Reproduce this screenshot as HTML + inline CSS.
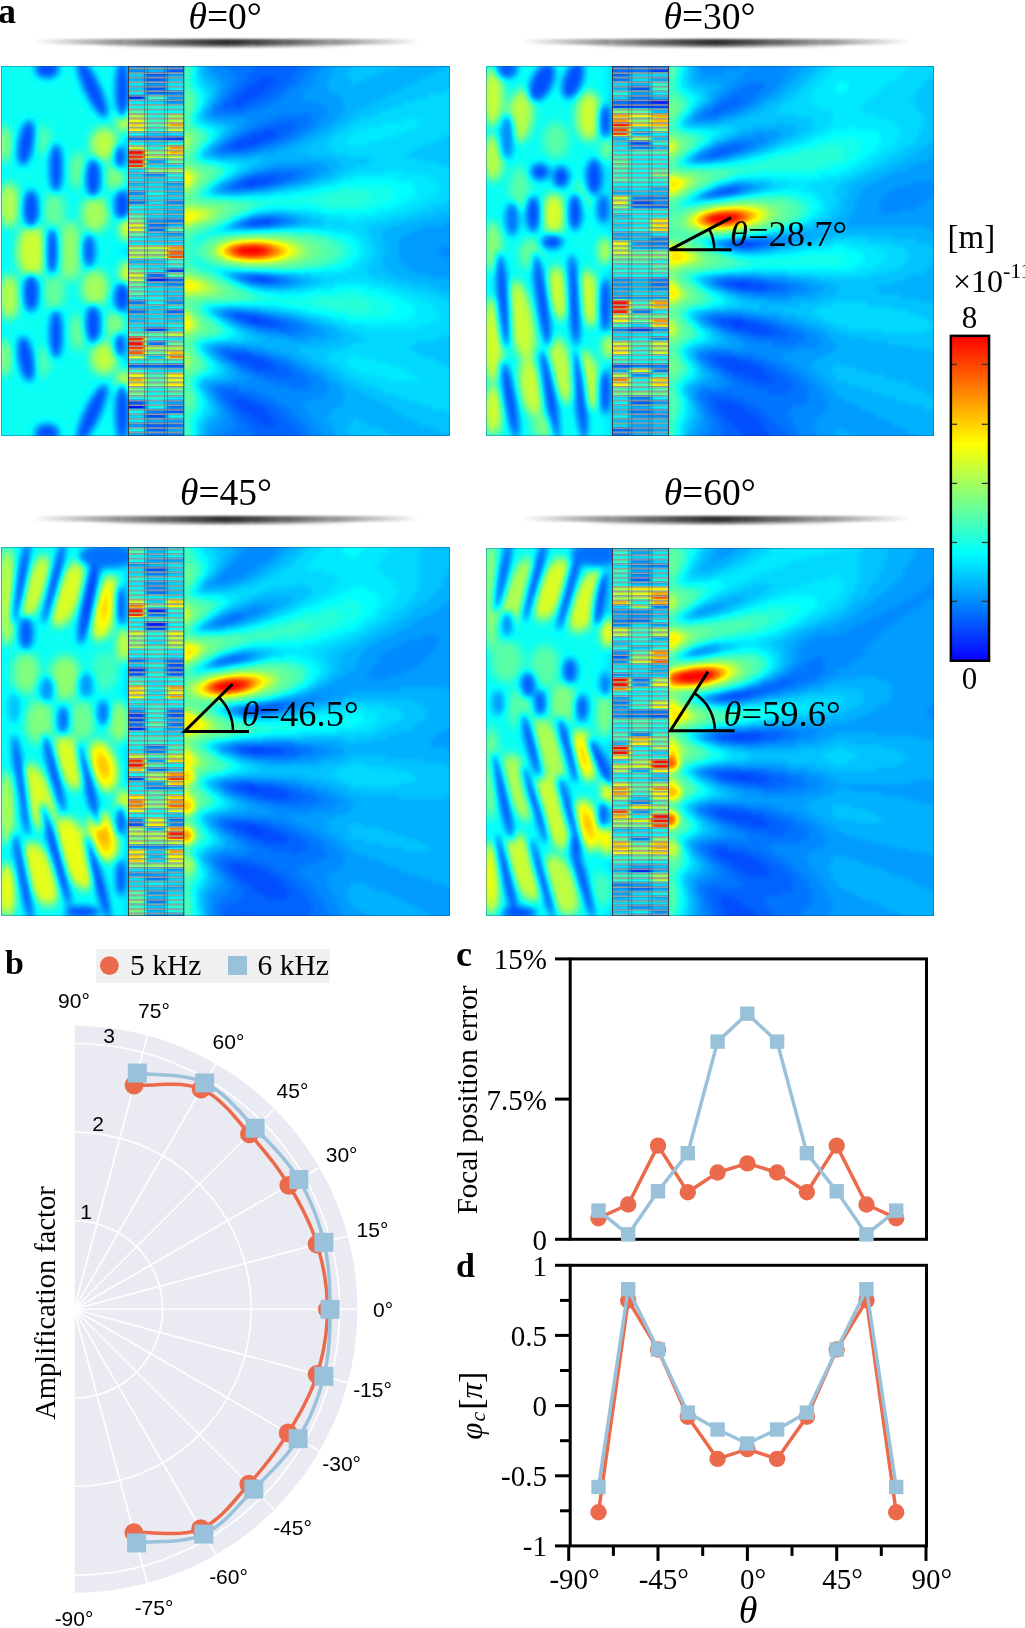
<!DOCTYPE html>
<html><head><meta charset="utf-8"><style>
html,body{margin:0;padding:0;background:#fff;width:1025px;height:1628px;overflow:hidden}
svg{display:block}
.sf{font-family:"Liberation Serif",serif}
.ss{font-family:"Liberation Sans",sans-serif}
</style></head><body>
<svg width="1025" height="1628" viewBox="0 0 1025 1628">
<defs>
<linearGradient id="barg" x1="0" x2="1" y1="0" y2="0">
<stop offset="0" stop-color="#000" stop-opacity="0"/><stop offset="0.5" stop-color="#222" stop-opacity="0.95"/><stop offset="1" stop-color="#000" stop-opacity="0"/></linearGradient>
<linearGradient id="barg2" x1="0" x2="1" y1="0" y2="0"><stop offset="0" stop-color="#000" stop-opacity="0"/><stop offset="0.5" stop-color="#000" stop-opacity="0.4"/><stop offset="1" stop-color="#000" stop-opacity="0"/></linearGradient>
<filter id="bb" x="-5%" y="-100%" width="110%" height="300%"><feGaussianBlur stdDeviation="0.8 0.8"/></filter>
<linearGradient id="cmapg" x1="0" x2="0" y1="1" y2="0">
<stop offset="0" stop-color="#0a00ff"/><stop offset="0.1667" stop-color="#0080ff"/><stop offset="0.333" stop-color="#00ffff"/><stop offset="0.5" stop-color="#80ff80"/><stop offset="0.667" stop-color="#ffff00"/><stop offset="0.833" stop-color="#ff8000"/><stop offset="1" stop-color="#ff0000"/></linearGradient>
</defs>
<filter id="cmap" x="0" y="0" width="1" height="1" color-interpolation-filters="sRGB"><feComponentTransfer>
<feFuncR type="table" tableValues="0 0 1 1"/><feFuncG type="table" tableValues="0 1 1 0"/><feFuncB type="table" tableValues="1 1 0 0"/>
</feComponentTransfer></filter>
<filter id="sbl" x="-10%" y="-2%" width="120%" height="104%" color-interpolation-filters="sRGB"><feGaussianBlur stdDeviation="2.2 0.4"/></filter>
<filter id="bl1_5" x="-50%" y="-50%" width="200%" height="200%" color-interpolation-filters="sRGB"><feGaussianBlur stdDeviation="1.5"/></filter>
<filter id="bl2" x="-50%" y="-50%" width="200%" height="200%" color-interpolation-filters="sRGB"><feGaussianBlur stdDeviation="2"/></filter>
<filter id="bl3" x="-50%" y="-50%" width="200%" height="200%" color-interpolation-filters="sRGB"><feGaussianBlur stdDeviation="3"/></filter>
<filter id="bl3_5" x="-50%" y="-50%" width="200%" height="200%" color-interpolation-filters="sRGB"><feGaussianBlur stdDeviation="3.5"/></filter>
<filter id="bl4" x="-50%" y="-50%" width="200%" height="200%" color-interpolation-filters="sRGB"><feGaussianBlur stdDeviation="4"/></filter>
<filter id="bl5" x="-50%" y="-50%" width="200%" height="200%" color-interpolation-filters="sRGB"><feGaussianBlur stdDeviation="5"/></filter>
<filter id="bl6" x="-50%" y="-50%" width="200%" height="200%" color-interpolation-filters="sRGB"><feGaussianBlur stdDeviation="6"/></filter>
<filter id="bl8" x="-50%" y="-50%" width="200%" height="200%" color-interpolation-filters="sRGB"><feGaussianBlur stdDeviation="8"/></filter>
<filter id="bl10" x="-50%" y="-50%" width="200%" height="200%" color-interpolation-filters="sRGB"><feGaussianBlur stdDeviation="10"/></filter>
<pattern id="lines1" x="0" y="67.5" width="8" height="4.55" patternUnits="userSpaceOnUse"><rect x="0" y="0" width="8" height="2.1" fill="#333" fill-opacity="0.45"/><rect x="0" y="0.4" width="8" height="1.3" fill="#ababab" fill-opacity="0.97"/></pattern>
<clipPath id="sclip1"><rect x="128.5" y="66" width="55.30000000000001" height="370"/></clipPath>
<clipPath id="clip1"><rect x="1" y="66" width="449" height="370"/></clipPath>
<pattern id="lines2" x="0" y="67.5" width="8" height="4.55" patternUnits="userSpaceOnUse"><rect x="0" y="0" width="8" height="2.1" fill="#333" fill-opacity="0.45"/><rect x="0" y="0.4" width="8" height="1.3" fill="#ababab" fill-opacity="0.97"/></pattern>
<clipPath id="sclip2"><rect x="612.5" y="66" width="56.0" height="370"/></clipPath>
<clipPath id="clip2"><rect x="486" y="66" width="448" height="370"/></clipPath>
<pattern id="lines3" x="0" y="548.5" width="8" height="4.55" patternUnits="userSpaceOnUse"><rect x="0" y="0" width="8" height="2.1" fill="#333" fill-opacity="0.45"/><rect x="0" y="0.4" width="8" height="1.3" fill="#ababab" fill-opacity="0.97"/></pattern>
<clipPath id="sclip3"><rect x="128.5" y="547" width="55.30000000000001" height="369"/></clipPath>
<clipPath id="clip3"><rect x="1" y="547" width="449" height="369"/></clipPath>
<pattern id="lines4" x="0" y="549.5" width="8" height="4.55" patternUnits="userSpaceOnUse"><rect x="0" y="0" width="8" height="2.1" fill="#333" fill-opacity="0.45"/><rect x="0" y="0.4" width="8" height="1.3" fill="#ababab" fill-opacity="0.97"/></pattern>
<clipPath id="sclip4"><rect x="612.5" y="548" width="56.0" height="368"/></clipPath>
<clipPath id="clip4"><rect x="486" y="548" width="448" height="368"/></clipPath>
<g clip-path="url(#clip1)"><g filter="url(#cmap)">
<rect x="-19" y="46" width="489" height="410" fill="rgb(59,59,59)"/>
<g filter="url(#bl2)"><path fill="rgb(20,20,20)" d="M247 182h8v4h-8zM259 278h8v4h-8zM251 318h8v4h-8z"/><path fill="rgb(26,26,26)" d="M259 78h16v4h-16zM255 82h16v4h-16zM247 86h20v4h-20zM243 90h20v4h-20zM239 94h20v4h-20zM235 98h16v4h-16zM235 102h8v4h-8zM263 130h12v4h-12zM251 134h24v4h-24zM239 138h28v4h-28zM235 142h24v4h-24zM231 146h12v4h-12zM247 178h28v4h-28zM239 182h8v4h-8zM255 182h12v4h-12zM259 218h12v4h-12zM247 222h24v4h-24zM251 278h8v4h-8zM267 278h8v4h-8zM235 314h20v4h-20zM243 318h8v4h-8zM259 318h12v4h-12zM255 322h20v4h-20zM231 354h20v4h-20zM235 358h28v4h-28zM247 362h24v4h-24zM255 366h20v4h-20zM235 398h12v4h-12zM235 402h20v4h-20zM239 406h24v4h-24zM243 410h24v4h-24zM251 414h20v4h-20zM255 418h16v4h-16zM263 422h12v4h-12z"/><path fill="rgb(33,33,33)" d="M259 62h40v4h-40zM255 66h44v4h-44zM251 70h44v4h-44zM247 74h44v4h-44zM247 78h12v4h-12zM275 78h16v4h-16zM243 82h12v4h-12zM271 82h16v4h-16zM239 86h8v4h-8zM267 86h16v4h-16zM235 90h8v4h-8zM263 90h12v4h-12zM231 94h8v4h-8zM259 94h12v4h-12zM227 98h8v4h-8zM251 98h12v4h-12zM223 102h12v4h-12zM243 102h12v4h-12zM223 106h24v4h-24zM275 122h20v4h-20zM263 126h32v4h-32zM251 130h12v4h-12zM275 130h16v4h-16zM243 134h8v4h-8zM275 134h8v4h-8zM235 138h4v4h-4zM267 138h12v4h-12zM227 142h8v4h-8zM259 142h8v4h-8zM223 146h8v4h-8zM243 146h12v4h-12zM255 174h36v4h-36zM243 178h4v4h-4zM275 178h8v4h-8zM235 182h4v4h-4zM267 182h8v4h-8zM231 186h24v4h-24zM251 218h8v4h-8zM271 218h8v4h-8zM243 222h4v4h-4zM271 222h4v4h-4zM247 274h16v4h-16zM247 278h4v4h-4zM275 278h4v4h-4zM231 314h4v4h-4zM255 314h8v4h-8zM235 318h8v4h-8zM271 318h8v4h-8zM247 322h8v4h-8zM275 322h12v4h-12zM267 326h20v4h-20zM223 350h24v4h-24zM227 354h4v4h-4zM251 354h12v4h-12zM231 358h4v4h-4zM263 358h8v4h-8zM239 362h8v4h-8zM271 362h8v4h-8zM247 366h8v4h-8zM275 366h12v4h-12zM255 370h36v4h-36zM267 374h28v4h-28zM223 390h16v4h-16zM223 394h28v4h-28zM227 398h8v4h-8zM247 398h12v4h-12zM227 402h8v4h-8zM255 402h12v4h-12zM231 406h8v4h-8zM263 406h12v4h-12zM235 410h8v4h-8zM267 410h12v4h-12zM239 414h12v4h-12zM271 414h12v4h-12zM243 418h12v4h-12zM271 418h16v4h-16zM247 422h16v4h-16zM275 422h16v4h-16zM251 426h44v4h-44zM251 430h44v4h-44zM255 434h44v4h-44zM259 438h40v4h-40z"/><path fill="rgb(39,39,39)" d="M219 62h40v4h-40zM299 62h16v4h-16zM227 66h28v4h-28zM299 66h12v4h-12zM231 70h20v4h-20zM295 70h12v4h-12zM235 74h12v4h-12zM291 74h12v4h-12zM235 78h12v4h-12zM291 78h8v4h-8zM235 82h8v4h-8zM287 82h12v4h-12zM231 86h8v4h-8zM283 86h8v4h-8zM227 90h8v4h-8zM275 90h12v4h-12zM227 94h4v4h-4zM271 94h12v4h-12zM223 98h4v4h-4zM263 98h16v4h-16zM219 102h4v4h-4zM255 102h16v4h-16zM215 106h8v4h-8zM247 106h16v4h-16zM215 110h32v4h-32zM279 114h32v4h-32zM267 118h44v4h-44zM259 122h16v4h-16zM295 122h16v4h-16zM251 126h12v4h-12zM295 126h12v4h-12zM243 130h8v4h-8zM291 130h8v4h-8zM235 134h8v4h-8zM283 134h12v4h-12zM231 138h4v4h-4zM279 138h8v4h-8zM223 142h4v4h-4zM267 142h8v4h-8zM219 146h4v4h-4zM255 146h8v4h-8zM219 150h28v4h-28zM263 170h40v4h-40zM247 174h8v4h-8zM291 174h8v4h-8zM239 178h4v4h-4zM283 178h12v4h-12zM231 182h4v4h-4zM275 182h8v4h-8zM227 186h4v4h-4zM255 186h8v4h-8zM247 218h4v4h-4zM279 218h8v4h-8zM239 222h4v4h-4zM275 222h8v4h-8zM239 274h8v4h-8zM263 274h8v4h-8zM243 278h4v4h-4zM279 278h8v4h-8zM259 282h20v4h-20zM227 310h20v4h-20zM227 314h4v4h-4zM263 314h8v4h-8zM279 318h8v4h-8zM243 322h4v4h-4zM287 322h12v4h-12zM255 326h12v4h-12zM287 326h16v4h-16zM279 330h16v4h-16zM223 346h8v4h-8zM219 350h4v4h-4zM247 350h8v4h-8zM223 354h4v4h-4zM263 354h8v4h-8zM227 358h4v4h-4zM271 358h12v4h-12zM235 362h4v4h-4zM279 362h12v4h-12zM239 366h8v4h-8zM287 366h8v4h-8zM247 370h8v4h-8zM291 370h12v4h-12zM255 374h12v4h-12zM295 374h12v4h-12zM263 378h48v4h-48zM275 382h36v4h-36zM215 386h24v4h-24zM291 386h16v4h-16zM215 390h8v4h-8zM239 390h16v4h-16zM219 394h4v4h-4zM251 394h16v4h-16zM219 398h8v4h-8zM259 398h16v4h-16zM223 402h4v4h-4zM267 402h12v4h-12zM227 406h4v4h-4zM275 406h12v4h-12zM231 410h4v4h-4zM279 410h12v4h-12zM231 414h8v4h-8zM283 414h12v4h-12zM235 418h8v4h-8zM287 418h12v4h-12zM235 422h12v4h-12zM291 422h12v4h-12zM235 426h16v4h-16zM295 426h12v4h-12zM231 430h20v4h-20zM295 430h12v4h-12zM223 434h32v4h-32zM299 434h12v4h-12zM219 438h40v4h-40zM299 438h16v4h-16z"/><path fill="rgb(46,46,46)" d="M211 62h8v4h-8zM315 62h12v4h-12zM211 66h16v4h-16zM311 66h12v4h-12zM215 70h16v4h-16zM307 70h12v4h-12zM219 74h16v4h-16zM303 74h12v4h-12zM223 78h12v4h-12zM299 78h16v4h-16zM227 82h8v4h-8zM299 82h12v4h-12zM223 86h8v4h-8zM291 86h16v4h-16zM223 90h4v4h-4zM287 90h16v4h-16zM219 94h8v4h-8zM283 94h20v4h-20zM219 98h4v4h-4zM279 98h24v4h-24zM215 102h4v4h-4zM271 102h48v4h-48zM211 106h4v4h-4zM263 106h64v4h-64zM211 110h4v4h-4zM247 110h80v4h-80zM211 114h68v4h-68zM311 114h16v4h-16zM247 118h20v4h-20zM311 118h12v4h-12zM247 122h12v4h-12zM311 122h8v4h-8zM243 126h8v4h-8zM307 126h8v4h-8zM239 130h4v4h-4zM299 130h12v4h-12zM231 134h4v4h-4zM295 134h8v4h-8zM227 138h4v4h-4zM287 138h8v4h-8zM219 142h4v4h-4zM275 142h12v4h-12zM215 146h4v4h-4zM263 146h12v4h-12zM215 150h4v4h-4zM247 150h12v4h-12zM271 166h40v4h-40zM255 170h8v4h-8zM303 170h12v4h-12zM243 174h4v4h-4zM299 174h12v4h-12zM235 178h4v4h-4zM295 178h8v4h-8zM227 182h4v4h-4zM283 182h8v4h-8zM223 186h4v4h-4zM263 186h8v4h-8zM231 190h4v4h-4zM263 214h16v4h-16zM287 218h8v4h-8zM283 222h8v4h-8zM243 226h16v4h-16zM451 242h4v4h-4zM439 246h16v4h-16zM439 250h16v4h-16zM443 254h12v4h-12zM235 274h4v4h-4zM271 274h8v4h-8zM239 278h4v4h-4zM287 278h4v4h-4zM251 282h8v4h-8zM279 282h12v4h-12zM223 310h4v4h-4zM247 310h12v4h-12zM223 314h4v4h-4zM271 314h8v4h-8zM231 318h4v4h-4zM287 318h8v4h-8zM239 322h4v4h-4zM299 322h8v4h-8zM251 326h4v4h-4zM303 326h8v4h-8zM263 330h16v4h-16zM295 330h20v4h-20zM287 334h16v4h-16zM215 346h8v4h-8zM231 346h16v4h-16zM215 350h4v4h-4zM255 350h12v4h-12zM219 354h4v4h-4zM271 354h8v4h-8zM223 358h4v4h-4zM283 358h8v4h-8zM231 362h4v4h-4zM291 362h8v4h-8zM235 366h4v4h-4zM295 366h12v4h-12zM239 370h8v4h-8zM303 370h8v4h-8zM247 374h8v4h-8zM307 374h12v4h-12zM247 378h16v4h-16zM311 378h12v4h-12zM219 382h56v4h-56zM311 382h16v4h-16zM211 386h4v4h-4zM239 386h52v4h-52zM307 386h20v4h-20zM211 390h4v4h-4zM255 390h72v4h-72zM215 394h4v4h-4zM267 394h56v4h-56zM215 398h4v4h-4zM275 398h36v4h-36zM219 402h4v4h-4zM279 402h24v4h-24zM223 406h4v4h-4zM287 406h16v4h-16zM223 410h8v4h-8zM291 410h16v4h-16zM227 414h4v4h-4zM295 414h12v4h-12zM223 418h12v4h-12zM299 418h12v4h-12zM223 422h12v4h-12zM303 422h12v4h-12zM219 426h16v4h-16zM307 426h12v4h-12zM215 430h16v4h-16zM307 430h12v4h-12zM211 434h12v4h-12zM311 434h12v4h-12zM211 438h8v4h-8zM315 438h12v4h-12z"/><path fill="rgb(52,52,52)" d="M207 62h4v4h-4zM327 62h12v4h-12zM207 66h4v4h-4zM323 66h12v4h-12zM207 70h8v4h-8zM319 70h12v4h-12zM211 74h8v4h-8zM315 74h16v4h-16zM215 78h8v4h-8zM315 78h12v4h-12zM219 82h8v4h-8zM311 82h16v4h-16zM219 86h4v4h-4zM307 86h20v4h-20zM219 90h4v4h-4zM303 90h28v4h-28zM215 94h4v4h-4zM303 94h36v4h-36zM215 98h4v4h-4zM303 98h40v4h-40zM211 102h4v4h-4zM319 102h24v4h-24zM327 106h16v4h-16zM207 110h4v4h-4zM327 110h16v4h-16zM207 114h4v4h-4zM327 114h12v4h-12zM215 118h32v4h-32zM323 118h12v4h-12zM235 122h12v4h-12zM319 122h12v4h-12zM235 126h8v4h-8zM315 126h12v4h-12zM231 130h8v4h-8zM311 130h8v4h-8zM227 134h4v4h-4zM303 134h8v4h-8zM223 138h4v4h-4zM295 138h8v4h-8zM287 142h8v4h-8zM211 146h4v4h-4zM275 146h12v4h-12zM211 150h4v4h-4zM259 150h16v4h-16zM215 154h36v4h-36zM275 162h48v4h-48zM263 166h8v4h-8zM311 166h16v4h-16zM251 170h4v4h-4zM315 170h12v4h-12zM239 174h4v4h-4zM311 174h8v4h-8zM231 178h4v4h-4zM303 178h8v4h-8zM223 182h4v4h-4zM291 182h8v4h-8zM219 186h4v4h-4zM271 186h8v4h-8zM219 190h12v4h-12zM235 190h16v4h-16zM255 214h8v4h-8zM279 214h12v4h-12zM243 218h4v4h-4zM295 218h4v4h-4zM235 222h4v4h-4zM291 222h8v4h-8zM443 222h12v4h-12zM235 226h8v4h-8zM259 226h12v4h-12zM423 226h32v4h-32zM411 230h44v4h-44zM403 234h52v4h-52zM399 238h56v4h-56zM399 242h52v4h-52zM399 246h40v4h-40zM399 250h40v4h-40zM399 254h44v4h-44zM399 258h56v4h-56zM403 262h52v4h-52zM407 266h48v4h-48zM415 270h40v4h-40zM231 274h4v4h-4zM279 274h8v4h-8zM431 274h24v4h-24zM291 278h8v4h-8zM451 278h4v4h-4zM247 282h4v4h-4zM291 282h8v4h-8zM219 310h4v4h-4zM259 310h8v4h-8zM219 314h4v4h-4zM279 314h12v4h-12zM227 318h4v4h-4zM295 318h8v4h-8zM235 322h4v4h-4zM307 322h8v4h-8zM243 326h8v4h-8zM311 326h12v4h-12zM255 330h8v4h-8zM315 330h12v4h-12zM267 334h20v4h-20zM303 334h24v4h-24zM291 338h20v4h-20zM211 346h4v4h-4zM247 346h16v4h-16zM211 350h4v4h-4zM267 350h12v4h-12zM215 354h4v4h-4zM279 354h12v4h-12zM219 358h4v4h-4zM291 358h8v4h-8zM227 362h4v4h-4zM299 362h8v4h-8zM231 366h4v4h-4zM307 366h8v4h-8zM235 370h4v4h-4zM311 370h12v4h-12zM235 374h12v4h-12zM319 374h8v4h-8zM231 378h16v4h-16zM323 378h8v4h-8zM207 382h12v4h-12zM327 382h12v4h-12zM207 386h4v4h-4zM327 386h12v4h-12zM207 390h4v4h-4zM327 390h16v4h-16zM211 394h4v4h-4zM323 394h20v4h-20zM311 398h32v4h-32zM215 402h4v4h-4zM303 402h40v4h-40zM219 406h4v4h-4zM303 406h32v4h-32zM219 410h4v4h-4zM307 410h24v4h-24zM219 414h8v4h-8zM307 414h20v4h-20zM215 418h8v4h-8zM311 418h16v4h-16zM211 422h12v4h-12zM315 422h16v4h-16zM207 426h12v4h-12zM319 426h12v4h-12zM207 430h8v4h-8zM319 430h16v4h-16zM207 434h4v4h-4zM323 434h12v4h-12zM207 438h4v4h-4zM327 438h12v4h-12z"/><path fill="rgb(59,59,59)" d="M203 62h4v4h-4zM339 62h12v4h-12zM403 62h52v4h-52zM203 66h4v4h-4zM335 66h16v4h-16zM395 66h48v4h-48zM203 70h4v4h-4zM331 70h16v4h-16zM383 70h52v4h-52zM203 74h8v4h-8zM331 74h16v4h-16zM375 74h52v4h-52zM207 78h8v4h-8zM327 78h24v4h-24zM363 78h56v4h-56zM211 82h8v4h-8zM327 82h24v4h-24zM355 82h56v4h-56zM215 86h4v4h-4zM327 86h76v4h-76zM215 90h4v4h-4zM331 90h64v4h-64zM339 94h48v4h-48zM211 98h4v4h-4zM343 98h36v4h-36zM343 102h28v4h-28zM207 106h4v4h-4zM343 106h20v4h-20zM203 110h4v4h-4zM343 110h12v4h-12zM203 114h4v4h-4zM339 114h12v4h-12zM207 118h8v4h-8zM335 118h12v4h-12zM223 122h12v4h-12zM331 122h8v4h-8zM227 126h8v4h-8zM327 126h8v4h-8zM227 130h4v4h-4zM319 130h12v4h-12zM223 134h4v4h-4zM311 134h12v4h-12zM219 138h4v4h-4zM303 138h12v4h-12zM215 142h4v4h-4zM295 142h16v4h-16zM287 146h16v4h-16zM207 150h4v4h-4zM275 150h24v4h-24zM207 154h8v4h-8zM251 154h60v4h-60zM263 158h72v4h-72zM259 162h16v4h-16zM323 162h16v4h-16zM251 166h12v4h-12zM327 166h12v4h-12zM243 170h8v4h-8zM327 170h8v4h-8zM235 174h4v4h-4zM319 174h12v4h-12zM227 178h4v4h-4zM311 178h8v4h-8zM219 182h4v4h-4zM299 182h8v4h-8zM215 186h4v4h-4zM279 186h8v4h-8zM215 190h4v4h-4zM251 190h12v4h-12zM451 210h4v4h-4zM251 214h4v4h-4zM291 214h8v4h-8zM435 214h20v4h-20zM239 218h4v4h-4zM299 218h12v4h-12zM419 218h36v4h-36zM231 222h4v4h-4zM299 222h8v4h-8zM403 222h40v4h-40zM231 226h4v4h-4zM271 226h8v4h-8zM391 226h32v4h-32zM383 230h28v4h-28zM383 234h20v4h-20zM383 238h16v4h-16zM383 242h16v4h-16zM387 246h12v4h-12zM387 250h12v4h-12zM383 254h16v4h-16zM383 258h16v4h-16zM383 262h20v4h-20zM383 266h24v4h-24zM387 270h28v4h-28zM287 274h12v4h-12zM395 274h36v4h-36zM235 278h4v4h-4zM299 278h12v4h-12zM407 278h44v4h-44zM299 282h8v4h-8zM427 282h28v4h-28zM263 286h28v4h-28zM439 286h16v4h-16zM223 306h16v4h-16zM215 310h4v4h-4zM267 310h12v4h-12zM291 314h8v4h-8zM223 318h4v4h-4zM303 318h8v4h-8zM231 322h4v4h-4zM315 322h8v4h-8zM239 326h4v4h-4zM323 326h12v4h-12zM247 330h8v4h-8zM327 330h12v4h-12zM255 334h12v4h-12zM327 334h16v4h-16zM263 338h28v4h-28zM311 338h28v4h-28zM215 342h112v4h-112zM207 346h4v4h-4zM263 346h36v4h-36zM207 350h4v4h-4zM279 350h20v4h-20zM211 354h4v4h-4zM291 354h16v4h-16zM299 358h12v4h-12zM223 362h4v4h-4zM307 362h12v4h-12zM227 366h4v4h-4zM315 366h12v4h-12zM227 370h8v4h-8zM323 370h8v4h-8zM227 374h8v4h-8zM327 374h12v4h-12zM211 378h20v4h-20zM331 378h12v4h-12zM203 382h4v4h-4zM339 382h8v4h-8zM203 386h4v4h-4zM339 386h12v4h-12zM343 390h16v4h-16zM207 394h4v4h-4zM343 394h24v4h-24zM211 398h4v4h-4zM343 398h32v4h-32zM211 402h4v4h-4zM343 402h40v4h-40zM215 406h4v4h-4zM335 406h56v4h-56zM215 410h4v4h-4zM331 410h64v4h-64zM211 414h8v4h-8zM327 414h76v4h-76zM207 418h8v4h-8zM327 418h24v4h-24zM359 418h52v4h-52zM207 422h4v4h-4zM331 422h20v4h-20zM367 422h52v4h-52zM203 426h4v4h-4zM331 426h16v4h-16zM379 426h52v4h-52zM203 430h4v4h-4zM335 430h12v4h-12zM387 430h52v4h-52zM203 434h4v4h-4zM335 434h16v4h-16zM399 434h48v4h-48zM203 438h4v4h-4zM339 438h12v4h-12zM407 438h48v4h-48z"/><path fill="rgb(65,65,65)" d="M199 62h4v4h-4zM351 62h52v4h-52zM199 66h4v4h-4zM351 66h44v4h-44zM443 66h12v4h-12zM199 70h4v4h-4zM347 70h36v4h-36zM435 70h20v4h-20zM199 74h4v4h-4zM347 74h28v4h-28zM427 74h28v4h-28zM203 78h4v4h-4zM351 78h12v4h-12zM419 78h36v4h-36zM203 82h8v4h-8zM351 82h4v4h-4zM411 82h44v4h-44zM207 86h8v4h-8zM403 86h52v4h-52zM211 90h4v4h-4zM395 90h48v4h-48zM211 94h4v4h-4zM387 94h40v4h-40zM207 98h4v4h-4zM379 98h36v4h-36zM207 102h4v4h-4zM371 102h32v4h-32zM203 106h4v4h-4zM363 106h28v4h-28zM355 110h24v4h-24zM199 114h4v4h-4zM351 114h20v4h-20zM203 118h4v4h-4zM347 118h12v4h-12zM211 122h12v4h-12zM339 122h12v4h-12zM223 126h4v4h-4zM335 126h12v4h-12zM223 130h4v4h-4zM331 130h8v4h-8zM219 134h4v4h-4zM323 134h12v4h-12zM447 134h8v4h-8zM215 138h4v4h-4zM315 138h16v4h-16zM439 138h16v4h-16zM211 142h4v4h-4zM311 142h16v4h-16zM431 142h24v4h-24zM207 146h4v4h-4zM303 146h24v4h-24zM419 146h36v4h-36zM203 150h4v4h-4zM299 150h36v4h-36zM411 150h44v4h-44zM203 154h4v4h-4zM311 154h36v4h-36zM407 154h48v4h-48zM219 158h44v4h-44zM335 158h36v4h-36zM423 158h32v4h-32zM247 162h12v4h-12zM339 162h28v4h-28zM439 162h16v4h-16zM247 166h4v4h-4zM339 166h16v4h-16zM451 166h4v4h-4zM239 170h4v4h-4zM335 170h12v4h-12zM231 174h4v4h-4zM331 174h8v4h-8zM319 178h12v4h-12zM307 182h8v4h-8zM287 186h12v4h-12zM211 190h4v4h-4zM263 190h12v4h-12zM451 198h4v4h-4zM443 202h12v4h-12zM431 206h24v4h-24zM271 210h16v4h-16zM419 210h32v4h-32zM247 214h4v4h-4zM299 214h12v4h-12zM407 214h28v4h-28zM311 218h12v4h-12zM391 218h28v4h-28zM307 222h16v4h-16zM375 222h28v4h-28zM227 226h4v4h-4zM279 226h12v4h-12zM367 226h24v4h-24zM367 230h16v4h-16zM371 234h12v4h-12zM371 238h12v4h-12zM375 242h8v4h-8zM375 246h12v4h-12zM375 250h12v4h-12zM375 254h8v4h-8zM371 258h12v4h-12zM371 262h12v4h-12zM367 266h16v4h-16zM231 270h28v4h-28zM367 270h20v4h-20zM227 274h4v4h-4zM299 274h12v4h-12zM371 274h24v4h-24zM311 278h12v4h-12zM383 278h24v4h-24zM243 282h4v4h-4zM307 282h12v4h-12zM395 282h32v4h-32zM255 286h8v4h-8zM291 286h12v4h-12zM411 286h28v4h-28zM427 290h28v4h-28zM439 294h16v4h-16zM447 298h8v4h-8zM215 306h8v4h-8zM239 306h20v4h-20zM211 310h4v4h-4zM279 310h8v4h-8zM215 314h4v4h-4zM299 314h8v4h-8zM311 318h12v4h-12zM227 322h4v4h-4zM323 322h12v4h-12zM235 326h4v4h-4zM335 326h8v4h-8zM243 330h4v4h-4zM339 330h12v4h-12zM247 334h8v4h-8zM343 334h16v4h-16zM447 334h8v4h-8zM243 338h20v4h-20zM339 338h28v4h-28zM435 338h20v4h-20zM207 342h8v4h-8zM327 342h24v4h-24zM415 342h40v4h-40zM203 346h4v4h-4zM299 346h44v4h-44zM411 346h44v4h-44zM299 350h32v4h-32zM415 350h40v4h-40zM307 354h20v4h-20zM423 354h32v4h-32zM215 358h4v4h-4zM311 358h16v4h-16zM435 358h20v4h-20zM219 362h4v4h-4zM319 362h12v4h-12zM443 362h12v4h-12zM223 366h4v4h-4zM327 366h12v4h-12zM451 366h4v4h-4zM223 370h4v4h-4zM331 370h12v4h-12zM219 374h8v4h-8zM339 374h8v4h-8zM203 378h8v4h-8zM343 378h12v4h-12zM199 382h4v4h-4zM347 382h16v4h-16zM199 386h4v4h-4zM351 386h24v4h-24zM203 390h4v4h-4zM359 390h24v4h-24zM367 394h28v4h-28zM207 398h4v4h-4zM375 398h32v4h-32zM383 402h36v4h-36zM211 406h4v4h-4zM391 406h40v4h-40zM211 410h4v4h-4zM395 410h52v4h-52zM207 414h4v4h-4zM403 414h52v4h-52zM203 418h4v4h-4zM351 418h8v4h-8zM411 418h44v4h-44zM199 422h8v4h-8zM351 422h16v4h-16zM419 422h36v4h-36zM199 426h4v4h-4zM347 426h32v4h-32zM431 426h24v4h-24zM199 430h4v4h-4zM347 430h40v4h-40zM439 430h16v4h-16zM199 434h4v4h-4zM351 434h48v4h-48zM447 434h8v4h-8zM199 438h4v4h-4zM351 438h56v4h-56z"/><path fill="rgb(72,72,72)" d="M199 78h4v4h-4zM199 82h4v4h-4zM203 86h4v4h-4zM207 90h4v4h-4zM443 90h12v4h-12zM207 94h4v4h-4zM427 94h28v4h-28zM415 98h40v4h-40zM203 102h4v4h-4zM403 102h52v4h-52zM391 106h64v4h-64zM199 110h4v4h-4zM379 110h76v4h-76zM371 114h84v4h-84zM199 118h4v4h-4zM359 118h44v4h-44zM419 118h36v4h-36zM203 122h8v4h-8zM351 122h32v4h-32zM419 122h36v4h-36zM215 126h8v4h-8zM347 126h20v4h-20zM415 126h40v4h-40zM219 130h4v4h-4zM339 130h16v4h-16zM407 130h48v4h-48zM335 134h16v4h-16zM395 134h52v4h-52zM331 138h16v4h-16zM383 138h56v4h-56zM327 142h20v4h-20zM367 142h64v4h-64zM327 146h92v4h-92zM335 150h76v4h-76zM347 154h60v4h-60zM211 158h8v4h-8zM371 158h52v4h-52zM239 162h8v4h-8zM367 162h72v4h-72zM239 166h8v4h-8zM355 166h96v4h-96zM235 170h4v4h-4zM347 170h36v4h-36zM403 170h52v4h-52zM339 174h12v4h-12zM427 174h28v4h-28zM223 178h4v4h-4zM331 178h8v4h-8zM435 178h20v4h-20zM215 182h4v4h-4zM315 182h12v4h-12zM439 182h16v4h-16zM211 186h4v4h-4zM299 186h12v4h-12zM439 186h16v4h-16zM275 190h12v4h-12zM439 190h16v4h-16zM223 194h20v4h-20zM435 194h20v4h-20zM427 198h24v4h-24zM419 202h24v4h-24zM411 206h20v4h-20zM259 210h12v4h-12zM287 210h20v4h-20zM399 210h20v4h-20zM311 214h16v4h-16zM383 214h24v4h-24zM235 218h4v4h-4zM323 218h20v4h-20zM363 218h28v4h-28zM227 222h4v4h-4zM323 222h52v4h-52zM223 226h4v4h-4zM291 226h76v4h-76zM355 230h12v4h-12zM359 234h12v4h-12zM363 238h8v4h-8zM363 242h12v4h-12zM367 246h8v4h-8zM367 250h8v4h-8zM367 254h8v4h-8zM363 258h8v4h-8zM359 262h12v4h-12zM355 266h12v4h-12zM223 270h8v4h-8zM259 270h12v4h-12zM347 270h20v4h-20zM223 274h4v4h-4zM311 274h60v4h-60zM231 278h4v4h-4zM323 278h28v4h-28zM355 278h28v4h-28zM239 282h4v4h-4zM319 282h16v4h-16zM371 282h24v4h-24zM251 286h4v4h-4zM303 286h12v4h-12zM391 286h20v4h-20zM279 290h4v4h-4zM403 290h24v4h-24zM415 294h24v4h-24zM423 298h24v4h-24zM431 302h24v4h-24zM211 306h4v4h-4zM259 306h16v4h-16zM435 306h20v4h-20zM287 310h12v4h-12zM439 310h16v4h-16zM307 314h12v4h-12zM439 314h16v4h-16zM219 318h4v4h-4zM323 318h8v4h-8zM439 318h16v4h-16zM335 322h12v4h-12zM431 322h24v4h-24zM231 326h4v4h-4zM343 326h20v4h-20zM419 326h36v4h-36zM239 330h4v4h-4zM351 330h104v4h-104zM239 334h8v4h-8zM359 334h88v4h-88zM227 338h16v4h-16zM367 338h68v4h-68zM203 342h4v4h-4zM351 342h64v4h-64zM343 346h68v4h-68zM203 350h4v4h-4zM331 350h84v4h-84zM207 354h4v4h-4zM327 354h24v4h-24zM359 354h64v4h-64zM211 358h4v4h-4zM327 358h20v4h-20zM375 358h60v4h-60zM215 362h4v4h-4zM331 362h16v4h-16zM391 362h52v4h-52zM219 366h4v4h-4zM339 366h12v4h-12zM403 366h48v4h-48zM219 370h4v4h-4zM343 370h16v4h-16zM411 370h44v4h-44zM211 374h8v4h-8zM347 374h28v4h-28zM415 374h40v4h-40zM199 378h4v4h-4zM355 378h32v4h-32zM419 378h36v4h-36zM363 382h92v4h-92zM375 386h80v4h-80zM199 390h4v4h-4zM383 390h72v4h-72zM203 394h4v4h-4zM395 394h60v4h-60zM407 398h48v4h-48zM207 402h4v4h-4zM419 402h36v4h-36zM207 406h4v4h-4zM431 406h24v4h-24zM203 410h8v4h-8zM447 410h8v4h-8zM203 414h4v4h-4zM199 418h4v4h-4z"/><path fill="rgb(78,78,78)" d="M195 62h4v4h-4zM195 66h4v4h-4zM195 70h4v4h-4zM195 74h4v4h-4zM195 78h4v4h-4zM195 82h4v4h-4zM199 86h4v4h-4zM203 90h4v4h-4zM203 94h4v4h-4zM203 98h4v4h-4zM199 106h4v4h-4zM195 114h4v4h-4zM195 118h4v4h-4zM403 118h16v4h-16zM199 122h4v4h-4zM383 122h36v4h-36zM211 126h4v4h-4zM367 126h48v4h-48zM215 130h4v4h-4zM355 130h52v4h-52zM215 134h4v4h-4zM351 134h44v4h-44zM211 138h4v4h-4zM347 138h36v4h-36zM207 142h4v4h-4zM347 142h20v4h-20zM203 146h4v4h-4zM199 150h4v4h-4zM199 154h4v4h-4zM203 158h8v4h-8zM227 162h12v4h-12zM235 166h4v4h-4zM231 170h4v4h-4zM383 170h20v4h-20zM227 174h4v4h-4zM351 174h76v4h-76zM219 178h4v4h-4zM339 178h16v4h-16zM395 178h40v4h-40zM327 182h12v4h-12zM411 182h28v4h-28zM311 186h12v4h-12zM415 186h24v4h-24zM207 190h4v4h-4zM287 190h16v4h-16zM415 190h24v4h-24zM211 194h12v4h-12zM243 194h28v4h-28zM415 194h20v4h-20zM407 198h20v4h-20zM399 202h20v4h-20zM391 206h20v4h-20zM255 210h4v4h-4zM307 210h16v4h-16zM375 210h24v4h-24zM243 214h4v4h-4zM327 214h24v4h-24zM355 214h28v4h-28zM343 218h20v4h-20zM219 226h4v4h-4zM223 230h12v4h-12zM331 230h24v4h-24zM347 234h12v4h-12zM355 238h8v4h-8zM359 242h4v4h-4zM359 246h8v4h-8zM359 250h8v4h-8zM359 254h8v4h-8zM355 258h8v4h-8zM351 262h8v4h-8zM343 266h12v4h-12zM219 270h4v4h-4zM271 270h28v4h-28zM303 270h44v4h-44zM351 278h4v4h-4zM335 282h36v4h-36zM247 286h4v4h-4zM315 286h20v4h-20zM367 286h24v4h-24zM263 290h16v4h-16zM283 290h28v4h-28zM383 290h20v4h-20zM395 294h20v4h-20zM403 298h20v4h-20zM411 302h20v4h-20zM207 306h4v4h-4zM275 306h16v4h-16zM415 306h20v4h-20zM207 310h4v4h-4zM299 310h12v4h-12zM415 310h24v4h-24zM211 314h4v4h-4zM319 314h12v4h-12zM415 314h24v4h-24zM331 318h16v4h-16zM407 318h32v4h-32zM223 322h4v4h-4zM347 322h84v4h-84zM363 326h56v4h-56zM235 330h4v4h-4zM231 334h8v4h-8zM215 338h12v4h-12zM199 342h4v4h-4zM199 346h4v4h-4zM351 354h8v4h-8zM347 358h28v4h-28zM347 362h44v4h-44zM215 366h4v4h-4zM351 366h52v4h-52zM211 370h8v4h-8zM359 370h52v4h-52zM203 374h8v4h-8zM375 374h40v4h-40zM387 378h32v4h-32zM195 382h4v4h-4zM195 386h4v4h-4zM203 398h4v4h-4zM203 402h4v4h-4zM203 406h4v4h-4zM199 410h4v4h-4zM199 414h4v4h-4zM195 418h4v4h-4zM195 422h4v4h-4zM195 426h4v4h-4zM195 430h4v4h-4zM195 434h4v4h-4zM195 438h4v4h-4z"/><path fill="rgb(85,85,85)" d="M191 74h4v4h-4zM191 78h4v4h-4zM195 86h4v4h-4zM199 90h4v4h-4zM199 94h4v4h-4zM199 102h4v4h-4zM195 110h4v4h-4zM195 122h4v4h-4zM203 126h8v4h-8zM211 130h4v4h-4zM211 134h4v4h-4zM199 158h4v4h-4zM219 162h8v4h-8zM227 166h8v4h-8zM227 170h4v4h-4zM223 174h4v4h-4zM355 178h40v4h-40zM211 182h4v4h-4zM339 182h72v4h-72zM207 186h4v4h-4zM323 186h16v4h-16zM391 186h24v4h-24zM203 190h4v4h-4zM303 190h16v4h-16zM395 190h20v4h-20zM207 194h4v4h-4zM271 194h24v4h-24zM395 194h20v4h-20zM391 198h16v4h-16zM383 202h16v4h-16zM263 206h56v4h-56zM371 206h20v4h-20zM251 210h4v4h-4zM323 210h52v4h-52zM239 214h4v4h-4zM351 214h4v4h-4zM231 218h4v4h-4zM223 222h4v4h-4zM215 226h4v4h-4zM211 230h12v4h-12zM235 230h16v4h-16zM315 230h16v4h-16zM335 234h12v4h-12zM347 238h8v4h-8zM351 242h8v4h-8zM355 246h4v4h-4zM355 250h4v4h-4zM351 254h8v4h-8zM347 258h8v4h-8zM343 262h8v4h-8zM327 266h16v4h-16zM215 270h4v4h-4zM299 270h4v4h-4zM219 274h4v4h-4zM227 278h4v4h-4zM235 282h4v4h-4zM335 286h32v4h-32zM255 290h8v4h-8zM311 290h24v4h-24zM363 290h20v4h-20zM275 294h28v4h-28zM375 294h20v4h-20zM387 298h16v4h-16zM227 302h56v4h-56zM391 302h20v4h-20zM203 306h4v4h-4zM291 306h16v4h-16zM395 306h20v4h-20zM311 310h16v4h-16zM395 310h20v4h-20zM331 314h16v4h-16zM383 314h32v4h-32zM215 318h4v4h-4zM347 318h60v4h-60zM227 326h4v4h-4zM231 330h4v4h-4zM227 334h4v4h-4zM207 338h8v4h-8zM199 350h4v4h-4zM203 354h4v4h-4zM207 358h4v4h-4zM211 362h4v4h-4zM211 366h4v4h-4zM207 370h4v4h-4zM199 374h4v4h-4zM195 378h4v4h-4zM199 394h4v4h-4zM199 398h4v4h-4zM199 406h4v4h-4zM195 414h4v4h-4zM191 422h4v4h-4zM191 426h4v4h-4z"/><path fill="rgb(92,92,92)" d="M191 62h4v4h-4zM191 66h4v4h-4zM191 70h4v4h-4zM191 82h4v4h-4zM195 90h4v4h-4zM199 98h4v4h-4zM195 106h4v4h-4zM191 114h4v4h-4zM191 118h4v4h-4zM199 126h4v4h-4zM207 130h4v4h-4zM207 134h4v4h-4zM207 138h4v4h-4zM203 142h4v4h-4zM199 146h4v4h-4zM195 154h4v4h-4zM211 162h8v4h-8zM223 166h4v4h-4zM223 170h4v4h-4zM215 178h4v4h-4zM339 186h52v4h-52zM319 190h20v4h-20zM367 190h28v4h-28zM203 194h4v4h-4zM295 194h28v4h-28zM371 194h24v4h-24zM251 198h60v4h-60zM371 198h20v4h-20zM267 202h56v4h-56zM363 202h20v4h-20zM259 206h4v4h-4zM319 206h52v4h-52zM247 210h4v4h-4zM207 230h4v4h-4zM251 230h20v4h-20zM291 230h24v4h-24zM195 234h16v4h-16zM327 234h8v4h-8zM195 238h8v4h-8zM339 238h8v4h-8zM343 242h8v4h-8zM347 246h8v4h-8zM347 250h8v4h-8zM347 254h4v4h-4zM195 258h4v4h-4zM343 258h4v4h-4zM195 262h12v4h-12zM335 262h8v4h-8zM203 266h24v4h-24zM319 266h8v4h-8zM211 270h4v4h-4zM243 286h4v4h-4zM251 290h4v4h-4zM335 290h28v4h-28zM263 294h12v4h-12zM303 294h44v4h-44zM355 294h20v4h-20zM263 298h52v4h-52zM367 298h20v4h-20zM211 302h16v4h-16zM283 302h32v4h-32zM371 302h20v4h-20zM307 306h24v4h-24zM371 306h24v4h-24zM203 310h4v4h-4zM327 310h20v4h-20zM363 310h32v4h-32zM207 314h4v4h-4zM347 314h36v4h-36zM219 322h4v4h-4zM223 326h4v4h-4zM223 330h8v4h-8zM219 334h8v4h-8zM203 338h4v4h-4zM195 342h4v4h-4zM195 346h4v4h-4zM207 362h4v4h-4zM207 366h4v4h-4zM203 370h4v4h-4zM195 374h4v4h-4zM191 378h4v4h-4zM191 382h4v4h-4zM195 390h4v4h-4zM199 402h4v4h-4zM195 410h4v4h-4zM191 414h4v4h-4zM191 418h4v4h-4zM191 430h4v4h-4zM191 434h4v4h-4zM191 438h4v4h-4z"/><path fill="rgb(98,98,98)" d="M187 78h4v4h-4zM191 86h4v4h-4zM195 94h4v4h-4zM195 98h4v4h-4zM195 102h4v4h-4zM191 122h4v4h-4zM203 130h4v4h-4zM195 150h4v4h-4zM195 158h4v4h-4zM207 162h4v4h-4zM219 166h4v4h-4zM219 174h4v4h-4zM207 182h4v4h-4zM203 186h4v4h-4zM199 190h4v4h-4zM339 190h28v4h-28zM199 194h4v4h-4zM323 194h48v4h-48zM231 198h20v4h-20zM311 198h60v4h-60zM255 202h12v4h-12zM323 202h40v4h-40zM251 206h8v4h-8zM243 210h4v4h-4zM235 214h4v4h-4zM227 218h4v4h-4zM219 222h4v4h-4zM211 226h4v4h-4zM203 230h4v4h-4zM271 230h20v4h-20zM211 234h8v4h-8zM319 234h8v4h-8zM191 238h4v4h-4zM203 238h4v4h-4zM331 238h8v4h-8zM191 242h8v4h-8zM339 242h4v4h-4zM191 246h4v4h-4zM343 246h4v4h-4zM343 250h4v4h-4zM191 254h8v4h-8zM339 254h8v4h-8zM191 258h4v4h-4zM199 258h4v4h-4zM335 258h8v4h-8zM191 262h4v4h-4zM207 262h4v4h-4zM327 262h8v4h-8zM195 266h8v4h-8zM227 266h8v4h-8zM307 266h12v4h-12zM207 270h4v4h-4zM215 274h4v4h-4zM223 278h4v4h-4zM231 282h4v4h-4zM239 286h4v4h-4zM247 290h4v4h-4zM255 294h8v4h-8zM347 294h8v4h-8zM251 298h12v4h-12zM315 298h52v4h-52zM203 302h8v4h-8zM315 302h56v4h-56zM199 306h4v4h-4zM331 306h40v4h-40zM347 310h16v4h-16zM211 318h4v4h-4zM215 322h4v4h-4zM219 326h4v4h-4zM215 334h4v4h-4zM199 338h4v4h-4zM199 354h4v4h-4zM203 358h4v4h-4zM191 386h4v4h-4zM195 394h4v4h-4zM195 398h4v4h-4zM195 402h4v4h-4zM195 406h4v4h-4zM191 410h4v4h-4zM187 418h4v4h-4zM187 422h4v4h-4z"/><path fill="rgb(105,105,105)" d="M187 62h4v4h-4zM187 66h4v4h-4zM187 70h4v4h-4zM187 74h4v4h-4zM187 82h4v4h-4zM187 86h4v4h-4zM191 90h4v4h-4zM191 110h4v4h-4zM195 126h4v4h-4zM203 134h4v4h-4zM203 138h4v4h-4zM199 142h4v4h-4zM191 154h4v4h-4zM203 162h4v4h-4zM215 166h4v4h-4zM219 170h4v4h-4zM215 174h4v4h-4zM211 178h4v4h-4zM215 198h16v4h-16zM247 202h8v4h-8zM247 206h4v4h-4zM239 210h4v4h-4zM231 214h4v4h-4zM207 226h4v4h-4zM199 230h4v4h-4zM191 234h4v4h-4zM219 234h4v4h-4zM311 234h8v4h-8zM187 238h4v4h-4zM327 238h4v4h-4zM187 242h4v4h-4zM199 242h4v4h-4zM331 242h8v4h-8zM187 246h4v4h-4zM195 246h4v4h-4zM335 246h8v4h-8zM187 250h12v4h-12zM339 250h4v4h-4zM187 254h4v4h-4zM335 254h4v4h-4zM187 258h4v4h-4zM203 258h4v4h-4zM331 258h4v4h-4zM187 262h4v4h-4zM211 262h4v4h-4zM319 262h8v4h-8zM235 266h8v4h-8zM295 266h12v4h-12zM203 270h4v4h-4zM227 282h4v4h-4zM235 286h4v4h-4zM243 290h4v4h-4zM247 294h8v4h-8zM239 298h12v4h-12zM199 302h4v4h-4zM199 310h4v4h-4zM203 314h4v4h-4zM219 330h4v4h-4zM207 334h8v4h-8zM195 338h4v4h-4zM191 342h4v4h-4zM195 350h4v4h-4zM203 362h4v4h-4zM203 366h4v4h-4zM199 370h4v4h-4zM191 374h4v4h-4zM191 390h4v4h-4zM191 406h4v4h-4zM187 414h4v4h-4zM187 426h4v4h-4zM187 430h4v4h-4zM187 434h4v4h-4zM187 438h4v4h-4z"/><path fill="rgb(111,111,111)" d="M183 62h4v4h-4zM183 66h4v4h-4zM183 70h4v4h-4zM183 74h4v4h-4zM183 78h4v4h-4zM183 82h4v4h-4zM183 86h4v4h-4zM187 90h4v4h-4zM187 94h8v4h-8zM191 98h4v4h-4zM191 102h4v4h-4zM191 106h4v4h-4zM187 110h4v4h-4zM187 114h4v4h-4zM187 118h4v4h-4zM187 122h4v4h-4zM187 126h8v4h-8zM195 130h8v4h-8zM199 134h4v4h-4zM199 138h4v4h-4zM195 142h4v4h-4zM195 146h4v4h-4zM191 150h4v4h-4zM187 154h4v4h-4zM187 158h8v4h-8zM191 162h12v4h-12zM203 166h12v4h-12zM211 170h8v4h-8zM211 174h4v4h-4zM207 178h4v4h-4zM203 182h4v4h-4zM199 186h4v4h-4zM195 190h4v4h-4zM191 194h8v4h-8zM195 198h20v4h-20zM227 202h20v4h-20zM235 206h12v4h-12zM231 210h8v4h-8zM227 214h4v4h-4zM219 218h8v4h-8zM211 222h8v4h-8zM199 226h8v4h-8zM191 230h8v4h-8zM183 234h8v4h-8zM223 234h16v4h-16zM291 234h20v4h-20zM183 238h4v4h-4zM207 238h8v4h-8zM311 238h16v4h-16zM183 242h4v4h-4zM203 242h4v4h-4zM319 242h12v4h-12zM183 246h4v4h-4zM199 246h8v4h-8zM323 246h12v4h-12zM183 250h4v4h-4zM199 250h4v4h-4zM323 250h16v4h-16zM183 254h4v4h-4zM199 254h8v4h-8zM323 254h12v4h-12zM183 258h4v4h-4zM207 258h4v4h-4zM315 258h16v4h-16zM183 262h4v4h-4zM215 262h8v4h-8zM303 262h16v4h-16zM187 266h8v4h-8zM243 266h52v4h-52zM195 270h8v4h-8zM207 274h8v4h-8zM215 278h8v4h-8zM223 282h4v4h-4zM231 286h4v4h-4zM235 290h8v4h-8zM231 294h16v4h-16zM203 298h36v4h-36zM191 302h8v4h-8zM191 306h8v4h-8zM195 310h4v4h-4zM199 314h4v4h-4zM203 318h8v4h-8zM207 322h8v4h-8zM211 326h8v4h-8zM207 330h12v4h-12zM195 334h12v4h-12zM191 338h4v4h-4zM187 342h4v4h-4zM191 346h4v4h-4zM191 350h4v4h-4zM195 354h4v4h-4zM199 358h4v4h-4zM199 362h4v4h-4zM195 366h8v4h-8zM191 370h8v4h-8zM187 374h4v4h-4zM183 378h8v4h-8zM187 382h4v4h-4zM187 386h4v4h-4zM187 390h4v4h-4zM191 394h4v4h-4zM191 398h4v4h-4zM191 402h4v4h-4zM187 406h4v4h-4zM183 410h8v4h-8zM183 414h4v4h-4zM183 418h4v4h-4zM183 422h4v4h-4zM183 426h4v4h-4zM183 430h4v4h-4zM183 434h4v4h-4zM183 438h4v4h-4z"/><path fill="rgb(118,118,118)" d="M183 90h4v4h-4zM183 94h4v4h-4zM187 98h4v4h-4zM187 102h4v4h-4zM187 106h4v4h-4zM183 110h4v4h-4zM183 114h4v4h-4zM183 118h4v4h-4zM183 122h4v4h-4zM183 126h4v4h-4zM187 130h8v4h-8zM191 134h8v4h-8zM195 138h4v4h-4zM191 142h4v4h-4zM191 146h4v4h-4zM187 150h4v4h-4zM183 158h4v4h-4zM187 162h4v4h-4zM195 166h8v4h-8zM203 170h8v4h-8zM203 174h8v4h-8zM203 178h4v4h-4zM199 182h4v4h-4zM195 186h4v4h-4zM191 190h4v4h-4zM187 194h4v4h-4zM187 198h8v4h-8zM199 202h28v4h-28zM223 206h12v4h-12zM223 210h8v4h-8zM219 214h8v4h-8zM215 218h4v4h-4zM203 222h8v4h-8zM191 226h8v4h-8zM183 230h8v4h-8zM239 234h52v4h-52zM215 238h8v4h-8zM299 238h12v4h-12zM207 242h8v4h-8zM307 242h12v4h-12zM207 246h4v4h-4zM315 246h8v4h-8zM203 250h4v4h-4zM315 250h8v4h-8zM207 254h4v4h-4zM311 254h12v4h-12zM211 258h8v4h-8zM303 258h12v4h-12zM223 262h12v4h-12zM287 262h16v4h-16zM183 266h4v4h-4zM187 270h8v4h-8zM199 274h8v4h-8zM211 278h4v4h-4zM215 282h8v4h-8zM223 286h8v4h-8zM223 290h12v4h-12zM219 294h12v4h-12zM187 298h16v4h-16zM187 302h4v4h-4zM187 306h4v4h-4zM191 310h4v4h-4zM195 314h4v4h-4zM199 318h4v4h-4zM203 322h4v4h-4zM203 326h8v4h-8zM199 330h8v4h-8zM191 334h4v4h-4zM187 338h4v4h-4zM183 342h4v4h-4zM187 346h4v4h-4zM187 350h4v4h-4zM191 354h4v4h-4zM195 358h4v4h-4zM191 362h8v4h-8zM191 366h4v4h-4zM187 370h4v4h-4zM183 374h4v4h-4zM183 382h4v4h-4zM183 386h4v4h-4zM187 394h4v4h-4zM187 398h4v4h-4zM183 402h8v4h-8zM183 406h4v4h-4z"/><path fill="rgb(124,124,124)" d="M183 98h4v4h-4zM183 102h4v4h-4zM183 106h4v4h-4zM191 138h4v4h-4zM187 146h4v4h-4zM183 154h4v4h-4zM183 162h4v4h-4zM191 166h4v4h-4zM199 170h4v4h-4zM199 174h4v4h-4zM199 178h4v4h-4zM195 182h4v4h-4zM191 186h4v4h-4zM187 190h4v4h-4zM183 194h4v4h-4zM183 198h4v4h-4zM187 202h12v4h-12zM215 206h8v4h-8zM219 210h4v4h-4zM215 214h4v4h-4zM211 218h4v4h-4zM199 222h4v4h-4zM187 226h4v4h-4zM223 238h4v4h-4zM291 238h8v4h-8zM303 242h4v4h-4zM307 246h8v4h-8zM207 250h4v4h-4zM307 250h8v4h-8zM211 254h4v4h-4zM307 254h4v4h-4zM219 258h4v4h-4zM299 258h4v4h-4zM235 262h8v4h-8zM275 262h12v4h-12zM183 270h4v4h-4zM195 274h4v4h-4zM207 278h4v4h-4zM219 286h4v4h-4zM219 290h4v4h-4zM203 294h16v4h-16zM183 298h4v4h-4zM183 302h4v4h-4zM199 322h4v4h-4zM199 326h4v4h-4zM195 330h4v4h-4zM187 334h4v4h-4zM183 338h4v4h-4zM183 346h4v4h-4zM191 358h4v4h-4zM187 366h4v4h-4zM183 370h4v4h-4zM183 390h4v4h-4zM183 394h4v4h-4zM183 398h4v4h-4z"/><path fill="rgb(131,131,131)" d="M183 130h4v4h-4zM187 134h4v4h-4zM187 142h4v4h-4zM183 150h4v4h-4zM187 166h4v4h-4zM195 170h4v4h-4zM195 178h4v4h-4zM183 202h4v4h-4zM207 206h8v4h-8zM215 210h4v4h-4zM211 214h4v4h-4zM207 218h4v4h-4zM195 222h4v4h-4zM227 238h4v4h-4zM283 238h8v4h-8zM215 242h4v4h-4zM299 242h4v4h-4zM211 246h4v4h-4zM303 246h4v4h-4zM211 250h4v4h-4zM303 250h4v4h-4zM303 254h4v4h-4zM291 258h8v4h-8zM243 262h32v4h-32zM191 274h4v4h-4zM203 278h4v4h-4zM211 282h4v4h-4zM215 286h4v4h-4zM215 290h4v4h-4zM191 294h12v4h-12zM183 306h4v4h-4zM187 310h4v4h-4zM191 314h4v4h-4zM195 318h4v4h-4zM195 326h4v4h-4zM191 330h4v4h-4zM183 334h4v4h-4zM187 354h4v4h-4zM187 362h4v4h-4z"/><path fill="rgb(137,137,137)" d="M187 138h4v4h-4zM191 170h4v4h-4zM195 174h4v4h-4zM191 182h4v4h-4zM187 186h4v4h-4zM183 190h4v4h-4zM195 206h12v4h-12zM211 210h4v4h-4zM203 218h4v4h-4zM191 222h4v4h-4zM183 226h4v4h-4zM231 238h4v4h-4zM279 238h4v4h-4zM219 242h4v4h-4zM295 242h4v4h-4zM299 246h4v4h-4zM215 254h4v4h-4zM299 254h4v4h-4zM223 258h4v4h-4zM287 258h4v4h-4zM187 274h4v4h-4zM199 278h4v4h-4zM207 282h4v4h-4zM211 286h4v4h-4zM207 290h8v4h-8zM183 294h8v4h-8zM195 322h4v4h-4zM187 330h4v4h-4zM183 350h4v4h-4zM187 358h4v4h-4zM183 366h4v4h-4z"/><path fill="rgb(144,144,144)" d="M183 134h4v4h-4zM183 146h4v4h-4zM183 166h4v4h-4zM187 206h8v4h-8zM207 210h4v4h-4zM207 214h4v4h-4zM199 218h4v4h-4zM235 238h8v4h-8zM271 238h8v4h-8zM291 242h4v4h-4zM215 246h4v4h-4zM299 250h4v4h-4zM295 254h4v4h-4zM227 258h4v4h-4zM283 258h4v4h-4zM183 274h4v4h-4zM195 278h4v4h-4zM203 282h4v4h-4zM207 286h4v4h-4zM203 290h4v4h-4zM191 318h4v4h-4zM191 326h4v4h-4z"/><path fill="rgb(150,150,150)" d="M187 170h4v4h-4zM191 174h4v4h-4zM191 178h4v4h-4zM183 206h4v4h-4zM203 210h4v4h-4zM203 214h4v4h-4zM195 218h4v4h-4zM187 222h4v4h-4zM243 238h8v4h-8zM263 238h8v4h-8zM223 242h4v4h-4zM287 242h4v4h-4zM295 246h4v4h-4zM215 250h4v4h-4zM295 250h4v4h-4zM219 254h4v4h-4zM291 254h4v4h-4zM279 258h4v4h-4zM191 278h4v4h-4zM203 286h4v4h-4zM191 290h12v4h-12zM183 310h4v4h-4zM187 314h4v4h-4zM191 322h4v4h-4zM183 354h4v4h-4zM183 362h4v4h-4z"/><path fill="rgb(157,157,157)" d="M183 138h4v4h-4zM183 142h4v4h-4zM187 182h4v4h-4zM183 186h4v4h-4zM195 210h8v4h-8zM199 214h4v4h-4zM183 222h4v4h-4zM251 238h12v4h-12zM283 242h4v4h-4zM291 246h4v4h-4zM231 258h4v4h-4zM275 258h4v4h-4zM187 278h4v4h-4zM199 282h4v4h-4zM199 286h4v4h-4zM183 290h8v4h-8zM183 330h4v4h-4zM183 358h4v4h-4z"/><path fill="rgb(163,163,163)" d="M187 210h8v4h-8zM195 214h4v4h-4zM191 218h4v4h-4zM227 242h4v4h-4zM219 246h4v4h-4zM291 250h4v4h-4zM287 254h4v4h-4zM235 258h4v4h-4zM271 258h4v4h-4zM195 282h4v4h-4zM195 286h4v4h-4zM187 318h4v4h-4zM187 326h4v4h-4z"/><path fill="rgb(170,170,170)" d="M183 170h4v4h-4zM187 174h4v4h-4zM187 178h4v4h-4zM183 210h4v4h-4zM191 214h4v4h-4zM187 218h4v4h-4zM279 242h4v4h-4zM287 246h4v4h-4zM219 250h4v4h-4zM287 250h4v4h-4zM223 254h4v4h-4zM283 254h4v4h-4zM239 258h4v4h-4zM267 258h4v4h-4zM183 278h4v4h-4zM191 282h4v4h-4zM187 286h8v4h-8zM187 322h4v4h-4z"/><path fill="rgb(177,177,177)" d="M183 174h4v4h-4zM183 178h4v4h-4zM183 182h4v4h-4zM183 214h8v4h-8zM183 218h4v4h-4zM275 242h4v4h-4zM243 258h4v4h-4zM263 258h4v4h-4zM183 282h8v4h-8zM183 286h4v4h-4zM183 314h4v4h-4zM183 318h4v4h-4zM183 322h4v4h-4zM183 326h4v4h-4z"/><path fill="rgb(183,183,183)" d="M231 242h4v4h-4zM271 242h4v4h-4zM223 246h4v4h-4zM283 246h4v4h-4zM283 250h4v4h-4zM227 254h4v4h-4zM279 254h4v4h-4zM247 258h16v4h-16z"/><path fill="rgb(190,190,190)" d="M235 242h4v4h-4zM279 246h4v4h-4zM223 250h4v4h-4z"/><path fill="rgb(196,196,196)" d="M267 242h4v4h-4zM279 250h4v4h-4zM275 254h4v4h-4z"/><path fill="rgb(203,203,203)" d="M239 242h4v4h-4zM263 242h4v4h-4zM227 246h4v4h-4zM275 246h4v4h-4zM231 254h4v4h-4zM271 254h4v4h-4z"/><path fill="rgb(209,209,209)" d="M243 242h8v4h-8zM255 242h8v4h-8zM227 250h4v4h-4zM275 250h4v4h-4z"/><path fill="rgb(216,216,216)" d="M251 242h4v4h-4zM271 246h4v4h-4zM235 254h4v4h-4zM267 254h4v4h-4z"/><path fill="rgb(222,222,222)" d="M231 246h4v4h-4zM271 250h4v4h-4zM263 254h4v4h-4z"/><path fill="rgb(229,229,229)" d="M267 246h4v4h-4zM231 250h4v4h-4zM239 254h4v4h-4zM259 254h4v4h-4z"/><path fill="rgb(235,235,235)" d="M235 246h4v4h-4zM267 250h4v4h-4zM243 254h8v4h-8zM255 254h4v4h-4z"/><path fill="rgb(242,242,242)" d="M263 246h4v4h-4zM235 250h4v4h-4zM251 254h4v4h-4z"/><path fill="rgb(248,248,248)" d="M239 246h4v4h-4zM259 246h4v4h-4zM263 250h4v4h-4z"/><path fill="rgb(255,255,255)" d="M243 246h16v4h-16zM239 250h24v4h-24z"/></g>
<g filter="url(#bl10)"><rect x="-10" y="40" width="139" height="420" fill="rgb(89,89,89)"/></g>
<g filter="url(#bl5)"><ellipse cx="32" cy="251" rx="15.0" ry="27.0" fill="rgb(153,153,153)"/><ellipse cx="70" cy="251" rx="12.0" ry="30.0" fill="rgb(133,133,133)"/><ellipse cx="95" cy="214" rx="13.5" ry="18.0" fill="rgb(140,140,140)"/><ellipse cx="95" cy="288" rx="13.5" ry="18.0" fill="rgb(140,140,140)"/><ellipse cx="127" cy="228" rx="7.5" ry="13.5" fill="rgb(163,163,163)"/><ellipse cx="127" cy="274" rx="7.5" ry="13.5" fill="rgb(163,163,163)"/><ellipse cx="9" cy="205" rx="10.5" ry="22.5" fill="rgb(145,145,145)"/><ellipse cx="9" cy="297" rx="10.5" ry="22.5" fill="rgb(145,145,145)"/><ellipse cx="54" cy="210" rx="10.5" ry="18.0" fill="rgb(120,120,120)"/><ellipse cx="54" cy="292" rx="10.5" ry="18.0" fill="rgb(120,120,120)"/><ellipse cx="104" cy="144" rx="13.5" ry="16.5" fill="rgb(148,148,148)"/><ellipse cx="104" cy="358" rx="13.5" ry="16.5" fill="rgb(148,148,148)"/><ellipse cx="124" cy="120" rx="7.5" ry="12.0" fill="rgb(163,163,163)"/><ellipse cx="124" cy="382" rx="7.5" ry="12.0" fill="rgb(163,163,163)"/><ellipse cx="115" cy="177" rx="10.5" ry="13.5" fill="rgb(128,128,128)"/><ellipse cx="115" cy="325" rx="10.5" ry="13.5" fill="rgb(128,128,128)"/><ellipse cx="4" cy="144" rx="7.5" ry="18.0" fill="rgb(133,133,133)"/><ellipse cx="4" cy="358" rx="7.5" ry="18.0" fill="rgb(133,133,133)"/><ellipse cx="42" cy="140" rx="9.0" ry="15.0" fill="rgb(112,112,112)"/><ellipse cx="42" cy="362" rx="9.0" ry="15.0" fill="rgb(112,112,112)"/><ellipse cx="78" cy="170" rx="9.0" ry="18.0" fill="rgb(120,120,120)"/><ellipse cx="78" cy="332" rx="9.0" ry="18.0" fill="rgb(120,120,120)"/></g>
<g filter="url(#bl3_5)"><ellipse cx="47" cy="69" rx="12.15" ry="9.450000000000001" fill="rgb(26,26,26)"/><ellipse cx="47" cy="433" rx="12.15" ry="9.450000000000001" fill="rgb(26,26,26)"/><ellipse cx="92" cy="88" rx="8.100000000000001" ry="32.400000000000006" transform="rotate(-25 92 88)" fill="rgb(26,26,26)"/><ellipse cx="92" cy="414" rx="8.100000000000001" ry="32.400000000000006" transform="rotate(25 92 414)" fill="rgb(26,26,26)"/><ellipse cx="122" cy="90" rx="6.75" ry="29.700000000000003" fill="rgb(26,26,26)"/><ellipse cx="122" cy="412" rx="6.75" ry="29.700000000000003" fill="rgb(26,26,26)"/><ellipse cx="26" cy="143" rx="8.100000000000001" ry="22.950000000000003" transform="rotate(10 26 143)" fill="rgb(26,26,26)"/><ellipse cx="26" cy="359" rx="8.100000000000001" ry="22.950000000000003" transform="rotate(-10 26 359)" fill="rgb(26,26,26)"/><ellipse cx="56" cy="168" rx="6.75" ry="24.3" fill="rgb(26,26,26)"/><ellipse cx="56" cy="334" rx="6.75" ry="24.3" fill="rgb(26,26,26)"/><ellipse cx="93" cy="178" rx="8.100000000000001" ry="18.900000000000002" fill="rgb(26,26,26)"/><ellipse cx="93" cy="324" rx="8.100000000000001" ry="18.900000000000002" fill="rgb(26,26,26)"/><ellipse cx="120" cy="157" rx="5.4" ry="12.15" fill="rgb(26,26,26)"/><ellipse cx="120" cy="345" rx="5.4" ry="12.15" fill="rgb(26,26,26)"/><ellipse cx="31" cy="209" rx="8.100000000000001" ry="18.900000000000002" fill="rgb(26,26,26)"/><ellipse cx="31" cy="293" rx="8.100000000000001" ry="18.900000000000002" fill="rgb(26,26,26)"/><ellipse cx="52" cy="251" rx="6.075" ry="22.950000000000003" fill="rgb(26,26,26)"/><ellipse cx="89" cy="251" rx="6.75" ry="16.200000000000003" fill="rgb(31,31,31)"/><ellipse cx="122" cy="205" rx="8.100000000000001" ry="14.850000000000001" fill="rgb(26,26,26)"/><ellipse cx="122" cy="297" rx="8.100000000000001" ry="14.850000000000001" fill="rgb(26,26,26)"/></g>
<g filter="url(#bl3)"></g>
<g clip-path="url(#sclip1)">
<rect x="128.5" y="66" width="55.30000000000001" height="370" fill="rgb(76,76,76)"/>
<g filter="url(#sbl)"><rect x="125.5" y="62.95" width="20.1" height="4.55" fill="rgb(40,40,40)"/><rect x="145.6" y="62.95" width="21.0" height="4.55" fill="rgb(46,46,46)"/><rect x="166.7" y="62.95" width="20.1" height="4.55" fill="rgb(44,44,44)"/><rect x="125.5" y="67.50" width="20.1" height="4.55" fill="rgb(47,47,47)"/><rect x="145.6" y="67.50" width="21.0" height="4.55" fill="rgb(59,59,59)"/><rect x="166.7" y="67.50" width="20.1" height="4.55" fill="rgb(31,31,31)"/><rect x="125.5" y="72.05" width="20.1" height="4.55" fill="rgb(73,73,73)"/><rect x="145.6" y="72.05" width="21.0" height="4.55" fill="rgb(33,33,33)"/><rect x="166.7" y="72.05" width="20.1" height="4.55" fill="rgb(54,54,54)"/><rect x="125.5" y="76.60" width="20.1" height="4.55" fill="rgb(62,62,62)"/><rect x="145.6" y="76.60" width="21.0" height="4.55" fill="rgb(31,31,31)"/><rect x="166.7" y="76.60" width="20.1" height="4.55" fill="rgb(67,67,67)"/><rect x="125.5" y="81.15" width="20.1" height="4.55" fill="rgb(80,80,80)"/><rect x="145.6" y="81.15" width="21.0" height="4.55" fill="rgb(51,51,51)"/><rect x="166.7" y="81.15" width="20.1" height="4.55" fill="rgb(81,81,81)"/><rect x="125.5" y="85.70" width="20.1" height="4.55" fill="rgb(70,70,70)"/><rect x="145.6" y="85.70" width="21.0" height="4.55" fill="rgb(31,31,31)"/><rect x="166.7" y="85.70" width="20.1" height="4.55" fill="rgb(83,83,83)"/><rect x="125.5" y="90.25" width="20.1" height="4.55" fill="rgb(83,83,83)"/><rect x="145.6" y="90.25" width="21.0" height="4.55" fill="rgb(35,35,35)"/><rect x="166.7" y="90.25" width="20.1" height="4.55" fill="rgb(44,44,44)"/><rect x="125.5" y="94.80" width="20.1" height="4.55" fill="rgb(15,15,15)"/><rect x="145.6" y="94.80" width="21.0" height="4.55" fill="rgb(105,105,105)"/><rect x="166.7" y="94.80" width="20.1" height="4.55" fill="rgb(53,53,53)"/><rect x="125.5" y="99.35" width="20.1" height="4.55" fill="rgb(81,81,81)"/><rect x="145.6" y="99.35" width="21.0" height="4.55" fill="rgb(73,73,73)"/><rect x="166.7" y="99.35" width="20.1" height="4.55" fill="rgb(48,48,48)"/><rect x="125.5" y="103.90" width="20.1" height="4.55" fill="rgb(90,90,90)"/><rect x="145.6" y="103.90" width="21.0" height="4.55" fill="rgb(98,98,98)"/><rect x="166.7" y="103.90" width="20.1" height="4.55" fill="rgb(92,92,92)"/><rect x="125.5" y="108.45" width="20.1" height="4.55" fill="rgb(111,111,111)"/><rect x="145.6" y="108.45" width="21.0" height="4.55" fill="rgb(88,88,88)"/><rect x="166.7" y="108.45" width="20.1" height="4.55" fill="rgb(86,86,86)"/><rect x="125.5" y="113.00" width="20.1" height="4.55" fill="rgb(146,146,146)"/><rect x="145.6" y="113.00" width="21.0" height="4.55" fill="rgb(96,96,96)"/><rect x="166.7" y="113.00" width="20.1" height="4.55" fill="rgb(141,141,141)"/><rect x="125.5" y="117.55" width="20.1" height="4.55" fill="rgb(164,164,164)"/><rect x="145.6" y="117.55" width="21.0" height="4.55" fill="rgb(104,104,104)"/><rect x="166.7" y="117.55" width="20.1" height="4.55" fill="rgb(149,149,149)"/><rect x="125.5" y="122.10" width="20.1" height="4.55" fill="rgb(180,180,180)"/><rect x="145.6" y="122.10" width="21.0" height="4.55" fill="rgb(112,112,112)"/><rect x="166.7" y="122.10" width="20.1" height="4.55" fill="rgb(198,198,198)"/><rect x="125.5" y="126.65" width="20.1" height="4.55" fill="rgb(166,166,166)"/><rect x="145.6" y="126.65" width="21.0" height="4.55" fill="rgb(99,99,99)"/><rect x="166.7" y="126.65" width="20.1" height="4.55" fill="rgb(152,152,152)"/><rect x="125.5" y="131.20" width="20.1" height="4.55" fill="rgb(90,90,90)"/><rect x="145.6" y="131.20" width="21.0" height="4.55" fill="rgb(69,69,69)"/><rect x="166.7" y="131.20" width="20.1" height="4.55" fill="rgb(77,77,77)"/><rect x="125.5" y="135.75" width="20.1" height="4.55" fill="rgb(35,35,35)"/><rect x="145.6" y="135.75" width="21.0" height="4.55" fill="rgb(33,33,33)"/><rect x="166.7" y="135.75" width="20.1" height="4.55" fill="rgb(20,20,20)"/><rect x="125.5" y="140.30" width="20.1" height="4.55" fill="rgb(85,85,85)"/><rect x="145.6" y="140.30" width="21.0" height="4.55" fill="rgb(72,72,72)"/><rect x="166.7" y="140.30" width="20.1" height="4.55" fill="rgb(86,86,86)"/><rect x="125.5" y="144.85" width="20.1" height="4.55" fill="rgb(154,154,154)"/><rect x="145.6" y="144.85" width="21.0" height="4.55" fill="rgb(92,92,92)"/><rect x="166.7" y="144.85" width="20.1" height="4.55" fill="rgb(202,202,202)"/><rect x="125.5" y="149.40" width="20.1" height="4.55" fill="rgb(252,252,252)"/><rect x="145.6" y="149.40" width="21.0" height="4.55" fill="rgb(126,126,126)"/><rect x="166.7" y="149.40" width="20.1" height="4.55" fill="rgb(195,195,195)"/><rect x="125.5" y="153.95" width="20.1" height="4.55" fill="rgb(240,240,240)"/><rect x="145.6" y="153.95" width="21.0" height="4.55" fill="rgb(145,145,145)"/><rect x="166.7" y="153.95" width="20.1" height="4.55" fill="rgb(151,151,151)"/><rect x="125.5" y="158.50" width="20.1" height="4.55" fill="rgb(252,252,252)"/><rect x="145.6" y="158.50" width="21.0" height="4.55" fill="rgb(54,54,54)"/><rect x="166.7" y="158.50" width="20.1" height="4.55" fill="rgb(120,120,120)"/><rect x="125.5" y="163.05" width="20.1" height="4.55" fill="rgb(236,236,236)"/><rect x="145.6" y="163.05" width="21.0" height="4.55" fill="rgb(78,78,78)"/><rect x="166.7" y="163.05" width="20.1" height="4.55" fill="rgb(77,77,77)"/><rect x="125.5" y="167.60" width="20.1" height="4.55" fill="rgb(72,72,72)"/><rect x="145.6" y="167.60" width="21.0" height="4.55" fill="rgb(130,130,130)"/><rect x="166.7" y="167.60" width="20.1" height="4.55" fill="rgb(140,140,140)"/><rect x="125.5" y="172.15" width="20.1" height="4.55" fill="rgb(69,69,69)"/><rect x="145.6" y="172.15" width="21.0" height="4.55" fill="rgb(48,48,48)"/><rect x="166.7" y="172.15" width="20.1" height="4.55" fill="rgb(95,95,95)"/><rect x="125.5" y="176.70" width="20.1" height="4.55" fill="rgb(77,77,77)"/><rect x="145.6" y="176.70" width="21.0" height="4.55" fill="rgb(72,72,72)"/><rect x="166.7" y="176.70" width="20.1" height="4.55" fill="rgb(85,85,85)"/><rect x="125.5" y="181.25" width="20.1" height="4.55" fill="rgb(62,62,62)"/><rect x="145.6" y="181.25" width="21.0" height="4.55" fill="rgb(77,77,77)"/><rect x="166.7" y="181.25" width="20.1" height="4.55" fill="rgb(54,54,54)"/><rect x="125.5" y="185.80" width="20.1" height="4.55" fill="rgb(76,76,76)"/><rect x="145.6" y="185.80" width="21.0" height="4.55" fill="rgb(75,75,75)"/><rect x="166.7" y="185.80" width="20.1" height="4.55" fill="rgb(64,64,64)"/><rect x="125.5" y="190.35" width="20.1" height="4.55" fill="rgb(47,47,47)"/><rect x="145.6" y="190.35" width="21.0" height="4.55" fill="rgb(90,90,90)"/><rect x="166.7" y="190.35" width="20.1" height="4.55" fill="rgb(63,63,63)"/><rect x="125.5" y="194.90" width="20.1" height="4.55" fill="rgb(69,69,69)"/><rect x="145.6" y="194.90" width="21.0" height="4.55" fill="rgb(78,78,78)"/><rect x="166.7" y="194.90" width="20.1" height="4.55" fill="rgb(74,74,74)"/><rect x="125.5" y="199.45" width="20.1" height="4.55" fill="rgb(43,43,43)"/><rect x="145.6" y="199.45" width="21.0" height="4.55" fill="rgb(77,77,77)"/><rect x="166.7" y="199.45" width="20.1" height="4.55" fill="rgb(46,46,46)"/><rect x="125.5" y="204.00" width="20.1" height="4.55" fill="rgb(89,89,89)"/><rect x="145.6" y="204.00" width="21.0" height="4.55" fill="rgb(77,77,77)"/><rect x="166.7" y="204.00" width="20.1" height="4.55" fill="rgb(69,69,69)"/><rect x="125.5" y="208.55" width="20.1" height="4.55" fill="rgb(82,82,82)"/><rect x="145.6" y="208.55" width="21.0" height="4.55" fill="rgb(77,77,77)"/><rect x="166.7" y="208.55" width="20.1" height="4.55" fill="rgb(61,61,61)"/><rect x="125.5" y="213.10" width="20.1" height="4.55" fill="rgb(113,113,113)"/><rect x="145.6" y="213.10" width="21.0" height="4.55" fill="rgb(74,74,74)"/><rect x="166.7" y="213.10" width="20.1" height="4.55" fill="rgb(65,65,65)"/><rect x="125.5" y="217.65" width="20.1" height="4.55" fill="rgb(129,129,129)"/><rect x="145.6" y="217.65" width="21.0" height="4.55" fill="rgb(51,51,51)"/><rect x="166.7" y="217.65" width="20.1" height="4.55" fill="rgb(43,43,43)"/><rect x="125.5" y="222.20" width="20.1" height="4.55" fill="rgb(160,160,160)"/><rect x="145.6" y="222.20" width="21.0" height="4.55" fill="rgb(40,40,40)"/><rect x="166.7" y="222.20" width="20.1" height="4.55" fill="rgb(59,59,59)"/><rect x="125.5" y="226.75" width="20.1" height="4.55" fill="rgb(166,166,166)"/><rect x="145.6" y="226.75" width="21.0" height="4.55" fill="rgb(38,38,38)"/><rect x="166.7" y="226.75" width="20.1" height="4.55" fill="rgb(116,116,116)"/><rect x="125.5" y="231.30" width="20.1" height="4.55" fill="rgb(118,118,118)"/><rect x="145.6" y="231.30" width="21.0" height="4.55" fill="rgb(64,64,64)"/><rect x="166.7" y="231.30" width="20.1" height="4.55" fill="rgb(51,51,51)"/><rect x="125.5" y="235.85" width="20.1" height="4.55" fill="rgb(86,86,86)"/><rect x="145.6" y="235.85" width="21.0" height="4.55" fill="rgb(73,73,73)"/><rect x="166.7" y="235.85" width="20.1" height="4.55" fill="rgb(73,73,73)"/><rect x="125.5" y="240.40" width="20.1" height="4.55" fill="rgb(78,78,78)"/><rect x="145.6" y="240.40" width="21.0" height="4.55" fill="rgb(74,74,74)"/><rect x="166.7" y="240.40" width="20.1" height="4.55" fill="rgb(69,69,69)"/><rect x="125.5" y="244.95" width="20.1" height="4.55" fill="rgb(145,145,145)"/><rect x="145.6" y="244.95" width="21.0" height="4.55" fill="rgb(147,147,147)"/><rect x="166.7" y="244.95" width="20.1" height="4.55" fill="rgb(204,204,204)"/><rect x="125.5" y="249.50" width="20.1" height="4.55" fill="rgb(141,141,141)"/><rect x="145.6" y="249.50" width="21.0" height="4.55" fill="rgb(138,138,138)"/><rect x="166.7" y="249.50" width="20.1" height="4.55" fill="rgb(223,223,223)"/><rect x="125.5" y="254.05" width="20.1" height="4.55" fill="rgb(147,147,147)"/><rect x="145.6" y="254.05" width="21.0" height="4.55" fill="rgb(129,129,129)"/><rect x="166.7" y="254.05" width="20.1" height="4.55" fill="rgb(227,227,227)"/><rect x="125.5" y="258.60" width="20.1" height="4.55" fill="rgb(62,62,62)"/><rect x="145.6" y="258.60" width="21.0" height="4.55" fill="rgb(68,68,68)"/><rect x="166.7" y="258.60" width="20.1" height="4.55" fill="rgb(98,98,98)"/><rect x="125.5" y="263.15" width="20.1" height="4.55" fill="rgb(84,84,84)"/><rect x="145.6" y="263.15" width="21.0" height="4.55" fill="rgb(73,73,73)"/><rect x="166.7" y="263.15" width="20.1" height="4.55" fill="rgb(101,101,101)"/><rect x="125.5" y="267.70" width="20.1" height="4.55" fill="rgb(122,122,122)"/><rect x="145.6" y="267.70" width="21.0" height="4.55" fill="rgb(80,80,80)"/><rect x="166.7" y="267.70" width="20.1" height="4.55" fill="rgb(22,22,22)"/><rect x="125.5" y="272.25" width="20.1" height="4.55" fill="rgb(162,162,162)"/><rect x="145.6" y="272.25" width="21.0" height="4.55" fill="rgb(37,37,37)"/><rect x="166.7" y="272.25" width="20.1" height="4.55" fill="rgb(124,124,124)"/><rect x="125.5" y="276.80" width="20.1" height="4.55" fill="rgb(153,153,153)"/><rect x="145.6" y="276.80" width="21.0" height="4.55" fill="rgb(9,9,9)"/><rect x="166.7" y="276.80" width="20.1" height="4.55" fill="rgb(37,37,37)"/><rect x="125.5" y="281.35" width="20.1" height="4.55" fill="rgb(119,119,119)"/><rect x="145.6" y="281.35" width="21.0" height="4.55" fill="rgb(61,61,61)"/><rect x="166.7" y="281.35" width="20.1" height="4.55" fill="rgb(45,45,45)"/><rect x="125.5" y="285.90" width="20.1" height="4.55" fill="rgb(106,106,106)"/><rect x="145.6" y="285.90" width="21.0" height="4.55" fill="rgb(78,78,78)"/><rect x="166.7" y="285.90" width="20.1" height="4.55" fill="rgb(69,69,69)"/><rect x="125.5" y="290.45" width="20.1" height="4.55" fill="rgb(113,113,113)"/><rect x="145.6" y="290.45" width="21.0" height="4.55" fill="rgb(76,76,76)"/><rect x="166.7" y="290.45" width="20.1" height="4.55" fill="rgb(71,71,71)"/><rect x="125.5" y="295.00" width="20.1" height="4.55" fill="rgb(86,86,86)"/><rect x="145.6" y="295.00" width="21.0" height="4.55" fill="rgb(85,85,85)"/><rect x="166.7" y="295.00" width="20.1" height="4.55" fill="rgb(63,63,63)"/><rect x="125.5" y="299.55" width="20.1" height="4.55" fill="rgb(41,41,41)"/><rect x="145.6" y="299.55" width="21.0" height="4.55" fill="rgb(84,84,84)"/><rect x="166.7" y="299.55" width="20.1" height="4.55" fill="rgb(48,48,48)"/><rect x="125.5" y="304.10" width="20.1" height="4.55" fill="rgb(73,73,73)"/><rect x="145.6" y="304.10" width="21.0" height="4.55" fill="rgb(71,71,71)"/><rect x="166.7" y="304.10" width="20.1" height="4.55" fill="rgb(89,89,89)"/><rect x="125.5" y="308.65" width="20.1" height="4.55" fill="rgb(40,40,40)"/><rect x="145.6" y="308.65" width="21.0" height="4.55" fill="rgb(71,71,71)"/><rect x="166.7" y="308.65" width="20.1" height="4.55" fill="rgb(33,33,33)"/><rect x="125.5" y="313.20" width="20.1" height="4.55" fill="rgb(67,67,67)"/><rect x="145.6" y="313.20" width="21.0" height="4.55" fill="rgb(75,75,75)"/><rect x="166.7" y="313.20" width="20.1" height="4.55" fill="rgb(64,64,64)"/><rect x="125.5" y="317.75" width="20.1" height="4.55" fill="rgb(62,62,62)"/><rect x="145.6" y="317.75" width="21.0" height="4.55" fill="rgb(77,77,77)"/><rect x="166.7" y="317.75" width="20.1" height="4.55" fill="rgb(67,67,67)"/><rect x="125.5" y="322.30" width="20.1" height="4.55" fill="rgb(79,79,79)"/><rect x="145.6" y="322.30" width="21.0" height="4.55" fill="rgb(76,76,76)"/><rect x="166.7" y="322.30" width="20.1" height="4.55" fill="rgb(89,89,89)"/><rect x="125.5" y="326.85" width="20.1" height="4.55" fill="rgb(77,77,77)"/><rect x="145.6" y="326.85" width="21.0" height="4.55" fill="rgb(22,22,22)"/><rect x="166.7" y="326.85" width="20.1" height="4.55" fill="rgb(73,73,73)"/><rect x="125.5" y="331.40" width="20.1" height="4.55" fill="rgb(107,107,107)"/><rect x="145.6" y="331.40" width="21.0" height="4.55" fill="rgb(114,114,114)"/><rect x="166.7" y="331.40" width="20.1" height="4.55" fill="rgb(152,152,152)"/><rect x="125.5" y="335.95" width="20.1" height="4.55" fill="rgb(241,241,241)"/><rect x="145.6" y="335.95" width="21.0" height="4.55" fill="rgb(89,89,89)"/><rect x="166.7" y="335.95" width="20.1" height="4.55" fill="rgb(79,79,79)"/><rect x="125.5" y="340.50" width="20.1" height="4.55" fill="rgb(252,252,252)"/><rect x="145.6" y="340.50" width="21.0" height="4.55" fill="rgb(39,39,39)"/><rect x="166.7" y="340.50" width="20.1" height="4.55" fill="rgb(116,116,116)"/><rect x="125.5" y="345.05" width="20.1" height="4.55" fill="rgb(234,234,234)"/><rect x="145.6" y="345.05" width="21.0" height="4.55" fill="rgb(142,142,142)"/><rect x="166.7" y="345.05" width="20.1" height="4.55" fill="rgb(146,146,146)"/><rect x="125.5" y="349.60" width="20.1" height="4.55" fill="rgb(225,225,225)"/><rect x="145.6" y="349.60" width="21.0" height="4.55" fill="rgb(118,118,118)"/><rect x="166.7" y="349.60" width="20.1" height="4.55" fill="rgb(188,188,188)"/><rect x="125.5" y="354.15" width="20.1" height="4.55" fill="rgb(161,161,161)"/><rect x="145.6" y="354.15" width="21.0" height="4.55" fill="rgb(68,68,68)"/><rect x="166.7" y="354.15" width="20.1" height="4.55" fill="rgb(210,210,210)"/><rect x="125.5" y="358.70" width="20.1" height="4.55" fill="rgb(88,88,88)"/><rect x="145.6" y="358.70" width="21.0" height="4.55" fill="rgb(97,97,97)"/><rect x="166.7" y="358.70" width="20.1" height="4.55" fill="rgb(98,98,98)"/><rect x="125.5" y="363.25" width="20.1" height="4.55" fill="rgb(32,32,32)"/><rect x="145.6" y="363.25" width="21.0" height="4.55" fill="rgb(36,36,36)"/><rect x="166.7" y="363.25" width="20.1" height="4.55" fill="rgb(26,26,26)"/><rect x="125.5" y="367.80" width="20.1" height="4.55" fill="rgb(98,98,98)"/><rect x="145.6" y="367.80" width="21.0" height="4.55" fill="rgb(76,76,76)"/><rect x="166.7" y="367.80" width="20.1" height="4.55" fill="rgb(74,74,74)"/><rect x="125.5" y="372.35" width="20.1" height="4.55" fill="rgb(167,167,167)"/><rect x="145.6" y="372.35" width="21.0" height="4.55" fill="rgb(104,104,104)"/><rect x="166.7" y="372.35" width="20.1" height="4.55" fill="rgb(176,176,176)"/><rect x="125.5" y="376.90" width="20.1" height="4.55" fill="rgb(196,196,196)"/><rect x="145.6" y="376.90" width="21.0" height="4.55" fill="rgb(114,114,114)"/><rect x="166.7" y="376.90" width="20.1" height="4.55" fill="rgb(165,165,165)"/><rect x="125.5" y="381.45" width="20.1" height="4.55" fill="rgb(172,172,172)"/><rect x="145.6" y="381.45" width="21.0" height="4.55" fill="rgb(121,121,121)"/><rect x="166.7" y="381.45" width="20.1" height="4.55" fill="rgb(175,175,175)"/><rect x="125.5" y="386.00" width="20.1" height="4.55" fill="rgb(125,125,125)"/><rect x="145.6" y="386.00" width="21.0" height="4.55" fill="rgb(91,91,91)"/><rect x="166.7" y="386.00" width="20.1" height="4.55" fill="rgb(122,122,122)"/><rect x="125.5" y="390.55" width="20.1" height="4.55" fill="rgb(125,125,125)"/><rect x="145.6" y="390.55" width="21.0" height="4.55" fill="rgb(88,88,88)"/><rect x="166.7" y="390.55" width="20.1" height="4.55" fill="rgb(110,110,110)"/><rect x="125.5" y="395.10" width="20.1" height="4.55" fill="rgb(93,93,93)"/><rect x="145.6" y="395.10" width="21.0" height="4.55" fill="rgb(100,100,100)"/><rect x="166.7" y="395.10" width="20.1" height="4.55" fill="rgb(80,80,80)"/><rect x="125.5" y="399.65" width="20.1" height="4.55" fill="rgb(30,30,30)"/><rect x="145.6" y="399.65" width="21.0" height="4.55" fill="rgb(74,74,74)"/><rect x="166.7" y="399.65" width="20.1" height="4.55" fill="rgb(54,54,54)"/><rect x="125.5" y="404.20" width="20.1" height="4.55" fill="rgb(5,5,5)"/><rect x="145.6" y="404.20" width="21.0" height="4.55" fill="rgb(90,90,90)"/><rect x="166.7" y="404.20" width="20.1" height="4.55" fill="rgb(41,41,41)"/><rect x="125.5" y="408.75" width="20.1" height="4.55" fill="rgb(88,88,88)"/><rect x="145.6" y="408.75" width="21.0" height="4.55" fill="rgb(42,42,42)"/><rect x="166.7" y="408.75" width="20.1" height="4.55" fill="rgb(30,30,30)"/><rect x="125.5" y="413.30" width="20.1" height="4.55" fill="rgb(73,73,73)"/><rect x="145.6" y="413.30" width="21.0" height="4.55" fill="rgb(26,26,26)"/><rect x="166.7" y="413.30" width="20.1" height="4.55" fill="rgb(86,86,86)"/><rect x="125.5" y="417.85" width="20.1" height="4.55" fill="rgb(80,80,80)"/><rect x="145.6" y="417.85" width="21.0" height="4.55" fill="rgb(57,57,57)"/><rect x="166.7" y="417.85" width="20.1" height="4.55" fill="rgb(53,53,53)"/><rect x="125.5" y="422.40" width="20.1" height="4.55" fill="rgb(50,50,50)"/><rect x="145.6" y="422.40" width="21.0" height="4.55" fill="rgb(33,33,33)"/><rect x="166.7" y="422.40" width="20.1" height="4.55" fill="rgb(38,38,38)"/><rect x="125.5" y="426.95" width="20.1" height="4.55" fill="rgb(89,89,89)"/><rect x="145.6" y="426.95" width="21.0" height="4.55" fill="rgb(32,32,32)"/><rect x="166.7" y="426.95" width="20.1" height="4.55" fill="rgb(57,57,57)"/><rect x="125.5" y="431.50" width="20.1" height="4.55" fill="rgb(60,60,60)"/><rect x="145.6" y="431.50" width="21.0" height="4.55" fill="rgb(42,42,42)"/><rect x="166.7" y="431.50" width="20.1" height="4.55" fill="rgb(46,46,46)"/><rect x="125.5" y="436.05" width="20.1" height="4.55" fill="rgb(91,91,91)"/><rect x="145.6" y="436.05" width="21.0" height="4.55" fill="rgb(95,95,95)"/><rect x="166.7" y="436.05" width="20.1" height="4.55" fill="rgb(72,72,72)"/></g>
</g>
</g>
<rect x="128.5" y="66" width="55.30000000000001" height="370" fill="url(#lines1)"/>
<line x1="144.5" y1="66" x2="144.5" y2="436" stroke="#222" stroke-opacity="0.45" stroke-width="0.7"/>
<line x1="147.6" y1="66" x2="147.6" y2="436" stroke="#222" stroke-opacity="0.45" stroke-width="0.7"/>
<line x1="164.4" y1="66" x2="164.4" y2="436" stroke="#222" stroke-opacity="0.45" stroke-width="0.7"/>
<line x1="167.5" y1="66" x2="167.5" y2="436" stroke="#222" stroke-opacity="0.45" stroke-width="0.7"/>
<rect x="128.5" y="66" width="55.30000000000001" height="370" fill="none" stroke="#333" stroke-width="0.9"/>
</g>
<rect x="1.5" y="66.5" width="448" height="369" fill="none" stroke="#10307a" stroke-opacity="0.35" stroke-width="1"/>
<g clip-path="url(#clip2)"><g filter="url(#cmap)">
<rect x="466" y="46" width="488" height="410" fill="rgb(59,59,59)"/>
<g filter="url(#bl2)"><path fill="rgb(20,20,20)" d="M740 242h12v4h-12zM736 282h12v4h-12zM732 322h12v4h-12z"/><path fill="rgb(26,26,26)" d="M720 190h12v4h-12zM732 242h8v4h-8zM752 242h8v4h-8zM724 282h12v4h-12zM748 282h16v4h-16zM736 286h32v4h-32zM720 318h24v4h-24zM720 322h12v4h-12zM744 322h16v4h-16zM732 326h36v4h-36zM748 330h24v4h-24zM716 358h24v4h-24zM720 362h32v4h-32zM724 366h36v4h-36zM732 370h32v4h-32zM744 374h24v4h-24zM756 378h16v4h-16zM716 402h20v4h-20zM720 406h24v4h-24zM720 410h28v4h-28zM724 414h32v4h-32zM728 418h32v4h-32zM732 422h32v4h-32zM736 426h28v4h-28zM740 430h28v4h-28zM744 434h24v4h-24zM748 438h24v4h-24z"/><path fill="rgb(33,33,33)" d="M732 98h8v4h-8zM724 102h12v4h-12zM716 106h12v4h-12zM712 110h8v4h-8zM720 146h20v4h-20zM712 150h20v4h-20zM708 154h12v4h-12zM728 186h12v4h-12zM716 190h4v4h-4zM732 190h4v4h-4zM728 242h4v4h-4zM760 242h8v4h-8zM740 246h12v4h-12zM724 278h28v4h-28zM720 282h4v4h-4zM764 282h12v4h-12zM728 286h8v4h-8zM768 286h16v4h-16zM756 290h8v4h-8zM712 318h8v4h-8zM744 318h12v4h-12zM716 322h4v4h-4zM760 322h12v4h-12zM724 326h8v4h-8zM768 326h12v4h-12zM736 330h12v4h-12zM772 330h16v4h-16zM752 334h36v4h-36zM708 354h28v4h-28zM708 358h8v4h-8zM740 358h12v4h-12zM712 362h8v4h-8zM752 362h12v4h-12zM720 366h4v4h-4zM760 366h12v4h-12zM724 370h8v4h-8zM764 370h12v4h-12zM732 374h12v4h-12zM768 374h16v4h-16zM740 378h16v4h-16zM772 378h16v4h-16zM744 382h48v4h-48zM756 386h36v4h-36zM768 390h20v4h-20zM708 394h24v4h-24zM708 398h36v4h-36zM708 402h8v4h-8zM736 402h16v4h-16zM712 406h8v4h-8zM744 406h16v4h-16zM712 410h8v4h-8zM748 410h16v4h-16zM716 414h8v4h-8zM756 414h12v4h-12zM720 418h8v4h-8zM760 418h12v4h-12zM720 422h12v4h-12zM764 422h12v4h-12zM724 426h12v4h-12zM764 426h16v4h-16zM724 430h16v4h-16zM768 430h16v4h-16zM724 434h20v4h-20zM768 434h20v4h-20zM724 438h24v4h-24zM772 438h16v4h-16z"/><path fill="rgb(39,39,39)" d="M748 82h16v4h-16zM740 86h24v4h-24zM732 90h28v4h-28zM728 94h28v4h-28zM720 98h12v4h-12zM740 98h12v4h-12zM716 102h8v4h-8zM736 102h12v4h-12zM712 106h4v4h-4zM728 106h12v4h-12zM704 110h8v4h-8zM720 110h12v4h-12zM700 114h20v4h-20zM728 142h24v4h-24zM716 146h4v4h-4zM740 146h8v4h-8zM708 150h4v4h-4zM732 150h8v4h-8zM700 154h8v4h-8zM720 154h8v4h-8zM724 186h4v4h-4zM740 186h4v4h-4zM712 190h4v4h-4zM736 190h4v4h-4zM708 194h12v4h-12zM740 238h32v4h-32zM724 242h4v4h-4zM768 242h8v4h-8zM732 246h8v4h-8zM752 246h8v4h-8zM716 278h8v4h-8zM752 278h16v4h-16zM716 282h4v4h-4zM776 282h12v4h-12zM724 286h4v4h-4zM784 286h12v4h-12zM740 290h16v4h-16zM764 290h24v4h-24zM708 314h36v4h-36zM708 318h4v4h-4zM756 318h12v4h-12zM712 322h4v4h-4zM772 322h8v4h-8zM720 326h4v4h-4zM780 326h12v4h-12zM728 330h8v4h-8zM788 330h12v4h-12zM740 334h12v4h-12zM788 334h16v4h-16zM752 338h52v4h-52zM772 342h24v4h-24zM708 350h24v4h-24zM700 354h8v4h-8zM736 354h20v4h-20zM704 358h4v4h-4zM752 358h16v4h-16zM708 362h4v4h-4zM764 362h12v4h-12zM712 366h8v4h-8zM772 366h12v4h-12zM720 370h4v4h-4zM776 370h12v4h-12zM724 374h8v4h-8zM784 374h12v4h-12zM728 378h12v4h-12zM788 378h12v4h-12zM732 382h12v4h-12zM792 382h12v4h-12zM724 386h32v4h-32zM792 386h16v4h-16zM700 390h68v4h-68zM788 390h20v4h-20zM700 394h8v4h-8zM732 394h76v4h-76zM700 398h8v4h-8zM744 398h64v4h-64zM704 402h4v4h-4zM752 402h52v4h-52zM704 406h8v4h-8zM760 406h32v4h-32zM708 410h4v4h-4zM764 410h24v4h-24zM708 414h8v4h-8zM768 414h20v4h-20zM712 418h8v4h-8zM772 418h20v4h-20zM712 422h8v4h-8zM776 422h16v4h-16zM712 426h12v4h-12zM780 426h16v4h-16zM712 430h12v4h-12zM784 430h12v4h-12zM708 434h16v4h-16zM788 434h12v4h-12zM704 438h20v4h-20zM788 438h16v4h-16z"/><path fill="rgb(46,46,46)" d="M700 62h48v4h-48zM756 62h28v4h-28zM700 66h40v4h-40zM748 66h40v4h-40zM704 70h20v4h-20zM744 70h44v4h-44zM740 74h44v4h-44zM736 78h48v4h-48zM732 82h16v4h-16zM764 82h16v4h-16zM728 86h12v4h-12zM764 86h12v4h-12zM724 90h8v4h-8zM760 90h12v4h-12zM720 94h8v4h-8zM756 94h12v4h-12zM716 98h4v4h-4zM752 98h8v4h-8zM712 102h4v4h-4zM748 102h8v4h-8zM704 106h8v4h-8zM740 106h8v4h-8zM700 110h4v4h-4zM732 110h8v4h-8zM696 114h4v4h-4zM720 114h8v4h-8zM696 118h20v4h-20zM752 134h12v4h-12zM732 138h36v4h-36zM720 142h8v4h-8zM752 142h12v4h-12zM712 146h4v4h-4zM748 146h8v4h-8zM704 150h4v4h-4zM740 150h4v4h-4zM696 154h4v4h-4zM728 154h4v4h-4zM696 158h16v4h-16zM912 182h20v4h-20zM720 186h4v4h-4zM744 186h8v4h-8zM896 186h40v4h-40zM708 190h4v4h-4zM740 190h4v4h-4zM888 190h44v4h-44zM704 194h4v4h-4zM720 194h8v4h-8zM884 194h48v4h-48zM880 198h48v4h-48zM880 202h44v4h-44zM880 206h36v4h-36zM880 210h20v4h-20zM732 238h8v4h-8zM772 238h16v4h-16zM720 242h4v4h-4zM776 242h4v4h-4zM728 246h4v4h-4zM760 246h8v4h-8zM712 278h4v4h-4zM768 278h16v4h-16zM712 282h4v4h-4zM788 282h16v4h-16zM720 286h4v4h-4zM796 286h12v4h-12zM732 290h8v4h-8zM788 290h20v4h-20zM752 294h40v4h-40zM704 314h4v4h-4zM744 314h16v4h-16zM704 318h4v4h-4zM768 318h12v4h-12zM708 322h4v4h-4zM780 322h12v4h-12zM716 326h4v4h-4zM792 326h12v4h-12zM724 330h4v4h-4zM800 330h12v4h-12zM732 334h8v4h-8zM804 334h12v4h-12zM740 338h12v4h-12zM804 338h16v4h-16zM744 342h28v4h-28zM796 342h24v4h-24zM744 346h72v4h-72zM700 350h8v4h-8zM732 350h60v4h-60zM696 354h4v4h-4zM756 354h24v4h-24zM700 358h4v4h-4zM768 358h16v4h-16zM704 362h4v4h-4zM776 362h16v4h-16zM708 366h4v4h-4zM784 366h12v4h-12zM712 370h8v4h-8zM788 370h16v4h-16zM716 374h8v4h-8zM796 374h12v4h-12zM720 378h8v4h-8zM800 378h12v4h-12zM716 382h16v4h-16zM804 382h12v4h-12zM700 386h24v4h-24zM808 386h12v4h-12zM696 390h4v4h-4zM808 390h16v4h-16zM696 394h4v4h-4zM808 394h16v4h-16zM696 398h4v4h-4zM808 398h20v4h-20zM700 402h4v4h-4zM804 402h24v4h-24zM700 406h4v4h-4zM792 406h36v4h-36zM704 410h4v4h-4zM788 410h36v4h-36zM704 414h4v4h-4zM788 414h32v4h-32zM704 418h8v4h-8zM792 418h24v4h-24zM704 422h8v4h-8zM792 422h24v4h-24zM704 426h8v4h-8zM796 426h16v4h-16zM700 430h12v4h-12zM796 430h20v4h-20zM700 434h8v4h-8zM800 434h16v4h-16zM696 438h8v4h-8zM804 438h12v4h-12z"/><path fill="rgb(52,52,52)" d="M696 62h4v4h-4zM748 62h8v4h-8zM784 62h20v4h-20zM696 66h4v4h-4zM740 66h8v4h-8zM788 66h16v4h-16zM696 70h8v4h-8zM724 70h20v4h-20zM788 70h12v4h-12zM696 74h44v4h-44zM784 74h12v4h-12zM700 78h36v4h-36zM784 78h8v4h-8zM720 82h12v4h-12zM780 82h8v4h-8zM720 86h8v4h-8zM776 86h8v4h-8zM716 90h8v4h-8zM772 90h8v4h-8zM712 94h8v4h-8zM768 94h8v4h-8zM712 98h4v4h-4zM760 98h8v4h-8zM708 102h4v4h-4zM756 102h8v4h-8zM700 106h4v4h-4zM748 106h8v4h-8zM696 110h4v4h-4zM740 110h8v4h-8zM692 114h4v4h-4zM728 114h12v4h-12zM692 118h4v4h-4zM716 118h8v4h-8zM756 130h24v4h-24zM740 134h12v4h-12zM764 134h16v4h-16zM728 138h4v4h-4zM768 138h8v4h-8zM716 142h4v4h-4zM764 142h4v4h-4zM708 146h4v4h-4zM756 146h4v4h-4zM700 150h4v4h-4zM744 150h8v4h-8zM732 154h4v4h-4zM936 154h4v4h-4zM692 158h4v4h-4zM712 158h8v4h-8zM928 158h12v4h-12zM916 162h24v4h-24zM908 166h32v4h-32zM896 170h44v4h-44zM888 174h52v4h-52zM880 178h60v4h-60zM732 182h20v4h-20zM872 182h40v4h-40zM932 182h8v4h-8zM716 186h4v4h-4zM752 186h4v4h-4zM864 186h32v4h-32zM936 186h4v4h-4zM744 190h4v4h-4zM860 190h28v4h-28zM932 190h8v4h-8zM700 194h4v4h-4zM728 194h4v4h-4zM860 194h24v4h-24zM932 194h8v4h-8zM856 198h24v4h-24zM928 198h12v4h-12zM856 202h24v4h-24zM924 202h16v4h-16zM856 206h24v4h-24zM916 206h24v4h-24zM852 210h28v4h-28zM900 210h40v4h-40zM852 214h88v4h-88zM848 218h92v4h-92zM848 222h92v4h-92zM928 226h12v4h-12zM776 234h32v4h-32zM728 238h4v4h-4zM788 238h12v4h-12zM716 242h4v4h-4zM780 242h12v4h-12zM724 246h4v4h-4zM768 246h8v4h-8zM724 274h36v4h-36zM708 278h4v4h-4zM784 278h16v4h-16zM708 282h4v4h-4zM804 282h12v4h-12zM716 286h4v4h-4zM808 286h16v4h-16zM728 290h4v4h-4zM808 290h12v4h-12zM740 294h12v4h-12zM792 294h20v4h-20zM768 298h20v4h-20zM712 310h40v4h-40zM700 314h4v4h-4zM760 314h20v4h-20zM700 318h4v4h-4zM780 318h16v4h-16zM704 322h4v4h-4zM792 322h12v4h-12zM712 326h4v4h-4zM804 326h12v4h-12zM720 330h4v4h-4zM812 330h12v4h-12zM724 334h8v4h-8zM816 334h12v4h-12zM728 338h12v4h-12zM820 338h12v4h-12zM728 342h16v4h-16zM820 342h16v4h-16zM704 346h40v4h-40zM816 346h20v4h-20zM696 350h4v4h-4zM792 350h40v4h-40zM780 354h44v4h-44zM696 358h4v4h-4zM784 358h32v4h-32zM700 362h4v4h-4zM792 362h20v4h-20zM704 366h4v4h-4zM796 366h16v4h-16zM708 370h4v4h-4zM804 370h12v4h-12zM712 374h4v4h-4zM808 374h12v4h-12zM708 378h12v4h-12zM812 378h12v4h-12zM700 382h16v4h-16zM816 382h12v4h-12zM692 386h8v4h-8zM820 386h12v4h-12zM692 390h4v4h-4zM824 390h12v4h-12zM692 394h4v4h-4zM824 394h12v4h-12zM692 398h4v4h-4zM828 398h16v4h-16zM696 402h4v4h-4zM828 402h24v4h-24zM696 406h4v4h-4zM828 406h32v4h-32zM700 410h4v4h-4zM824 410h44v4h-44zM700 414h4v4h-4zM820 414h56v4h-56zM700 418h4v4h-4zM816 418h68v4h-68zM696 422h8v4h-8zM816 422h76v4h-76zM696 426h8v4h-8zM812 426h24v4h-24zM840 426h60v4h-60zM692 430h8v4h-8zM816 430h20v4h-20zM848 430h60v4h-60zM692 434h8v4h-8zM816 434h20v4h-20zM856 434h60v4h-60zM692 438h4v4h-4zM816 438h16v4h-16zM864 438h60v4h-60z"/><path fill="rgb(59,59,59)" d="M692 62h4v4h-4zM804 62h12v4h-12zM692 66h4v4h-4zM804 66h12v4h-12zM692 70h4v4h-4zM800 70h12v4h-12zM692 74h4v4h-4zM796 74h12v4h-12zM692 78h8v4h-8zM792 78h12v4h-12zM696 82h24v4h-24zM788 82h12v4h-12zM708 86h12v4h-12zM784 86h12v4h-12zM708 90h8v4h-8zM780 90h8v4h-8zM708 94h4v4h-4zM776 94h8v4h-8zM708 98h4v4h-4zM768 98h12v4h-12zM704 102h4v4h-4zM764 102h8v4h-8zM756 106h8v4h-8zM748 110h12v4h-12zM740 114h8v4h-8zM688 118h4v4h-4zM724 118h12v4h-12zM688 122h32v4h-32zM776 122h8v4h-8zM752 126h44v4h-44zM740 130h16v4h-16zM780 130h16v4h-16zM732 134h8v4h-8zM780 134h12v4h-12zM724 138h4v4h-4zM776 138h8v4h-8zM936 138h4v4h-4zM712 142h4v4h-4zM768 142h8v4h-8zM928 142h12v4h-12zM704 146h4v4h-4zM760 146h8v4h-8zM924 146h16v4h-16zM752 150h4v4h-4zM916 150h24v4h-24zM692 154h4v4h-4zM736 154h8v4h-8zM912 154h24v4h-24zM720 158h8v4h-8zM904 158h24v4h-24zM896 162h20v4h-20zM888 166h20v4h-20zM876 170h20v4h-20zM868 174h20v4h-20zM860 178h20v4h-20zM728 182h4v4h-4zM752 182h12v4h-12zM852 182h20v4h-20zM756 186h8v4h-8zM848 186h16v4h-16zM704 190h4v4h-4zM748 190h4v4h-4zM848 190h12v4h-12zM732 194h4v4h-4zM848 194h12v4h-12zM844 198h12v4h-12zM844 202h12v4h-12zM844 206h12v4h-12zM840 210h12v4h-12zM840 214h12v4h-12zM832 218h16v4h-16zM824 222h24v4h-24zM812 226h116v4h-116zM796 230h144v4h-144zM764 234h12v4h-12zM808 234h24v4h-24zM892 234h48v4h-48zM720 238h8v4h-8zM800 238h16v4h-16zM916 238h24v4h-24zM792 242h8v4h-8zM928 242h12v4h-12zM720 246h4v4h-4zM776 246h8v4h-8zM936 246h4v4h-4zM736 250h24v4h-24zM936 250h4v4h-4zM936 258h4v4h-4zM932 262h8v4h-8zM928 266h12v4h-12zM924 270h16v4h-16zM712 274h12v4h-12zM760 274h28v4h-28zM912 274h28v4h-28zM704 278h4v4h-4zM800 278h20v4h-20zM904 278h36v4h-36zM704 282h4v4h-4zM816 282h16v4h-16zM892 282h48v4h-48zM712 286h4v4h-4zM824 286h16v4h-16zM876 286h64v4h-64zM724 290h4v4h-4zM820 290h16v4h-16zM880 290h60v4h-60zM736 294h4v4h-4zM812 294h20v4h-20zM900 294h40v4h-40zM748 298h20v4h-20zM788 298h32v4h-32zM920 298h20v4h-20zM760 302h40v4h-40zM936 302h4v4h-4zM760 306h8v4h-8zM704 310h8v4h-8zM752 310h32v4h-32zM696 314h4v4h-4zM780 314h16v4h-16zM696 318h4v4h-4zM796 318h12v4h-12zM700 322h4v4h-4zM804 322h16v4h-16zM708 326h4v4h-4zM816 326h12v4h-12zM712 330h8v4h-8zM824 330h12v4h-12zM720 334h4v4h-4zM828 334h20v4h-20zM720 338h8v4h-8zM832 338h36v4h-36zM716 342h12v4h-12zM836 342h52v4h-52zM696 346h8v4h-8zM836 346h76v4h-76zM692 350h4v4h-4zM832 350h108v4h-108zM692 354h4v4h-4zM824 354h116v4h-116zM816 358h124v4h-124zM812 362h24v4h-24zM840 362h100v4h-100zM700 366h4v4h-4zM812 366h20v4h-20zM856 366h84v4h-84zM704 370h4v4h-4zM816 370h16v4h-16zM868 370h72v4h-72zM704 374h8v4h-8zM820 374h16v4h-16zM884 374h56v4h-56zM700 378h8v4h-8zM824 378h12v4h-12zM896 378h44v4h-44zM692 382h8v4h-8zM828 382h20v4h-20zM908 382h32v4h-32zM688 386h4v4h-4zM832 386h28v4h-28zM916 386h24v4h-24zM688 390h4v4h-4zM836 390h36v4h-36zM924 390h16v4h-16zM688 394h4v4h-4zM836 394h48v4h-48zM932 394h8v4h-8zM844 398h52v4h-52zM692 402h4v4h-4zM852 402h56v4h-56zM860 406h64v4h-64zM696 410h4v4h-4zM868 410h72v4h-72zM696 414h4v4h-4zM876 414h64v4h-64zM692 418h8v4h-8zM884 418h56v4h-56zM692 422h4v4h-4zM892 422h48v4h-48zM692 426h4v4h-4zM836 426h4v4h-4zM900 426h40v4h-40zM688 430h4v4h-4zM836 430h12v4h-12zM908 430h32v4h-32zM688 434h4v4h-4zM836 434h20v4h-20zM916 434h24v4h-24zM688 438h4v4h-4zM832 438h32v4h-32zM924 438h16v4h-16z"/><path fill="rgb(65,65,65)" d="M688 62h4v4h-4zM816 62h12v4h-12zM688 66h4v4h-4zM816 66h8v4h-8zM688 70h4v4h-4zM812 70h8v4h-8zM936 70h4v4h-4zM688 74h4v4h-4zM808 74h8v4h-8zM932 74h8v4h-8zM688 78h4v4h-4zM804 78h8v4h-8zM928 78h12v4h-12zM688 82h8v4h-8zM800 82h8v4h-8zM924 82h16v4h-16zM692 86h16v4h-16zM796 86h8v4h-8zM920 86h20v4h-20zM700 90h8v4h-8zM788 90h12v4h-12zM916 90h24v4h-24zM704 94h4v4h-4zM784 94h12v4h-12zM916 94h24v4h-24zM704 98h4v4h-4zM780 98h12v4h-12zM912 98h28v4h-28zM700 102h4v4h-4zM772 102h12v4h-12zM916 102h24v4h-24zM696 106h4v4h-4zM764 106h16v4h-16zM916 106h24v4h-24zM692 110h4v4h-4zM760 110h16v4h-16zM920 110h20v4h-20zM688 114h4v4h-4zM748 114h48v4h-48zM924 114h16v4h-16zM684 118h4v4h-4zM736 118h76v4h-76zM924 118h16v4h-16zM684 122h4v4h-4zM720 122h56v4h-56zM784 122h28v4h-28zM924 122h16v4h-16zM732 126h20v4h-20zM796 126h16v4h-16zM924 126h16v4h-16zM732 130h8v4h-8zM796 130h12v4h-12zM920 130h20v4h-20zM724 134h8v4h-8zM792 134h8v4h-8zM920 134h20v4h-20zM716 138h8v4h-8zM784 138h8v4h-8zM916 138h20v4h-20zM776 142h8v4h-8zM912 142h16v4h-16zM768 146h8v4h-8zM904 146h20v4h-20zM696 150h4v4h-4zM756 150h8v4h-8zM900 150h16v4h-16zM744 154h4v4h-4zM892 154h20v4h-20zM688 158h4v4h-4zM728 158h4v4h-4zM888 158h16v4h-16zM696 162h4v4h-4zM880 162h16v4h-16zM872 166h16v4h-16zM864 170h12v4h-12zM856 174h12v4h-12zM848 178h12v4h-12zM724 182h4v4h-4zM764 182h8v4h-8zM840 182h12v4h-12zM712 186h4v4h-4zM764 186h8v4h-8zM836 186h12v4h-12zM752 190h8v4h-8zM832 190h16v4h-16zM696 194h4v4h-4zM736 194h4v4h-4zM836 194h12v4h-12zM696 198h16v4h-16zM836 198h8v4h-8zM836 202h8v4h-8zM832 206h12v4h-12zM832 210h8v4h-8zM828 214h12v4h-12zM820 218h12v4h-12zM812 222h12v4h-12zM800 226h12v4h-12zM784 230h12v4h-12zM756 234h8v4h-8zM832 234h60v4h-60zM716 238h4v4h-4zM816 238h16v4h-16zM868 238h48v4h-48zM712 242h4v4h-4zM800 242h16v4h-16zM892 242h36v4h-36zM784 246h12v4h-12zM904 246h32v4h-32zM732 250h4v4h-4zM760 250h12v4h-12zM908 250h28v4h-28zM908 254h32v4h-32zM908 258h28v4h-28zM904 262h28v4h-28zM900 266h28v4h-28zM888 270h36v4h-36zM704 274h8v4h-8zM788 274h24v4h-24zM872 274h40v4h-40zM700 278h4v4h-4zM820 278h84v4h-84zM832 282h60v4h-60zM708 286h4v4h-4zM840 286h36v4h-36zM720 290h4v4h-4zM836 290h44v4h-44zM728 294h8v4h-8zM832 294h68v4h-68zM736 298h12v4h-12zM820 298h100v4h-100zM740 302h20v4h-20zM800 302h32v4h-32zM868 302h68v4h-68zM724 306h36v4h-36zM768 306h48v4h-48zM892 306h48v4h-48zM696 310h8v4h-8zM784 310h28v4h-28zM908 310h32v4h-32zM692 314h4v4h-4zM796 314h20v4h-20zM920 314h20v4h-20zM808 318h16v4h-16zM928 318h12v4h-12zM820 322h12v4h-12zM932 322h8v4h-8zM704 326h4v4h-4zM828 326h20v4h-20zM932 326h8v4h-8zM836 330h44v4h-44zM924 330h16v4h-16zM712 334h8v4h-8zM848 334h92v4h-92zM712 338h8v4h-8zM868 338h72v4h-72zM704 342h12v4h-12zM888 342h52v4h-52zM692 346h4v4h-4zM912 346h28v4h-28zM688 350h4v4h-4zM688 354h4v4h-4zM692 358h4v4h-4zM696 362h4v4h-4zM836 362h4v4h-4zM832 366h24v4h-24zM700 370h4v4h-4zM832 370h36v4h-36zM700 374h4v4h-4zM836 374h48v4h-48zM696 378h4v4h-4zM836 378h60v4h-60zM688 382h4v4h-4zM848 382h60v4h-60zM684 386h4v4h-4zM860 386h56v4h-56zM684 390h4v4h-4zM872 390h52v4h-52zM884 394h48v4h-48zM688 398h4v4h-4zM896 398h44v4h-44zM908 402h32v4h-32zM692 406h4v4h-4zM924 406h16v4h-16zM692 410h4v4h-4zM692 414h4v4h-4zM688 418h4v4h-4zM688 422h4v4h-4zM684 426h8v4h-8zM684 430h4v4h-4zM684 434h4v4h-4zM684 438h4v4h-4z"/><path fill="rgb(72,72,72)" d="M828 62h12v4h-12zM912 62h28v4h-28zM684 66h4v4h-4zM824 66h12v4h-12zM908 66h32v4h-32zM684 70h4v4h-4zM820 70h12v4h-12zM904 70h32v4h-32zM684 74h4v4h-4zM816 74h12v4h-12zM900 74h32v4h-32zM684 78h4v4h-4zM812 78h12v4h-12zM896 78h32v4h-32zM684 82h4v4h-4zM808 82h12v4h-12zM888 82h36v4h-36zM688 86h4v4h-4zM804 86h12v4h-12zM884 86h36v4h-36zM696 90h4v4h-4zM800 90h12v4h-12zM880 90h36v4h-36zM700 94h4v4h-4zM796 94h16v4h-16zM876 94h40v4h-40zM700 98h4v4h-4zM792 98h16v4h-16zM868 98h44v4h-44zM696 102h4v4h-4zM784 102h28v4h-28zM864 102h52v4h-52zM692 106h4v4h-4zM780 106h40v4h-40zM860 106h56v4h-56zM776 110h56v4h-56zM864 110h56v4h-56zM796 114h36v4h-36zM876 114h48v4h-48zM812 118h20v4h-20zM888 118h36v4h-36zM812 122h20v4h-20zM896 122h28v4h-28zM688 126h44v4h-44zM812 126h12v4h-12zM900 126h24v4h-24zM720 130h12v4h-12zM808 130h12v4h-12zM900 130h20v4h-20zM720 134h4v4h-4zM800 134h12v4h-12zM900 134h20v4h-20zM712 138h4v4h-4zM792 138h12v4h-12zM896 138h20v4h-20zM708 142h4v4h-4zM784 142h8v4h-8zM896 142h16v4h-16zM700 146h4v4h-4zM776 146h4v4h-4zM892 146h12v4h-12zM764 150h4v4h-4zM884 150h16v4h-16zM688 154h4v4h-4zM748 154h8v4h-8zM880 154h12v4h-12zM684 158h4v4h-4zM732 158h8v4h-8zM872 158h16v4h-16zM688 162h8v4h-8zM700 162h12v4h-12zM868 162h12v4h-12zM860 166h12v4h-12zM852 170h12v4h-12zM840 174h16v4h-16zM736 178h36v4h-36zM828 178h20v4h-20zM720 182h4v4h-4zM772 182h16v4h-16zM812 182h28v4h-28zM772 186h12v4h-12zM808 186h28v4h-28zM700 190h4v4h-4zM760 190h4v4h-4zM816 190h16v4h-16zM740 194h4v4h-4zM820 194h16v4h-16zM692 198h4v4h-4zM712 198h4v4h-4zM824 198h12v4h-12zM824 202h12v4h-12zM824 206h8v4h-8zM824 210h8v4h-8zM820 214h8v4h-8zM812 218h8v4h-8zM804 222h8v4h-8zM796 226h4v4h-4zM776 230h8v4h-8zM748 234h8v4h-8zM712 238h4v4h-4zM832 238h36v4h-36zM708 242h4v4h-4zM816 242h16v4h-16zM852 242h40v4h-40zM716 246h4v4h-4zM796 246h12v4h-12zM876 246h28v4h-28zM728 250h4v4h-4zM772 250h16v4h-16zM884 250h24v4h-24zM888 254h20v4h-20zM884 258h24v4h-24zM880 262h24v4h-24zM872 266h28v4h-28zM740 270h48v4h-48zM860 270h28v4h-28zM700 274h4v4h-4zM812 274h60v4h-60zM696 278h4v4h-4zM700 282h4v4h-4zM716 290h4v4h-4zM724 294h4v4h-4zM728 298h8v4h-8zM728 302h12v4h-12zM832 302h36v4h-36zM712 306h12v4h-12zM816 306h76v4h-76zM692 310h4v4h-4zM812 310h96v4h-96zM816 314h104v4h-104zM692 318h4v4h-4zM824 318h104v4h-104zM696 322h4v4h-4zM832 322h100v4h-100zM700 326h4v4h-4zM848 326h84v4h-84zM708 330h4v4h-4zM880 330h44v4h-44zM708 334h4v4h-4zM708 338h4v4h-4zM696 342h8v4h-8zM688 346h4v4h-4zM684 350h4v4h-4zM688 358h4v4h-4zM692 362h4v4h-4zM696 366h4v4h-4zM696 370h4v4h-4zM696 374h4v4h-4zM692 378h4v4h-4zM684 382h4v4h-4zM684 394h4v4h-4zM688 402h4v4h-4zM688 406h4v4h-4zM688 410h4v4h-4zM688 414h4v4h-4zM684 418h4v4h-4zM684 422h4v4h-4z"/><path fill="rgb(78,78,78)" d="M684 62h4v4h-4zM840 62h72v4h-72zM836 66h72v4h-72zM832 70h72v4h-72zM680 74h4v4h-4zM828 74h72v4h-72zM680 78h4v4h-4zM824 78h72v4h-72zM680 82h4v4h-4zM820 82h16v4h-16zM848 82h40v4h-40zM680 86h8v4h-8zM816 86h20v4h-20zM848 86h36v4h-36zM688 90h8v4h-8zM812 90h24v4h-24zM844 90h36v4h-36zM692 94h8v4h-8zM812 94h64v4h-64zM696 98h4v4h-4zM808 98h60v4h-60zM692 102h4v4h-4zM812 102h52v4h-52zM820 106h40v4h-40zM688 110h4v4h-4zM832 110h32v4h-32zM684 114h4v4h-4zM832 114h44v4h-44zM680 118h4v4h-4zM832 118h56v4h-56zM680 122h4v4h-4zM832 122h64v4h-64zM684 126h4v4h-4zM824 126h24v4h-24zM856 126h44v4h-44zM712 130h8v4h-8zM820 130h12v4h-12zM876 130h24v4h-24zM712 134h8v4h-8zM812 134h12v4h-12zM880 134h20v4h-20zM708 138h4v4h-4zM804 138h8v4h-8zM880 138h16v4h-16zM704 142h4v4h-4zM792 142h12v4h-12zM880 142h16v4h-16zM780 146h12v4h-12zM876 146h16v4h-16zM692 150h4v4h-4zM768 150h8v4h-8zM872 150h12v4h-12zM756 154h8v4h-8zM868 154h12v4h-12zM740 158h8v4h-8zM860 158h12v4h-12zM684 162h4v4h-4zM712 162h12v4h-12zM856 162h12v4h-12zM848 166h12v4h-12zM840 170h12v4h-12zM820 174h20v4h-20zM732 178h4v4h-4zM772 178h56v4h-56zM716 182h4v4h-4zM788 182h24v4h-24zM708 186h4v4h-4zM784 186h24v4h-24zM764 190h12v4h-12zM800 190h16v4h-16zM692 194h4v4h-4zM744 194h4v4h-4zM812 194h8v4h-8zM688 198h4v4h-4zM716 198h4v4h-4zM816 198h8v4h-8zM820 202h4v4h-4zM820 206h4v4h-4zM816 210h8v4h-8zM812 214h8v4h-8zM808 218h4v4h-4zM800 222h4v4h-4zM788 226h8v4h-8zM772 230h4v4h-4zM740 234h8v4h-8zM708 238h4v4h-4zM832 242h20v4h-20zM712 246h4v4h-4zM808 246h24v4h-24zM844 246h32v4h-32zM724 250h4v4h-4zM788 250h16v4h-16zM860 250h24v4h-24zM744 254h28v4h-28zM864 254h24v4h-24zM864 258h20v4h-20zM860 262h20v4h-20zM852 266h20v4h-20zM724 270h16v4h-16zM788 270h72v4h-72zM696 274h4v4h-4zM704 286h4v4h-4zM712 290h4v4h-4zM720 294h4v4h-4zM724 298h4v4h-4zM720 302h8v4h-8zM704 306h8v4h-8zM688 310h4v4h-4zM688 314h4v4h-4zM704 330h4v4h-4zM704 334h4v4h-4zM704 338h4v4h-4zM692 342h4v4h-4zM684 346h4v4h-4zM684 354h4v4h-4zM692 366h4v4h-4zM692 370h4v4h-4zM692 374h4v4h-4zM688 378h4v4h-4zM680 386h4v4h-4zM680 390h4v4h-4zM684 398h4v4h-4zM684 402h4v4h-4zM684 406h4v4h-4zM684 410h4v4h-4zM684 414h4v4h-4zM680 422h4v4h-4zM680 426h4v4h-4zM680 430h4v4h-4zM680 434h4v4h-4zM680 438h4v4h-4z"/><path fill="rgb(85,85,85)" d="M680 62h4v4h-4zM680 66h4v4h-4zM680 70h4v4h-4zM836 82h12v4h-12zM836 86h12v4h-12zM684 90h4v4h-4zM836 90h8v4h-8zM688 94h4v4h-4zM692 98h4v4h-4zM688 106h4v4h-4zM680 126h4v4h-4zM848 126h8v4h-8zM700 130h12v4h-12zM832 130h44v4h-44zM708 134h4v4h-4zM824 134h56v4h-56zM812 138h16v4h-16zM860 138h20v4h-20zM804 142h12v4h-12zM864 142h16v4h-16zM696 146h4v4h-4zM792 146h8v4h-8zM860 146h16v4h-16zM776 150h12v4h-12zM860 150h12v4h-12zM684 154h4v4h-4zM764 154h8v4h-8zM856 154h12v4h-12zM748 158h8v4h-8zM852 158h8v4h-8zM680 162h4v4h-4zM724 162h12v4h-12zM844 162h12v4h-12zM832 166h16v4h-16zM816 170h24v4h-24zM744 174h76v4h-76zM728 178h4v4h-4zM776 190h24v4h-24zM748 194h4v4h-4zM800 194h12v4h-12zM720 198h4v4h-4zM808 198h8v4h-8zM684 202h12v4h-12zM812 202h8v4h-8zM812 206h8v4h-8zM812 210h4v4h-4zM808 214h4v4h-4zM804 218h4v4h-4zM796 222h4v4h-4zM784 226h4v4h-4zM768 230h4v4h-4zM736 234h4v4h-4zM704 238h4v4h-4zM704 242h4v4h-4zM832 246h12v4h-12zM720 250h4v4h-4zM804 250h56v4h-56zM736 254h8v4h-8zM772 254h28v4h-28zM844 254h20v4h-20zM848 258h16v4h-16zM840 262h20v4h-20zM752 266h100v4h-100zM712 270h12v4h-12zM692 274h4v4h-4zM692 278h4v4h-4zM696 282h4v4h-4zM708 290h4v4h-4zM716 294h4v4h-4zM720 298h4v4h-4zM712 302h8v4h-8zM696 306h8v4h-8zM684 314h4v4h-4zM688 318h4v4h-4zM692 322h4v4h-4zM696 326h4v4h-4zM700 330h4v4h-4zM700 334h4v4h-4zM696 338h8v4h-8zM688 342h4v4h-4zM680 350h4v4h-4zM684 358h4v4h-4zM688 362h4v4h-4zM688 374h4v4h-4zM684 378h4v4h-4zM680 382h4v4h-4zM680 394h4v4h-4zM680 414h4v4h-4zM680 418h4v4h-4zM676 426h4v4h-4zM676 430h4v4h-4zM676 434h4v4h-4z"/><path fill="rgb(92,92,92)" d="M676 74h4v4h-4zM676 78h4v4h-4zM676 82h4v4h-4zM676 86h4v4h-4zM680 90h4v4h-4zM684 94h4v4h-4zM688 98h4v4h-4zM688 102h4v4h-4zM684 110h4v4h-4zM680 114h4v4h-4zM676 122h4v4h-4zM676 126h4v4h-4zM688 130h12v4h-12zM704 134h4v4h-4zM704 138h4v4h-4zM828 138h32v4h-32zM700 142h4v4h-4zM816 142h48v4h-48zM800 146h20v4h-20zM844 146h16v4h-16zM688 150h4v4h-4zM788 150h12v4h-12zM844 150h16v4h-16zM772 154h12v4h-12zM844 154h12v4h-12zM680 158h4v4h-4zM756 158h12v4h-12zM840 158h12v4h-12zM736 162h16v4h-16zM828 162h16v4h-16zM812 166h20v4h-20zM756 170h60v4h-60zM736 174h8v4h-8zM724 178h4v4h-4zM712 182h4v4h-4zM704 186h4v4h-4zM696 190h4v4h-4zM688 194h4v4h-4zM752 194h8v4h-8zM788 194h12v4h-12zM684 198h4v4h-4zM724 198h4v4h-4zM800 198h8v4h-8zM680 202h4v4h-4zM696 202h4v4h-4zM808 202h4v4h-4zM808 206h4v4h-4zM808 210h4v4h-4zM804 214h4v4h-4zM800 218h4v4h-4zM792 222h4v4h-4zM780 226h4v4h-4zM764 230h4v4h-4zM728 234h8v4h-8zM700 238h4v4h-4zM708 246h4v4h-4zM732 254h4v4h-4zM800 254h44v4h-44zM748 258h100v4h-100zM752 262h88v4h-88zM736 266h16v4h-16zM708 270h4v4h-4zM700 286h4v4h-4zM712 294h4v4h-4zM712 298h8v4h-8zM708 302h4v4h-4zM692 306h4v4h-4zM684 310h4v4h-4zM696 330h4v4h-4zM692 338h4v4h-4zM684 342h4v4h-4zM680 346h4v4h-4zM680 354h4v4h-4zM688 366h4v4h-4zM688 370h4v4h-4zM684 374h4v4h-4zM680 378h4v4h-4zM676 382h4v4h-4zM676 386h4v4h-4zM676 390h4v4h-4zM680 398h4v4h-4zM680 402h4v4h-4zM680 406h4v4h-4zM680 410h4v4h-4zM676 418h4v4h-4zM676 422h4v4h-4zM676 438h4v4h-4z"/><path fill="rgb(98,98,98)" d="M676 62h4v4h-4zM676 66h4v4h-4zM676 70h4v4h-4zM676 90h4v4h-4zM680 94h4v4h-4zM684 98h4v4h-4zM684 106h4v4h-4zM676 118h4v4h-4zM684 130h4v4h-4zM696 134h8v4h-8zM700 138h4v4h-4zM696 142h4v4h-4zM692 146h4v4h-4zM820 146h24v4h-24zM800 150h44v4h-44zM784 154h60v4h-60zM768 158h72v4h-72zM676 162h4v4h-4zM752 162h76v4h-76zM688 166h124v4h-124zM736 170h20v4h-20zM728 174h8v4h-8zM720 178h4v4h-4zM760 194h28v4h-28zM680 198h4v4h-4zM728 198h4v4h-4zM796 198h4v4h-4zM676 202h4v4h-4zM700 202h4v4h-4zM800 202h8v4h-8zM680 206h4v4h-4zM804 206h4v4h-4zM804 210h4v4h-4zM800 214h4v4h-4zM796 218h4v4h-4zM788 222h4v4h-4zM776 226h4v4h-4zM760 230h4v4h-4zM724 234h4v4h-4zM696 238h4v4h-4zM700 242h4v4h-4zM716 250h4v4h-4zM728 254h4v4h-4zM736 258h12v4h-12zM740 262h12v4h-12zM728 266h8v4h-8zM700 270h8v4h-8zM688 274h4v4h-4zM688 278h4v4h-4zM692 282h4v4h-4zM704 290h4v4h-4zM708 294h4v4h-4zM708 298h4v4h-4zM704 302h4v4h-4zM688 306h4v4h-4zM684 318h4v4h-4zM688 322h4v4h-4zM692 326h4v4h-4zM696 334h4v4h-4zM688 338h4v4h-4zM684 362h4v4h-4zM684 370h4v4h-4zM676 394h4v4h-4zM676 414h4v4h-4zM672 422h4v4h-4zM672 426h4v4h-4z"/><path fill="rgb(105,105,105)" d="M672 78h4v4h-4zM672 82h4v4h-4zM672 86h4v4h-4zM672 90h4v4h-4zM676 94h4v4h-4zM684 102h4v4h-4zM680 110h4v4h-4zM672 122h4v4h-4zM672 126h4v4h-4zM680 130h4v4h-4zM692 134h4v4h-4zM696 138h4v4h-4zM680 154h4v4h-4zM676 158h4v4h-4zM680 166h8v4h-8zM728 170h8v4h-8zM724 174h4v4h-4zM716 178h4v4h-4zM708 182h4v4h-4zM700 186h4v4h-4zM692 190h4v4h-4zM732 198h4v4h-4zM788 198h8v4h-8zM704 202h4v4h-4zM796 202h4v4h-4zM676 206h4v4h-4zM684 206h4v4h-4zM800 206h4v4h-4zM800 210h4v4h-4zM796 214h4v4h-4zM792 218h4v4h-4zM784 222h4v4h-4zM772 226h4v4h-4zM756 230h4v4h-4zM716 234h8v4h-8zM692 238h4v4h-4zM696 242h4v4h-4zM704 246h4v4h-4zM712 250h4v4h-4zM724 254h4v4h-4zM732 258h4v4h-4zM732 262h8v4h-8zM720 266h8v4h-8zM696 270h4v4h-4zM684 274h4v4h-4zM696 286h4v4h-4zM700 290h4v4h-4zM704 294h4v4h-4zM704 298h4v4h-4zM700 302h4v4h-4zM680 310h4v4h-4zM680 314h4v4h-4zM692 330h4v4h-4zM692 334h4v4h-4zM680 342h4v4h-4zM676 346h4v4h-4zM676 350h4v4h-4zM680 358h4v4h-4zM684 366h4v4h-4zM680 374h4v4h-4zM676 378h4v4h-4zM672 382h4v4h-4zM672 386h4v4h-4zM676 398h4v4h-4zM676 402h4v4h-4zM676 406h4v4h-4zM676 410h4v4h-4zM672 418h4v4h-4zM672 430h4v4h-4zM672 434h4v4h-4zM672 438h4v4h-4z"/><path fill="rgb(111,111,111)" d="M672 62h4v4h-4zM672 66h4v4h-4zM672 70h4v4h-4zM672 74h4v4h-4zM668 78h4v4h-4zM668 82h4v4h-4zM668 86h4v4h-4zM668 90h4v4h-4zM672 94h4v4h-4zM676 98h8v4h-8zM680 102h4v4h-4zM680 106h4v4h-4zM676 110h4v4h-4zM676 114h4v4h-4zM672 118h4v4h-4zM668 122h4v4h-4zM668 126h4v4h-4zM672 130h8v4h-8zM680 134h12v4h-12zM688 138h8v4h-8zM688 142h8v4h-8zM688 146h4v4h-4zM684 150h4v4h-4zM676 154h4v4h-4zM672 158h4v4h-4zM672 162h4v4h-4zM672 166h8v4h-8zM700 170h28v4h-28zM712 174h12v4h-12zM708 178h8v4h-8zM704 182h4v4h-4zM696 186h4v4h-4zM688 190h4v4h-4zM684 194h4v4h-4zM676 198h4v4h-4zM736 198h52v4h-52zM672 202h4v4h-4zM708 202h8v4h-8zM784 202h12v4h-12zM668 206h8v4h-8zM688 206h8v4h-8zM788 206h12v4h-12zM668 210h16v4h-16zM788 210h12v4h-12zM672 214h4v4h-4zM788 214h8v4h-8zM784 218h8v4h-8zM776 222h8v4h-8zM672 226h4v4h-4zM764 226h8v4h-8zM672 230h16v4h-16zM744 230h12v4h-12zM672 234h44v4h-44zM680 238h12v4h-12zM692 242h4v4h-4zM700 246h4v4h-4zM708 250h4v4h-4zM716 254h8v4h-8zM720 258h12v4h-12zM716 262h16v4h-16zM704 266h16v4h-16zM684 270h12v4h-12zM680 274h4v4h-4zM680 278h8v4h-8zM684 282h8v4h-8zM692 286h4v4h-4zM696 290h4v4h-4zM696 294h8v4h-8zM696 298h8v4h-8zM688 302h12v4h-12zM680 306h8v4h-8zM676 310h4v4h-4zM676 314h4v4h-4zM680 318h4v4h-4zM684 322h4v4h-4zM684 326h8v4h-8zM688 330h4v4h-4zM684 334h8v4h-8zM680 338h8v4h-8zM676 342h4v4h-4zM672 346h4v4h-4zM672 350h4v4h-4zM676 354h4v4h-4zM676 358h4v4h-4zM680 362h4v4h-4zM680 366h4v4h-4zM676 370h8v4h-8zM676 374h4v4h-4zM672 378h4v4h-4zM668 382h4v4h-4zM668 386h4v4h-4zM672 390h4v4h-4zM672 394h4v4h-4zM672 398h4v4h-4zM672 402h4v4h-4zM672 406h4v4h-4zM672 410h4v4h-4zM668 414h8v4h-8zM668 418h4v4h-4zM668 422h4v4h-4zM668 426h4v4h-4zM668 430h4v4h-4zM668 434h4v4h-4zM668 438h4v4h-4z"/><path fill="rgb(118,118,118)" d="M668 62h4v4h-4zM668 66h4v4h-4zM668 70h4v4h-4zM668 74h4v4h-4zM668 94h4v4h-4zM668 98h8v4h-8zM672 102h8v4h-8zM676 106h4v4h-4zM672 110h4v4h-4zM672 114h4v4h-4zM668 118h4v4h-4zM668 130h4v4h-4zM672 134h8v4h-8zM680 138h8v4h-8zM684 142h4v4h-4zM684 146h4v4h-4zM680 150h4v4h-4zM668 162h4v4h-4zM668 166h4v4h-4zM676 170h24v4h-24zM700 174h12v4h-12zM700 178h8v4h-8zM696 182h8v4h-8zM692 186h4v4h-4zM684 190h4v4h-4zM676 194h8v4h-8zM672 198h4v4h-4zM668 202h4v4h-4zM716 202h12v4h-12zM768 202h16v4h-16zM696 206h8v4h-8zM780 206h8v4h-8zM684 210h8v4h-8zM780 210h8v4h-8zM668 214h4v4h-4zM676 214h8v4h-8zM780 214h8v4h-8zM668 218h12v4h-12zM776 218h8v4h-8zM668 222h12v4h-12zM768 222h8v4h-8zM668 226h4v4h-4zM676 226h8v4h-8zM756 226h8v4h-8zM668 230h4v4h-4zM688 230h12v4h-12zM728 230h16v4h-16zM668 234h4v4h-4zM672 238h8v4h-8zM684 242h8v4h-8zM692 246h8v4h-8zM700 250h8v4h-8zM708 254h8v4h-8zM708 258h12v4h-12zM704 262h12v4h-12zM688 266h16v4h-16zM676 270h8v4h-8zM676 274h4v4h-4zM676 278h4v4h-4zM680 282h4v4h-4zM684 286h8v4h-8zM688 290h8v4h-8zM692 294h4v4h-4zM688 298h8v4h-8zM680 302h8v4h-8zM672 306h8v4h-8zM672 310h4v4h-4zM672 314h4v4h-4zM676 318h4v4h-4zM680 322h4v4h-4zM680 326h4v4h-4zM680 330h8v4h-8zM680 334h4v4h-4zM676 338h4v4h-4zM672 342h4v4h-4zM668 346h4v4h-4zM668 350h4v4h-4zM672 354h4v4h-4zM672 358h4v4h-4zM676 362h4v4h-4zM676 366h4v4h-4zM672 370h4v4h-4zM668 374h8v4h-8zM668 378h4v4h-4zM668 390h4v4h-4zM668 394h4v4h-4zM668 398h4v4h-4zM668 402h4v4h-4zM668 406h4v4h-4zM668 410h4v4h-4z"/><path fill="rgb(124,124,124)" d="M672 106h4v4h-4zM676 138h4v4h-4zM680 142h4v4h-4zM680 146h4v4h-4zM676 150h4v4h-4zM672 154h4v4h-4zM668 158h4v4h-4zM672 170h4v4h-4zM692 174h8v4h-8zM696 178h4v4h-4zM688 186h4v4h-4zM668 198h4v4h-4zM728 202h12v4h-12zM756 202h12v4h-12zM704 206h4v4h-4zM772 206h8v4h-8zM776 210h4v4h-4zM684 214h4v4h-4zM776 214h4v4h-4zM680 218h4v4h-4zM772 218h4v4h-4zM680 222h4v4h-4zM764 222h4v4h-4zM684 226h4v4h-4zM748 226h8v4h-8zM700 230h28v4h-28zM668 238h4v4h-4zM680 242h4v4h-4zM688 246h4v4h-4zM696 250h4v4h-4zM704 254h4v4h-4zM704 258h4v4h-4zM700 262h4v4h-4zM680 266h8v4h-8zM672 270h4v4h-4zM672 274h4v4h-4zM688 294h4v4h-4zM684 298h4v4h-4zM676 302h4v4h-4zM668 310h4v4h-4zM672 318h4v4h-4zM676 322h4v4h-4zM676 334h4v4h-4zM672 338h4v4h-4zM668 342h4v4h-4zM668 354h4v4h-4zM672 362h4v4h-4zM672 366h4v4h-4z"/><path fill="rgb(131,131,131)" d="M668 102h4v4h-4zM668 114h4v4h-4zM668 134h4v4h-4zM676 146h4v4h-4zM668 170h4v4h-4zM684 174h8v4h-8zM692 178h4v4h-4zM692 182h4v4h-4zM680 190h4v4h-4zM672 194h4v4h-4zM740 202h16v4h-16zM708 206h4v4h-4zM768 206h4v4h-4zM692 210h4v4h-4zM772 210h4v4h-4zM772 214h4v4h-4zM684 218h4v4h-4zM768 218h4v4h-4zM684 222h4v4h-4zM760 222h4v4h-4zM688 226h4v4h-4zM744 226h4v4h-4zM676 242h4v4h-4zM700 254h4v4h-4zM700 258h4v4h-4zM692 262h8v4h-8zM676 266h4v4h-4zM672 278h4v4h-4zM676 282h4v4h-4zM680 286h4v4h-4zM684 290h4v4h-4zM684 294h4v4h-4zM680 298h4v4h-4zM672 302h4v4h-4zM668 306h4v4h-4zM668 314h4v4h-4zM676 326h4v4h-4zM676 330h4v4h-4zM672 334h4v4h-4zM668 338h4v4h-4zM668 358h4v4h-4zM668 370h4v4h-4z"/><path fill="rgb(137,137,137)" d="M668 106h4v4h-4zM668 110h4v4h-4zM672 138h4v4h-4zM676 142h4v4h-4zM672 150h4v4h-4zM680 174h4v4h-4zM688 182h4v4h-4zM684 186h4v4h-4zM764 206h4v4h-4zM696 210h4v4h-4zM768 210h4v4h-4zM688 214h4v4h-4zM768 214h4v4h-4zM764 218h4v4h-4zM756 222h4v4h-4zM692 226h4v4h-4zM740 226h4v4h-4zM672 242h4v4h-4zM684 246h4v4h-4zM692 250h4v4h-4zM696 254h4v4h-4zM696 258h4v4h-4zM688 262h4v4h-4zM672 266h4v4h-4zM668 270h4v4h-4zM668 274h4v4h-4zM672 322h4v4h-4zM668 362h4v4h-4zM668 366h4v4h-4z"/><path fill="rgb(144,144,144)" d="M668 154h4v4h-4zM676 174h4v4h-4zM688 178h4v4h-4zM676 190h4v4h-4zM712 206h4v4h-4zM760 206h4v4h-4zM688 222h4v4h-4zM696 226h4v4h-4zM680 246h4v4h-4zM688 250h4v4h-4zM684 262h4v4h-4zM680 290h4v4h-4zM680 294h4v4h-4zM676 298h4v4h-4zM668 318h4v4h-4zM672 326h4v4h-4zM672 330h4v4h-4z"/><path fill="rgb(150,150,150)" d="M668 138h4v4h-4zM672 142h4v4h-4zM672 146h4v4h-4zM672 174h4v4h-4zM684 178h4v4h-4zM684 182h4v4h-4zM680 186h4v4h-4zM668 194h4v4h-4zM716 206h4v4h-4zM756 206h4v4h-4zM764 210h4v4h-4zM764 214h4v4h-4zM688 218h4v4h-4zM760 218h4v4h-4zM752 222h4v4h-4zM736 226h4v4h-4zM668 242h4v4h-4zM692 254h4v4h-4zM692 258h4v4h-4zM680 262h4v4h-4zM668 266h4v4h-4zM668 278h4v4h-4zM672 282h4v4h-4zM676 286h4v4h-4zM668 302h4v4h-4zM668 334h4v4h-4z"/><path fill="rgb(157,157,157)" d="M668 174h4v4h-4zM720 206h4v4h-4zM748 206h8v4h-8zM700 210h4v4h-4zM760 210h4v4h-4zM692 214h4v4h-4zM692 222h4v4h-4zM748 222h4v4h-4zM700 226h4v4h-4zM732 226h4v4h-4zM676 246h4v4h-4zM684 250h4v4h-4zM688 258h4v4h-4zM676 262h4v4h-4zM676 294h4v4h-4zM672 298h4v4h-4z"/><path fill="rgb(163,163,163)" d="M680 178h4v4h-4zM672 190h4v4h-4zM724 206h8v4h-8zM744 206h4v4h-4zM760 214h4v4h-4zM756 218h4v4h-4zM704 226h4v4h-4zM728 226h4v4h-4zM688 254h4v4h-4zM672 262h4v4h-4zM676 290h4v4h-4zM668 322h4v4h-4z"/><path fill="rgb(170,170,170)" d="M668 150h4v4h-4zM676 178h4v4h-4zM680 182h4v4h-4zM676 186h4v4h-4zM732 206h12v4h-12zM704 210h4v4h-4zM756 210h4v4h-4zM696 214h4v4h-4zM692 218h4v4h-4zM744 222h4v4h-4zM708 226h8v4h-8zM720 226h8v4h-8zM672 246h4v4h-4zM680 250h4v4h-4zM684 254h4v4h-4zM684 258h4v4h-4zM672 286h4v4h-4zM668 330h4v4h-4z"/><path fill="rgb(177,177,177)" d="M668 142h4v4h-4zM668 146h4v4h-4zM668 178h8v4h-8zM668 182h12v4h-12zM668 186h8v4h-8zM668 190h4v4h-4zM756 214h4v4h-4zM752 218h4v4h-4zM696 222h4v4h-4zM716 226h4v4h-4zM668 246h4v4h-4zM668 250h12v4h-12zM668 254h16v4h-16zM668 258h16v4h-16zM668 262h4v4h-4zM668 282h4v4h-4zM668 286h4v4h-4zM668 290h8v4h-8zM668 294h8v4h-8zM668 298h4v4h-4zM668 326h4v4h-4z"/><path fill="rgb(183,183,183)" d="M708 210h4v4h-4zM752 210h4v4h-4zM740 222h4v4h-4z"/><path fill="rgb(190,190,190)" d="M748 210h4v4h-4zM752 214h4v4h-4zM696 218h4v4h-4zM748 218h4v4h-4z"/><path fill="rgb(196,196,196)" d="M712 210h4v4h-4zM700 214h4v4h-4zM700 222h4v4h-4zM736 222h4v4h-4z"/><path fill="rgb(203,203,203)" d="M744 210h4v4h-4zM748 214h4v4h-4z"/><path fill="rgb(209,209,209)" d="M716 210h4v4h-4zM740 210h4v4h-4zM700 218h4v4h-4zM744 218h4v4h-4zM704 222h4v4h-4zM732 222h4v4h-4z"/><path fill="rgb(216,216,216)" d="M720 210h4v4h-4zM736 210h4v4h-4zM704 214h4v4h-4zM744 214h4v4h-4z"/><path fill="rgb(222,222,222)" d="M724 210h12v4h-12zM740 218h4v4h-4zM708 222h4v4h-4zM728 222h4v4h-4z"/><path fill="rgb(229,229,229)" d="M704 218h4v4h-4zM712 222h4v4h-4zM720 222h8v4h-8z"/><path fill="rgb(235,235,235)" d="M708 214h4v4h-4zM740 214h4v4h-4zM736 218h4v4h-4zM716 222h4v4h-4z"/><path fill="rgb(248,248,248)" d="M712 214h4v4h-4zM736 214h4v4h-4zM708 218h4v4h-4zM732 218h4v4h-4z"/><path fill="rgb(255,255,255)" d="M716 214h20v4h-20zM712 218h20v4h-20z"/></g>
<g filter="url(#bl10)"><rect x="470" y="40" width="143" height="420" fill="rgb(89,89,89)"/></g>
<g filter="url(#bl5)"><ellipse cx="493" cy="97" rx="10.2" ry="29.325" fill="rgb(153,153,153)"/><ellipse cx="520" cy="116" rx="12.75" ry="26.775" transform="rotate(8 520 116)" fill="rgb(148,148,148)"/><ellipse cx="589" cy="116" rx="12.75" ry="24.224999999999998" fill="rgb(153,153,153)"/><ellipse cx="607" cy="149" rx="6.375" ry="12.75" fill="rgb(128,128,128)"/><ellipse cx="493" cy="158" rx="10.2" ry="22.95" fill="rgb(148,148,148)"/><ellipse cx="554" cy="214" rx="11.475" ry="20.4" fill="rgb(158,158,158)"/><ellipse cx="520" cy="190" rx="10.2" ry="22.95" fill="rgb(115,115,115)"/><ellipse cx="493" cy="247" rx="8.924999999999999" ry="25.5" fill="rgb(133,133,133)"/><ellipse cx="531" cy="254" rx="11.475" ry="15.299999999999999" fill="rgb(122,122,122)"/><ellipse cx="582" cy="195" rx="11.475" ry="15.299999999999999" fill="rgb(107,107,107)"/><ellipse cx="605" cy="251" rx="6.375" ry="14.024999999999999" fill="rgb(153,153,153)"/><ellipse cx="556" cy="140" rx="12.75" ry="17.849999999999998" fill="rgb(115,115,115)"/><ellipse cx="493" cy="340" rx="10.2" ry="43.349999999999994" fill="rgb(158,158,158)"/><ellipse cx="493" cy="410" rx="8.924999999999999" ry="25.5" fill="rgb(158,158,158)"/><ellipse cx="521" cy="321" rx="12.75" ry="40.8" transform="rotate(-10 521 321)" fill="rgb(153,153,153)"/><ellipse cx="531" cy="387" rx="11.475" ry="29.325" transform="rotate(-8 531 387)" fill="rgb(153,153,153)"/><ellipse cx="559" cy="293" rx="11.475" ry="26.775" transform="rotate(-8 559 293)" fill="rgb(153,153,153)"/><ellipse cx="561" cy="370" rx="12.75" ry="33.15" transform="rotate(-12 561 370)" fill="rgb(148,148,148)"/><ellipse cx="589" cy="298" rx="11.475" ry="28.049999999999997" transform="rotate(-6 589 298)" fill="rgb(153,153,153)"/><ellipse cx="587" cy="380" rx="12.75" ry="29.325" transform="rotate(-10 587 380)" fill="rgb(153,153,153)"/><ellipse cx="609" cy="347" rx="6.375" ry="12.75" fill="rgb(158,158,158)"/><ellipse cx="545" cy="426" rx="12.75" ry="12.75" fill="rgb(128,128,128)"/></g>
<g filter="url(#bl3_5)"><ellipse cx="507" cy="69" rx="10.935" ry="9.72" fill="rgb(31,31,31)"/><ellipse cx="542" cy="82" rx="10.935" ry="20.655" transform="rotate(25 542 82)" fill="rgb(26,26,26)"/><ellipse cx="573" cy="80" rx="9.72" ry="19.44" transform="rotate(20 573 80)" fill="rgb(26,26,26)"/><ellipse cx="605" cy="121" rx="6.075" ry="17.01" fill="rgb(26,26,26)"/><ellipse cx="507" cy="137" rx="7.290000000000001" ry="23.085" fill="rgb(46,46,46)"/><ellipse cx="540" cy="172" rx="9.72" ry="8.505" fill="rgb(26,26,26)"/><ellipse cx="561" cy="177" rx="8.505" ry="10.935" fill="rgb(26,26,26)"/><ellipse cx="533" cy="214" rx="7.290000000000001" ry="18.225" fill="rgb(26,26,26)"/><ellipse cx="575" cy="212" rx="7.290000000000001" ry="18.225" fill="rgb(26,26,26)"/><ellipse cx="552" cy="242" rx="10.935" ry="7.290000000000001" fill="rgb(26,26,26)"/><ellipse cx="594" cy="177" rx="8.505" ry="18.225" fill="rgb(26,26,26)"/><ellipse cx="512" cy="219" rx="7.290000000000001" ry="17.01" fill="rgb(38,38,38)"/><ellipse cx="603" cy="209" rx="6.075" ry="14.580000000000002" fill="rgb(31,31,31)"/><ellipse cx="503" cy="300" rx="6.075" ry="48.6" transform="rotate(-4 503 300)" fill="rgb(26,26,26)"/><ellipse cx="510" cy="400" rx="6.075" ry="40.095000000000006" transform="rotate(-10 510 400)" fill="rgb(26,26,26)"/><ellipse cx="542" cy="300" rx="6.075" ry="48.6" transform="rotate(-8 542 300)" fill="rgb(26,26,26)"/><ellipse cx="550" cy="395" rx="6.075" ry="46.17" transform="rotate(-10 550 395)" fill="rgb(26,26,26)"/><ellipse cx="574" cy="300" rx="6.075" ry="46.17" transform="rotate(-3 574 300)" fill="rgb(26,26,26)"/><ellipse cx="580" cy="395" rx="6.075" ry="46.17" transform="rotate(-6 580 395)" fill="rgb(26,26,26)"/><ellipse cx="605" cy="305" rx="6.075" ry="26.73" fill="rgb(26,26,26)"/><ellipse cx="605" cy="392" rx="6.075" ry="21.87" fill="rgb(26,26,26)"/></g>
<g filter="url(#bl3)"></g>
<g clip-path="url(#sclip2)">
<rect x="612.5" y="66" width="56.0" height="370" fill="rgb(76,76,76)"/>
<g filter="url(#sbl)"><rect x="609.5" y="62.95" width="20.4" height="4.55" fill="rgb(18,18,18)"/><rect x="629.9" y="62.95" width="21.3" height="4.55" fill="rgb(35,35,35)"/><rect x="651.1" y="62.95" width="20.4" height="4.55" fill="rgb(47,47,47)"/><rect x="609.5" y="67.50" width="20.4" height="4.55" fill="rgb(36,36,36)"/><rect x="629.9" y="67.50" width="21.3" height="4.55" fill="rgb(40,40,40)"/><rect x="651.1" y="67.50" width="20.4" height="4.55" fill="rgb(20,20,20)"/><rect x="609.5" y="72.05" width="20.4" height="4.55" fill="rgb(35,35,35)"/><rect x="629.9" y="72.05" width="21.3" height="4.55" fill="rgb(72,72,72)"/><rect x="651.1" y="72.05" width="20.4" height="4.55" fill="rgb(75,75,75)"/><rect x="609.5" y="76.60" width="20.4" height="4.55" fill="rgb(40,40,40)"/><rect x="629.9" y="76.60" width="21.3" height="4.55" fill="rgb(76,76,76)"/><rect x="651.1" y="76.60" width="20.4" height="4.55" fill="rgb(55,55,55)"/><rect x="609.5" y="81.15" width="20.4" height="4.55" fill="rgb(74,74,74)"/><rect x="629.9" y="81.15" width="21.3" height="4.55" fill="rgb(64,64,64)"/><rect x="651.1" y="81.15" width="20.4" height="4.55" fill="rgb(100,100,100)"/><rect x="609.5" y="85.70" width="20.4" height="4.55" fill="rgb(61,61,61)"/><rect x="629.9" y="85.70" width="21.3" height="4.55" fill="rgb(30,30,30)"/><rect x="651.1" y="85.70" width="20.4" height="4.55" fill="rgb(108,108,108)"/><rect x="609.5" y="90.25" width="20.4" height="4.55" fill="rgb(96,96,96)"/><rect x="629.9" y="90.25" width="21.3" height="4.55" fill="rgb(54,54,54)"/><rect x="651.1" y="90.25" width="20.4" height="4.55" fill="rgb(81,81,81)"/><rect x="609.5" y="94.80" width="20.4" height="4.55" fill="rgb(72,72,72)"/><rect x="629.9" y="94.80" width="21.3" height="4.55" fill="rgb(42,42,42)"/><rect x="651.1" y="94.80" width="20.4" height="4.55" fill="rgb(62,62,62)"/><rect x="609.5" y="99.35" width="20.4" height="4.55" fill="rgb(38,38,38)"/><rect x="629.9" y="99.35" width="21.3" height="4.55" fill="rgb(28,28,28)"/><rect x="651.1" y="99.35" width="20.4" height="4.55" fill="rgb(8,8,8)"/><rect x="609.5" y="103.90" width="20.4" height="4.55" fill="rgb(25,25,25)"/><rect x="629.9" y="103.90" width="21.3" height="4.55" fill="rgb(24,24,24)"/><rect x="651.1" y="103.90" width="20.4" height="4.55" fill="rgb(23,23,23)"/><rect x="609.5" y="108.45" width="20.4" height="4.55" fill="rgb(126,126,126)"/><rect x="629.9" y="108.45" width="21.3" height="4.55" fill="rgb(115,115,115)"/><rect x="651.1" y="108.45" width="20.4" height="4.55" fill="rgb(64,64,64)"/><rect x="609.5" y="113.00" width="20.4" height="4.55" fill="rgb(197,197,197)"/><rect x="629.9" y="113.00" width="21.3" height="4.55" fill="rgb(166,166,166)"/><rect x="651.1" y="113.00" width="20.4" height="4.55" fill="rgb(195,195,195)"/><rect x="609.5" y="117.55" width="20.4" height="4.55" fill="rgb(201,201,201)"/><rect x="629.9" y="117.55" width="21.3" height="4.55" fill="rgb(129,129,129)"/><rect x="651.1" y="117.55" width="20.4" height="4.55" fill="rgb(190,190,190)"/><rect x="609.5" y="122.10" width="20.4" height="4.55" fill="rgb(243,243,243)"/><rect x="629.9" y="122.10" width="21.3" height="4.55" fill="rgb(176,176,176)"/><rect x="651.1" y="122.10" width="20.4" height="4.55" fill="rgb(190,190,190)"/><rect x="609.5" y="126.65" width="20.4" height="4.55" fill="rgb(230,230,230)"/><rect x="629.9" y="126.65" width="21.3" height="4.55" fill="rgb(74,74,74)"/><rect x="651.1" y="126.65" width="20.4" height="4.55" fill="rgb(139,139,139)"/><rect x="609.5" y="131.20" width="20.4" height="4.55" fill="rgb(231,231,231)"/><rect x="629.9" y="131.20" width="21.3" height="4.55" fill="rgb(57,57,57)"/><rect x="651.1" y="131.20" width="20.4" height="4.55" fill="rgb(83,83,83)"/><rect x="609.5" y="135.75" width="20.4" height="4.55" fill="rgb(62,62,62)"/><rect x="629.9" y="135.75" width="21.3" height="4.55" fill="rgb(143,143,143)"/><rect x="651.1" y="135.75" width="20.4" height="4.55" fill="rgb(66,66,66)"/><rect x="609.5" y="140.30" width="20.4" height="4.55" fill="rgb(75,75,75)"/><rect x="629.9" y="140.30" width="21.3" height="4.55" fill="rgb(28,28,28)"/><rect x="651.1" y="140.30" width="20.4" height="4.55" fill="rgb(97,97,97)"/><rect x="609.5" y="144.85" width="20.4" height="4.55" fill="rgb(82,82,82)"/><rect x="629.9" y="144.85" width="21.3" height="4.55" fill="rgb(45,45,45)"/><rect x="651.1" y="144.85" width="20.4" height="4.55" fill="rgb(63,63,63)"/><rect x="609.5" y="149.40" width="20.4" height="4.55" fill="rgb(92,92,92)"/><rect x="629.9" y="149.40" width="21.3" height="4.55" fill="rgb(103,103,103)"/><rect x="651.1" y="149.40" width="20.4" height="4.55" fill="rgb(109,109,109)"/><rect x="609.5" y="153.95" width="20.4" height="4.55" fill="rgb(106,106,106)"/><rect x="629.9" y="153.95" width="21.3" height="4.55" fill="rgb(87,87,87)"/><rect x="651.1" y="153.95" width="20.4" height="4.55" fill="rgb(85,85,85)"/><rect x="609.5" y="158.50" width="20.4" height="4.55" fill="rgb(119,119,119)"/><rect x="629.9" y="158.50" width="21.3" height="4.55" fill="rgb(84,84,84)"/><rect x="651.1" y="158.50" width="20.4" height="4.55" fill="rgb(93,93,93)"/><rect x="609.5" y="163.05" width="20.4" height="4.55" fill="rgb(116,116,116)"/><rect x="629.9" y="163.05" width="21.3" height="4.55" fill="rgb(93,93,93)"/><rect x="651.1" y="163.05" width="20.4" height="4.55" fill="rgb(89,89,89)"/><rect x="609.5" y="167.60" width="20.4" height="4.55" fill="rgb(107,107,107)"/><rect x="629.9" y="167.60" width="21.3" height="4.55" fill="rgb(90,90,90)"/><rect x="651.1" y="167.60" width="20.4" height="4.55" fill="rgb(113,113,113)"/><rect x="609.5" y="172.15" width="20.4" height="4.55" fill="rgb(101,101,101)"/><rect x="629.9" y="172.15" width="21.3" height="4.55" fill="rgb(87,87,87)"/><rect x="651.1" y="172.15" width="20.4" height="4.55" fill="rgb(132,132,132)"/><rect x="609.5" y="176.70" width="20.4" height="4.55" fill="rgb(117,117,117)"/><rect x="629.9" y="176.70" width="21.3" height="4.55" fill="rgb(99,99,99)"/><rect x="651.1" y="176.70" width="20.4" height="4.55" fill="rgb(101,101,101)"/><rect x="609.5" y="181.25" width="20.4" height="4.55" fill="rgb(86,86,86)"/><rect x="629.9" y="181.25" width="21.3" height="4.55" fill="rgb(90,90,90)"/><rect x="651.1" y="181.25" width="20.4" height="4.55" fill="rgb(87,87,87)"/><rect x="609.5" y="185.80" width="20.4" height="4.55" fill="rgb(74,74,74)"/><rect x="629.9" y="185.80" width="21.3" height="4.55" fill="rgb(79,79,79)"/><rect x="651.1" y="185.80" width="20.4" height="4.55" fill="rgb(60,60,60)"/><rect x="609.5" y="190.35" width="20.4" height="4.55" fill="rgb(58,58,58)"/><rect x="629.9" y="190.35" width="21.3" height="4.55" fill="rgb(69,69,69)"/><rect x="651.1" y="190.35" width="20.4" height="4.55" fill="rgb(64,64,64)"/><rect x="609.5" y="194.90" width="20.4" height="4.55" fill="rgb(160,160,160)"/><rect x="629.9" y="194.90" width="21.3" height="4.55" fill="rgb(44,44,44)"/><rect x="651.1" y="194.90" width="20.4" height="4.55" fill="rgb(43,43,43)"/><rect x="609.5" y="199.45" width="20.4" height="4.55" fill="rgb(161,161,161)"/><rect x="629.9" y="199.45" width="21.3" height="4.55" fill="rgb(26,26,26)"/><rect x="651.1" y="199.45" width="20.4" height="4.55" fill="rgb(47,47,47)"/><rect x="609.5" y="204.00" width="20.4" height="4.55" fill="rgb(129,129,129)"/><rect x="629.9" y="204.00" width="21.3" height="4.55" fill="rgb(40,40,40)"/><rect x="651.1" y="204.00" width="20.4" height="4.55" fill="rgb(35,35,35)"/><rect x="609.5" y="208.55" width="20.4" height="4.55" fill="rgb(94,94,94)"/><rect x="629.9" y="208.55" width="21.3" height="4.55" fill="rgb(87,87,87)"/><rect x="651.1" y="208.55" width="20.4" height="4.55" fill="rgb(92,92,92)"/><rect x="609.5" y="213.10" width="20.4" height="4.55" fill="rgb(68,68,68)"/><rect x="629.9" y="213.10" width="21.3" height="4.55" fill="rgb(83,83,83)"/><rect x="651.1" y="213.10" width="20.4" height="4.55" fill="rgb(79,79,79)"/><rect x="609.5" y="217.65" width="20.4" height="4.55" fill="rgb(81,81,81)"/><rect x="629.9" y="217.65" width="21.3" height="4.55" fill="rgb(91,91,91)"/><rect x="651.1" y="217.65" width="20.4" height="4.55" fill="rgb(178,178,178)"/><rect x="609.5" y="222.20" width="20.4" height="4.55" fill="rgb(70,70,70)"/><rect x="629.9" y="222.20" width="21.3" height="4.55" fill="rgb(80,80,80)"/><rect x="651.1" y="222.20" width="20.4" height="4.55" fill="rgb(182,182,182)"/><rect x="609.5" y="226.75" width="20.4" height="4.55" fill="rgb(81,81,81)"/><rect x="629.9" y="226.75" width="21.3" height="4.55" fill="rgb(97,97,97)"/><rect x="651.1" y="226.75" width="20.4" height="4.55" fill="rgb(182,182,182)"/><rect x="609.5" y="231.30" width="20.4" height="4.55" fill="rgb(58,58,58)"/><rect x="629.9" y="231.30" width="21.3" height="4.55" fill="rgb(61,61,61)"/><rect x="651.1" y="231.30" width="20.4" height="4.55" fill="rgb(80,80,80)"/><rect x="609.5" y="235.85" width="20.4" height="4.55" fill="rgb(58,58,58)"/><rect x="629.9" y="235.85" width="21.3" height="4.55" fill="rgb(67,67,67)"/><rect x="651.1" y="235.85" width="20.4" height="4.55" fill="rgb(43,43,43)"/><rect x="609.5" y="240.40" width="20.4" height="4.55" fill="rgb(168,168,168)"/><rect x="629.9" y="240.40" width="21.3" height="4.55" fill="rgb(51,51,51)"/><rect x="651.1" y="240.40" width="20.4" height="4.55" fill="rgb(43,43,43)"/><rect x="609.5" y="244.95" width="20.4" height="4.55" fill="rgb(155,155,155)"/><rect x="629.9" y="244.95" width="21.3" height="4.55" fill="rgb(58,58,58)"/><rect x="651.1" y="244.95" width="20.4" height="4.55" fill="rgb(49,49,49)"/><rect x="609.5" y="249.50" width="20.4" height="4.55" fill="rgb(155,155,155)"/><rect x="629.9" y="249.50" width="21.3" height="4.55" fill="rgb(114,114,114)"/><rect x="651.1" y="249.50" width="20.4" height="4.55" fill="rgb(125,125,125)"/><rect x="609.5" y="254.05" width="20.4" height="4.55" fill="rgb(132,132,132)"/><rect x="629.9" y="254.05" width="21.3" height="4.55" fill="rgb(126,126,126)"/><rect x="651.1" y="254.05" width="20.4" height="4.55" fill="rgb(133,133,133)"/><rect x="609.5" y="258.60" width="20.4" height="4.55" fill="rgb(110,110,110)"/><rect x="629.9" y="258.60" width="21.3" height="4.55" fill="rgb(110,110,110)"/><rect x="651.1" y="258.60" width="20.4" height="4.55" fill="rgb(91,91,91)"/><rect x="609.5" y="263.15" width="20.4" height="4.55" fill="rgb(89,89,89)"/><rect x="629.9" y="263.15" width="21.3" height="4.55" fill="rgb(90,90,90)"/><rect x="651.1" y="263.15" width="20.4" height="4.55" fill="rgb(116,116,116)"/><rect x="609.5" y="267.70" width="20.4" height="4.55" fill="rgb(97,97,97)"/><rect x="629.9" y="267.70" width="21.3" height="4.55" fill="rgb(93,93,93)"/><rect x="651.1" y="267.70" width="20.4" height="4.55" fill="rgb(107,107,107)"/><rect x="609.5" y="272.25" width="20.4" height="4.55" fill="rgb(85,85,85)"/><rect x="629.9" y="272.25" width="21.3" height="4.55" fill="rgb(89,89,89)"/><rect x="651.1" y="272.25" width="20.4" height="4.55" fill="rgb(89,89,89)"/><rect x="609.5" y="276.80" width="20.4" height="4.55" fill="rgb(50,50,50)"/><rect x="629.9" y="276.80" width="21.3" height="4.55" fill="rgb(61,61,61)"/><rect x="651.1" y="276.80" width="20.4" height="4.55" fill="rgb(43,43,43)"/><rect x="609.5" y="281.35" width="20.4" height="4.55" fill="rgb(52,52,52)"/><rect x="629.9" y="281.35" width="21.3" height="4.55" fill="rgb(64,64,64)"/><rect x="651.1" y="281.35" width="20.4" height="4.55" fill="rgb(38,38,38)"/><rect x="609.5" y="285.90" width="20.4" height="4.55" fill="rgb(56,56,56)"/><rect x="629.9" y="285.90" width="21.3" height="4.55" fill="rgb(64,64,64)"/><rect x="651.1" y="285.90" width="20.4" height="4.55" fill="rgb(48,48,48)"/><rect x="609.5" y="290.45" width="20.4" height="4.55" fill="rgb(60,60,60)"/><rect x="629.9" y="290.45" width="21.3" height="4.55" fill="rgb(77,77,77)"/><rect x="651.1" y="290.45" width="20.4" height="4.55" fill="rgb(72,72,72)"/><rect x="609.5" y="295.00" width="20.4" height="4.55" fill="rgb(49,49,49)"/><rect x="629.9" y="295.00" width="21.3" height="4.55" fill="rgb(58,58,58)"/><rect x="651.1" y="295.00" width="20.4" height="4.55" fill="rgb(55,55,55)"/><rect x="609.5" y="299.55" width="20.4" height="4.55" fill="rgb(250,250,250)"/><rect x="629.9" y="299.55" width="21.3" height="4.55" fill="rgb(98,98,98)"/><rect x="651.1" y="299.55" width="20.4" height="4.55" fill="rgb(199,199,199)"/><rect x="609.5" y="304.10" width="20.4" height="4.55" fill="rgb(245,245,245)"/><rect x="629.9" y="304.10" width="21.3" height="4.55" fill="rgb(115,115,115)"/><rect x="651.1" y="304.10" width="20.4" height="4.55" fill="rgb(193,193,193)"/><rect x="609.5" y="308.65" width="20.4" height="4.55" fill="rgb(248,248,248)"/><rect x="629.9" y="308.65" width="21.3" height="4.55" fill="rgb(42,42,42)"/><rect x="651.1" y="308.65" width="20.4" height="4.55" fill="rgb(82,82,82)"/><rect x="609.5" y="313.20" width="20.4" height="4.55" fill="rgb(158,158,158)"/><rect x="629.9" y="313.20" width="21.3" height="4.55" fill="rgb(115,115,115)"/><rect x="651.1" y="313.20" width="20.4" height="4.55" fill="rgb(116,116,116)"/><rect x="609.5" y="317.75" width="20.4" height="4.55" fill="rgb(167,167,167)"/><rect x="629.9" y="317.75" width="21.3" height="4.55" fill="rgb(117,117,117)"/><rect x="651.1" y="317.75" width="20.4" height="4.55" fill="rgb(204,204,204)"/><rect x="609.5" y="322.30" width="20.4" height="4.55" fill="rgb(107,107,107)"/><rect x="629.9" y="322.30" width="21.3" height="4.55" fill="rgb(76,76,76)"/><rect x="651.1" y="322.30" width="20.4" height="4.55" fill="rgb(186,186,186)"/><rect x="609.5" y="326.85" width="20.4" height="4.55" fill="rgb(42,42,42)"/><rect x="629.9" y="326.85" width="21.3" height="4.55" fill="rgb(19,19,19)"/><rect x="651.1" y="326.85" width="20.4" height="4.55" fill="rgb(52,52,52)"/><rect x="609.5" y="331.40" width="20.4" height="4.55" fill="rgb(77,77,77)"/><rect x="629.9" y="331.40" width="21.3" height="4.55" fill="rgb(77,77,77)"/><rect x="651.1" y="331.40" width="20.4" height="4.55" fill="rgb(85,85,85)"/><rect x="609.5" y="335.95" width="20.4" height="4.55" fill="rgb(70,70,70)"/><rect x="629.9" y="335.95" width="21.3" height="4.55" fill="rgb(82,82,82)"/><rect x="651.1" y="335.95" width="20.4" height="4.55" fill="rgb(51,51,51)"/><rect x="609.5" y="340.50" width="20.4" height="4.55" fill="rgb(152,152,152)"/><rect x="629.9" y="340.50" width="21.3" height="4.55" fill="rgb(108,108,108)"/><rect x="651.1" y="340.50" width="20.4" height="4.55" fill="rgb(156,156,156)"/><rect x="609.5" y="345.05" width="20.4" height="4.55" fill="rgb(177,177,177)"/><rect x="629.9" y="345.05" width="21.3" height="4.55" fill="rgb(98,98,98)"/><rect x="651.1" y="345.05" width="20.4" height="4.55" fill="rgb(148,148,148)"/><rect x="609.5" y="349.60" width="20.4" height="4.55" fill="rgb(174,174,174)"/><rect x="629.9" y="349.60" width="21.3" height="4.55" fill="rgb(98,98,98)"/><rect x="651.1" y="349.60" width="20.4" height="4.55" fill="rgb(155,155,155)"/><rect x="609.5" y="354.15" width="20.4" height="4.55" fill="rgb(96,96,96)"/><rect x="629.9" y="354.15" width="21.3" height="4.55" fill="rgb(88,88,88)"/><rect x="651.1" y="354.15" width="20.4" height="4.55" fill="rgb(92,92,92)"/><rect x="609.5" y="358.70" width="20.4" height="4.55" fill="rgb(106,106,106)"/><rect x="629.9" y="358.70" width="21.3" height="4.55" fill="rgb(89,89,89)"/><rect x="651.1" y="358.70" width="20.4" height="4.55" fill="rgb(95,95,95)"/><rect x="609.5" y="363.25" width="20.4" height="4.55" fill="rgb(29,29,29)"/><rect x="629.9" y="363.25" width="21.3" height="4.55" fill="rgb(39,39,39)"/><rect x="651.1" y="363.25" width="20.4" height="4.55" fill="rgb(44,44,44)"/><rect x="609.5" y="367.80" width="20.4" height="4.55" fill="rgb(57,57,57)"/><rect x="629.9" y="367.80" width="21.3" height="4.55" fill="rgb(162,162,162)"/><rect x="651.1" y="367.80" width="20.4" height="4.55" fill="rgb(42,42,42)"/><rect x="609.5" y="372.35" width="20.4" height="4.55" fill="rgb(144,144,144)"/><rect x="629.9" y="372.35" width="21.3" height="4.55" fill="rgb(49,49,49)"/><rect x="651.1" y="372.35" width="20.4" height="4.55" fill="rgb(97,97,97)"/><rect x="609.5" y="376.90" width="20.4" height="4.55" fill="rgb(211,211,211)"/><rect x="629.9" y="376.90" width="21.3" height="4.55" fill="rgb(91,91,91)"/><rect x="651.1" y="376.90" width="20.4" height="4.55" fill="rgb(185,185,185)"/><rect x="609.5" y="381.45" width="20.4" height="4.55" fill="rgb(175,175,175)"/><rect x="629.9" y="381.45" width="21.3" height="4.55" fill="rgb(101,101,101)"/><rect x="651.1" y="381.45" width="20.4" height="4.55" fill="rgb(180,180,180)"/><rect x="609.5" y="386.00" width="20.4" height="4.55" fill="rgb(113,113,113)"/><rect x="629.9" y="386.00" width="21.3" height="4.55" fill="rgb(96,96,96)"/><rect x="651.1" y="386.00" width="20.4" height="4.55" fill="rgb(112,112,112)"/><rect x="609.5" y="390.55" width="20.4" height="4.55" fill="rgb(123,123,123)"/><rect x="629.9" y="390.55" width="21.3" height="4.55" fill="rgb(127,127,127)"/><rect x="651.1" y="390.55" width="20.4" height="4.55" fill="rgb(122,122,122)"/><rect x="609.5" y="395.10" width="20.4" height="4.55" fill="rgb(78,78,78)"/><rect x="629.9" y="395.10" width="21.3" height="4.55" fill="rgb(43,43,43)"/><rect x="651.1" y="395.10" width="20.4" height="4.55" fill="rgb(85,85,85)"/><rect x="609.5" y="399.65" width="20.4" height="4.55" fill="rgb(87,87,87)"/><rect x="629.9" y="399.65" width="21.3" height="4.55" fill="rgb(31,31,31)"/><rect x="651.1" y="399.65" width="20.4" height="4.55" fill="rgb(53,53,53)"/><rect x="609.5" y="404.20" width="20.4" height="4.55" fill="rgb(75,75,75)"/><rect x="629.9" y="404.20" width="21.3" height="4.55" fill="rgb(60,60,60)"/><rect x="651.1" y="404.20" width="20.4" height="4.55" fill="rgb(82,82,82)"/><rect x="609.5" y="408.75" width="20.4" height="4.55" fill="rgb(68,68,68)"/><rect x="629.9" y="408.75" width="21.3" height="4.55" fill="rgb(39,39,39)"/><rect x="651.1" y="408.75" width="20.4" height="4.55" fill="rgb(58,58,58)"/><rect x="609.5" y="413.30" width="20.4" height="4.55" fill="rgb(84,84,84)"/><rect x="629.9" y="413.30" width="21.3" height="4.55" fill="rgb(51,51,51)"/><rect x="651.1" y="413.30" width="20.4" height="4.55" fill="rgb(46,46,46)"/><rect x="609.5" y="417.85" width="20.4" height="4.55" fill="rgb(64,64,64)"/><rect x="629.9" y="417.85" width="21.3" height="4.55" fill="rgb(59,59,59)"/><rect x="651.1" y="417.85" width="20.4" height="4.55" fill="rgb(66,66,66)"/><rect x="609.5" y="422.40" width="20.4" height="4.55" fill="rgb(74,74,74)"/><rect x="629.9" y="422.40" width="21.3" height="4.55" fill="rgb(57,57,57)"/><rect x="651.1" y="422.40" width="20.4" height="4.55" fill="rgb(67,67,67)"/><rect x="609.5" y="426.95" width="20.4" height="4.55" fill="rgb(34,34,34)"/><rect x="629.9" y="426.95" width="21.3" height="4.55" fill="rgb(46,46,46)"/><rect x="651.1" y="426.95" width="20.4" height="4.55" fill="rgb(55,55,55)"/><rect x="609.5" y="431.50" width="20.4" height="4.55" fill="rgb(39,39,39)"/><rect x="629.9" y="431.50" width="21.3" height="4.55" fill="rgb(59,59,59)"/><rect x="651.1" y="431.50" width="20.4" height="4.55" fill="rgb(69,69,69)"/><rect x="609.5" y="436.05" width="20.4" height="4.55" fill="rgb(86,86,86)"/><rect x="629.9" y="436.05" width="21.3" height="4.55" fill="rgb(81,81,81)"/><rect x="651.1" y="436.05" width="20.4" height="4.55" fill="rgb(77,77,77)"/></g>
</g>
</g>
<rect x="612.5" y="66" width="56.0" height="370" fill="url(#lines2)"/>
<line x1="628.7" y1="66" x2="628.7" y2="436" stroke="#222" stroke-opacity="0.45" stroke-width="0.7"/>
<line x1="631.8" y1="66" x2="631.8" y2="436" stroke="#222" stroke-opacity="0.45" stroke-width="0.7"/>
<line x1="648.9" y1="66" x2="648.9" y2="436" stroke="#222" stroke-opacity="0.45" stroke-width="0.7"/>
<line x1="652.0" y1="66" x2="652.0" y2="436" stroke="#222" stroke-opacity="0.45" stroke-width="0.7"/>
<rect x="612.5" y="66" width="56.0" height="370" fill="none" stroke="#333" stroke-width="0.9"/>
</g>
<rect x="486.5" y="66.5" width="447" height="369" fill="none" stroke="#10307a" stroke-opacity="0.35" stroke-width="1"/>
<g clip-path="url(#clip3)"><g filter="url(#cmap)">
<rect x="-19" y="527" width="489" height="409" fill="rgb(59,59,59)"/>
<g filter="url(#bl2)"><path fill="rgb(20,20,20)" d="M255 707h8v4h-8zM251 747h12v4h-12zM247 787h12v4h-12zM247 827h8v4h-8zM255 831h8v4h-8z"/><path fill="rgb(26,26,26)" d="M247 707h8v4h-8zM263 707h8v4h-8zM239 747h12v4h-12zM263 747h20v4h-20zM247 751h36v4h-36zM239 783h16v4h-16zM235 787h12v4h-12zM259 787h20v4h-20zM247 791h40v4h-40zM263 795h24v4h-24zM231 823h28v4h-28zM235 827h12v4h-12zM255 827h16v4h-16zM243 831h12v4h-12zM263 831h16v4h-16zM251 835h36v4h-36zM263 839h24v4h-24zM231 863h16v4h-16zM231 867h28v4h-28zM235 871h32v4h-32zM239 875h36v4h-36zM243 879h36v4h-36zM251 883h32v4h-32zM255 887h32v4h-32zM259 891h28v4h-28zM267 895h20v4h-20zM239 915h8v4h-8zM235 919h20v4h-20z"/><path fill="rgb(33,33,33)" d="M223 659h12v4h-12zM267 703h16v4h-16zM243 707h4v4h-4zM271 707h8v4h-8zM243 711h20v4h-20zM235 747h4v4h-4zM283 747h12v4h-12zM239 751h8v4h-8zM283 751h16v4h-16zM227 783h12v4h-12zM255 783h16v4h-16zM231 787h4v4h-4zM279 787h12v4h-12zM239 791h8v4h-8zM287 791h12v4h-12zM251 795h12v4h-12zM287 795h20v4h-20zM271 799h28v4h-28zM227 819h24v4h-24zM223 823h8v4h-8zM259 823h12v4h-12zM227 827h8v4h-8zM271 827h12v4h-12zM235 831h8v4h-8zM279 831h12v4h-12zM243 835h8v4h-8zM287 835h12v4h-12zM251 839h12v4h-12zM287 839h16v4h-16zM259 843h48v4h-48zM271 847h36v4h-36zM291 851h8v4h-8zM223 859h32v4h-32zM223 863h8v4h-8zM247 863h20v4h-20zM223 867h8v4h-8zM259 867h16v4h-16zM227 871h8v4h-8zM267 871h16v4h-16zM231 875h8v4h-8zM275 875h12v4h-12zM235 879h8v4h-8zM279 879h12v4h-12zM239 883h12v4h-12zM283 883h12v4h-12zM243 887h12v4h-12zM287 887h12v4h-12zM243 891h16v4h-16zM287 891h16v4h-16zM243 895h24v4h-24zM287 895h20v4h-20zM239 899h68v4h-68zM227 903h84v4h-84zM223 907h88v4h-88zM223 911h88v4h-88zM223 915h16v4h-16zM247 915h60v4h-60zM223 919h12v4h-12zM255 919h48v4h-48z"/><path fill="rgb(39,39,39)" d="M227 615h16v4h-16zM219 619h16v4h-16zM231 655h16v4h-16zM219 659h4v4h-4zM235 659h4v4h-4zM259 703h8v4h-8zM283 703h12v4h-12zM239 707h4v4h-4zM279 707h8v4h-8zM239 711h4v4h-4zM263 711h8v4h-8zM235 743h60v4h-60zM227 747h8v4h-8zM295 747h16v4h-16zM235 751h4v4h-4zM299 751h12v4h-12zM251 755h48v4h-48zM239 779h12v4h-12zM223 783h4v4h-4zM271 783h16v4h-16zM223 787h8v4h-8zM291 787h12v4h-12zM231 791h8v4h-8zM299 791h16v4h-16zM243 795h8v4h-8zM307 795h12v4h-12zM255 799h16v4h-16zM299 799h24v4h-24zM275 803h40v4h-40zM219 819h8v4h-8zM251 819h20v4h-20zM219 823h4v4h-4zM271 823h16v4h-16zM223 827h4v4h-4zM283 827h12v4h-12zM231 831h4v4h-4zM291 831h12v4h-12zM235 835h8v4h-8zM299 835h12v4h-12zM243 839h8v4h-8zM303 839h16v4h-16zM247 843h12v4h-12zM307 843h16v4h-16zM251 847h20v4h-20zM307 847h16v4h-16zM247 851h44v4h-44zM299 851h28v4h-28zM219 855h108v4h-108zM215 859h8v4h-8zM255 859h64v4h-64zM215 863h8v4h-8zM267 863h40v4h-40zM219 867h4v4h-4zM275 867h24v4h-24zM223 871h4v4h-4zM283 871h16v4h-16zM227 875h4v4h-4zM287 875h16v4h-16zM227 879h8v4h-8zM291 879h16v4h-16zM231 883h8v4h-8zM295 883h16v4h-16zM231 887h12v4h-12zM299 887h16v4h-16zM227 891h16v4h-16zM303 891h12v4h-12zM223 895h20v4h-20zM307 895h12v4h-12zM219 899h20v4h-20zM307 899h16v4h-16zM215 903h12v4h-12zM311 903h12v4h-12zM215 907h8v4h-8zM311 907h16v4h-16zM215 911h8v4h-8zM311 911h16v4h-16zM219 915h4v4h-4zM307 915h24v4h-24zM219 919h4v4h-4zM303 919h28v4h-28z"/><path fill="rgb(46,46,46)" d="M251 543h28v4h-28zM247 547h28v4h-28zM243 551h32v4h-32zM239 555h32v4h-32zM235 559h32v4h-32zM231 563h28v4h-28zM227 567h28v4h-28zM223 571h24v4h-24zM219 575h24v4h-24zM215 579h16v4h-16zM247 607h16v4h-16zM231 611h28v4h-28zM223 615h4v4h-4zM243 615h8v4h-8zM215 619h4v4h-4zM235 619h8v4h-8zM211 623h16v4h-16zM423 635h16v4h-16zM407 639h32v4h-32zM399 643h36v4h-36zM391 647h44v4h-44zM383 651h48v4h-48zM227 655h4v4h-4zM247 655h4v4h-4zM379 655h48v4h-48zM215 659h4v4h-4zM239 659h4v4h-4zM379 659h44v4h-44zM215 663h8v4h-8zM375 663h44v4h-44zM371 667h40v4h-40zM371 671h32v4h-32zM367 675h24v4h-24zM327 691h4v4h-4zM307 695h16v4h-16zM283 699h32v4h-32zM251 703h8v4h-8zM295 703h12v4h-12zM235 707h4v4h-4zM287 707h8v4h-8zM235 711h4v4h-4zM271 711h8v4h-8zM231 743h4v4h-4zM295 743h20v4h-20zM223 747h4v4h-4zM311 747h16v4h-16zM231 751h4v4h-4zM311 751h16v4h-16zM243 755h8v4h-8zM299 755h20v4h-20zM271 759h20v4h-20zM223 779h16v4h-16zM251 779h28v4h-28zM219 783h4v4h-4zM287 783h16v4h-16zM303 787h12v4h-12zM227 791h4v4h-4zM315 791h12v4h-12zM239 795h4v4h-4zM319 795h16v4h-16zM247 799h8v4h-8zM323 799h16v4h-16zM259 803h16v4h-16zM315 803h20v4h-20zM267 807h64v4h-64zM275 811h36v4h-36zM219 815h68v4h-68zM215 819h4v4h-4zM271 819h24v4h-24zM215 823h4v4h-4zM287 823h16v4h-16zM219 827h4v4h-4zM295 827h16v4h-16zM223 831h8v4h-8zM303 831h16v4h-16zM231 835h4v4h-4zM311 835h12v4h-12zM235 839h8v4h-8zM319 839h12v4h-12zM239 843h8v4h-8zM323 843h12v4h-12zM235 847h16v4h-16zM323 847h16v4h-16zM219 851h28v4h-28zM327 851h16v4h-16zM211 855h8v4h-8zM327 855h16v4h-16zM211 859h4v4h-4zM319 859h24v4h-24zM211 863h4v4h-4zM307 863h36v4h-36zM215 867h4v4h-4zM299 867h40v4h-40zM219 871h4v4h-4zM299 871h32v4h-32zM223 875h4v4h-4zM303 875h24v4h-24zM223 879h4v4h-4zM307 879h20v4h-20zM223 883h8v4h-8zM311 883h16v4h-16zM219 887h12v4h-12zM315 887h16v4h-16zM215 891h12v4h-12zM315 891h16v4h-16zM211 895h12v4h-12zM319 895h16v4h-16zM211 899h8v4h-8zM323 899h12v4h-12zM211 903h4v4h-4zM323 903h16v4h-16zM211 907h4v4h-4zM327 907h12v4h-12zM211 911h4v4h-4zM327 911h16v4h-16zM211 915h8v4h-8zM331 915h12v4h-12zM215 919h4v4h-4zM331 919h16v4h-16z"/><path fill="rgb(52,52,52)" d="M235 543h16v4h-16zM279 543h12v4h-12zM235 547h12v4h-12zM275 547h12v4h-12zM235 551h8v4h-8zM275 551h8v4h-8zM231 555h8v4h-8zM271 555h8v4h-8zM227 559h8v4h-8zM267 559h8v4h-8zM227 563h4v4h-4zM259 563h12v4h-12zM223 567h4v4h-4zM255 567h8v4h-8zM219 571h4v4h-4zM247 571h12v4h-12zM215 575h4v4h-4zM243 575h8v4h-8zM211 579h4v4h-4zM231 579h12v4h-12zM207 583h24v4h-24zM451 599h4v4h-4zM251 603h24v4h-24zM443 603h12v4h-12zM239 607h8v4h-8zM263 607h8v4h-8zM439 607h16v4h-16zM227 611h4v4h-4zM259 611h8v4h-8zM431 611h24v4h-24zM219 615h4v4h-4zM251 615h8v4h-8zM423 615h32v4h-32zM211 619h4v4h-4zM243 619h4v4h-4zM415 619h40v4h-40zM207 623h4v4h-4zM227 623h8v4h-8zM411 623h44v4h-44zM403 627h52v4h-52zM395 631h60v4h-60zM387 635h36v4h-36zM439 635h16v4h-16zM379 639h28v4h-28zM439 639h16v4h-16zM371 643h28v4h-28zM435 643h20v4h-20zM367 647h24v4h-24zM435 647h20v4h-20zM239 651h16v4h-16zM363 651h20v4h-20zM431 651h24v4h-24zM223 655h4v4h-4zM251 655h4v4h-4zM359 655h20v4h-20zM427 655h28v4h-28zM243 659h4v4h-4zM359 659h20v4h-20zM423 659h32v4h-32zM211 663h4v4h-4zM223 663h4v4h-4zM355 663h20v4h-20zM419 663h36v4h-36zM355 667h16v4h-16zM411 667h44v4h-44zM347 671h24v4h-24zM403 671h52v4h-52zM343 675h24v4h-24zM391 675h64v4h-64zM335 679h120v4h-120zM327 683h128v4h-128zM319 687h80v4h-80zM447 687h8v4h-8zM311 691h16v4h-16zM331 691h20v4h-20zM295 695h12v4h-12zM323 695h20v4h-20zM275 699h8v4h-8zM315 699h16v4h-16zM247 703h4v4h-4zM307 703h8v4h-8zM231 707h4v4h-4zM295 707h8v4h-8zM231 711h4v4h-4zM279 711h8v4h-8zM451 723h4v4h-4zM447 727h8v4h-8zM439 731h16v4h-16zM435 735h20v4h-20zM263 739h32v4h-32zM431 739h24v4h-24zM223 743h8v4h-8zM315 743h20v4h-20zM431 743h24v4h-24zM219 747h4v4h-4zM327 747h16v4h-16zM447 747h8v4h-8zM227 751h4v4h-4zM327 751h16v4h-16zM239 755h4v4h-4zM319 755h16v4h-16zM255 759h16v4h-16zM291 759h28v4h-28zM219 779h4v4h-4zM279 779h20v4h-20zM215 783h4v4h-4zM303 783h16v4h-16zM219 787h4v4h-4zM315 787h16v4h-16zM223 791h4v4h-4zM327 791h12v4h-12zM231 795h8v4h-8zM335 795h12v4h-12zM239 799h8v4h-8zM339 799h12v4h-12zM247 803h12v4h-12zM335 803h20v4h-20zM247 807h20v4h-20zM331 807h20v4h-20zM231 811h44v4h-44zM311 811h36v4h-36zM211 815h8v4h-8zM287 815h48v4h-48zM211 819h4v4h-4zM295 819h32v4h-32zM211 823h4v4h-4zM303 823h24v4h-24zM215 827h4v4h-4zM311 827h16v4h-16zM219 831h4v4h-4zM319 831h12v4h-12zM227 835h4v4h-4zM323 835h16v4h-16zM227 839h8v4h-8zM331 839h12v4h-12zM227 843h12v4h-12zM335 843h12v4h-12zM223 847h12v4h-12zM339 847h12v4h-12zM211 851h8v4h-8zM343 851h12v4h-12zM207 855h4v4h-4zM343 855h24v4h-24zM207 859h4v4h-4zM343 859h36v4h-36zM343 863h44v4h-44zM211 867h4v4h-4zM339 867h60v4h-60zM215 871h4v4h-4zM331 871h76v4h-76zM215 875h8v4h-8zM327 875h92v4h-92zM219 879h4v4h-4zM327 879h24v4h-24zM355 879h76v4h-76zM215 883h8v4h-8zM327 883h24v4h-24zM367 883h76v4h-76zM211 887h8v4h-8zM331 887h16v4h-16zM375 887h76v4h-76zM207 891h8v4h-8zM331 891h16v4h-16zM387 891h68v4h-68zM207 895h4v4h-4zM335 895h12v4h-12zM395 895h60v4h-60zM207 899h4v4h-4zM335 899h16v4h-16zM403 899h52v4h-52zM207 903h4v4h-4zM339 903h12v4h-12zM411 903h44v4h-44zM207 907h4v4h-4zM339 907h16v4h-16zM419 907h36v4h-36zM207 911h4v4h-4zM343 911h20v4h-20zM427 911h28v4h-28zM207 915h4v4h-4zM343 915h28v4h-28zM435 915h20v4h-20zM211 919h4v4h-4zM347 919h32v4h-32zM443 919h12v4h-12z"/><path fill="rgb(59,59,59)" d="M223 543h12v4h-12zM291 543h12v4h-12zM223 547h12v4h-12zM287 547h12v4h-12zM227 551h8v4h-8zM283 551h12v4h-12zM223 555h8v4h-8zM279 555h8v4h-8zM223 559h4v4h-4zM275 559h8v4h-8zM451 559h4v4h-4zM219 563h8v4h-8zM271 563h8v4h-8zM451 563h4v4h-4zM219 567h4v4h-4zM263 567h8v4h-8zM451 567h4v4h-4zM215 571h4v4h-4zM259 571h8v4h-8zM447 571h8v4h-8zM211 575h4v4h-4zM251 575h8v4h-8zM447 575h8v4h-8zM207 579h4v4h-4zM243 579h8v4h-8zM443 579h12v4h-12zM203 583h4v4h-4zM231 583h8v4h-8zM443 583h12v4h-12zM203 587h24v4h-24zM439 587h16v4h-16zM435 591h20v4h-20zM263 595h28v4h-28zM431 595h24v4h-24zM251 599h40v4h-40zM427 599h24v4h-24zM243 603h8v4h-8zM275 603h12v4h-12zM423 603h20v4h-20zM231 607h8v4h-8zM271 607h8v4h-8zM415 607h24v4h-24zM223 611h4v4h-4zM267 611h4v4h-4zM411 611h20v4h-20zM215 615h4v4h-4zM259 615h4v4h-4zM407 615h16v4h-16zM247 619h8v4h-8zM399 619h16v4h-16zM203 623h4v4h-4zM235 623h4v4h-4zM391 623h20v4h-20zM203 627h20v4h-20zM387 627h16v4h-16zM379 631h16v4h-16zM371 635h16v4h-16zM363 639h16v4h-16zM359 643h12v4h-12zM351 647h16v4h-16zM235 651h4v4h-4zM255 651h8v4h-8zM343 651h20v4h-20zM219 655h4v4h-4zM255 655h4v4h-4zM339 655h20v4h-20zM211 659h4v4h-4zM247 659h4v4h-4zM339 659h20v4h-20zM207 663h4v4h-4zM227 663h4v4h-4zM339 663h16v4h-16zM339 667h16v4h-16zM335 671h12v4h-12zM331 675h12v4h-12zM327 679h8v4h-8zM319 683h8v4h-8zM311 687h8v4h-8zM399 687h48v4h-48zM303 691h8v4h-8zM351 691h104v4h-104zM287 695h8v4h-8zM343 695h112v4h-112zM271 699h4v4h-4zM331 699h12v4h-12zM415 699h40v4h-40zM243 703h4v4h-4zM315 703h16v4h-16zM423 703h32v4h-32zM227 707h4v4h-4zM303 707h8v4h-8zM427 707h28v4h-28zM287 711h8v4h-8zM427 711h28v4h-28zM243 715h28v4h-28zM427 715h28v4h-28zM423 719h32v4h-32zM415 723h36v4h-36zM411 727h36v4h-36zM399 731h40v4h-40zM387 735h48v4h-48zM243 739h20v4h-20zM295 739h48v4h-48zM371 739h60v4h-60zM219 743h4v4h-4zM335 743h96v4h-96zM343 747h104v4h-104zM223 751h4v4h-4zM343 751h112v4h-112zM235 755h4v4h-4zM335 755h16v4h-16zM387 755h68v4h-68zM247 759h8v4h-8zM319 759h24v4h-24zM423 759h32v4h-32zM263 763h60v4h-60zM447 763h8v4h-8zM231 775h76v4h-76zM211 779h8v4h-8zM299 779h24v4h-24zM211 783h4v4h-4zM319 783h16v4h-16zM215 787h4v4h-4zM331 787h16v4h-16zM339 791h20v4h-20zM227 795h4v4h-4zM347 795h52v4h-52zM447 795h8v4h-8zM235 799h4v4h-4zM351 799h104v4h-104zM239 803h8v4h-8zM355 803h100v4h-100zM235 807h12v4h-12zM351 807h104v4h-104zM219 811h12v4h-12zM347 811h108v4h-108zM207 815h4v4h-4zM335 815h120v4h-120zM207 819h4v4h-4zM327 819h128v4h-128zM207 823h4v4h-4zM327 823h24v4h-24zM363 823h92v4h-92zM211 827h4v4h-4zM327 827h20v4h-20zM383 827h72v4h-72zM331 831h20v4h-20zM395 831h60v4h-60zM219 835h8v4h-8zM339 835h12v4h-12zM407 835h48v4h-48zM223 839h4v4h-4zM343 839h20v4h-20zM419 839h36v4h-36zM223 843h4v4h-4zM347 843h36v4h-36zM427 843h28v4h-28zM211 847h12v4h-12zM351 847h52v4h-52zM431 847h24v4h-24zM207 851h4v4h-4zM355 851h100v4h-100zM203 855h4v4h-4zM367 855h88v4h-88zM203 859h4v4h-4zM379 859h76v4h-76zM207 863h4v4h-4zM387 863h68v4h-68zM399 867h56v4h-56zM211 871h4v4h-4zM407 871h48v4h-48zM211 875h4v4h-4zM419 875h36v4h-36zM211 879h8v4h-8zM351 879h4v4h-4zM431 879h24v4h-24zM211 883h4v4h-4zM351 883h16v4h-16zM443 883h12v4h-12zM207 887h4v4h-4zM347 887h28v4h-28zM451 887h4v4h-4zM203 891h4v4h-4zM347 891h40v4h-40zM203 895h4v4h-4zM347 895h48v4h-48zM203 899h4v4h-4zM351 899h52v4h-52zM203 903h4v4h-4zM351 903h60v4h-60zM203 907h4v4h-4zM355 907h64v4h-64zM203 911h4v4h-4zM363 911h64v4h-64zM371 915h64v4h-64zM207 919h4v4h-4zM379 919h64v4h-64z"/><path fill="rgb(65,65,65)" d="M207 543h16v4h-16zM303 543h8v4h-8zM423 543h32v4h-32zM215 547h8v4h-8zM299 547h8v4h-8zM423 547h32v4h-32zM215 551h12v4h-12zM295 551h8v4h-8zM419 551h36v4h-36zM219 555h4v4h-4zM287 555h12v4h-12zM419 555h36v4h-36zM219 559h4v4h-4zM283 559h12v4h-12zM419 559h32v4h-32zM215 563h4v4h-4zM279 563h12v4h-12zM419 563h32v4h-32zM215 567h4v4h-4zM271 567h12v4h-12zM419 567h32v4h-32zM211 571h4v4h-4zM267 571h12v4h-12zM419 571h28v4h-28zM207 575h4v4h-4zM259 575h12v4h-12zM419 575h28v4h-28zM203 579h4v4h-4zM251 579h12v4h-12zM419 579h24v4h-24zM239 583h16v4h-16zM295 583h8v4h-8zM419 583h24v4h-24zM199 587h4v4h-4zM227 587h12v4h-12zM271 587h40v4h-40zM419 587h20v4h-20zM259 591h52v4h-52zM415 591h20v4h-20zM251 595h12v4h-12zM291 595h16v4h-16zM415 595h16v4h-16zM243 599h8v4h-8zM291 599h12v4h-12zM411 599h16v4h-16zM235 603h8v4h-8zM287 603h8v4h-8zM407 603h16v4h-16zM227 607h4v4h-4zM279 607h8v4h-8zM403 607h12v4h-12zM219 611h4v4h-4zM271 611h8v4h-8zM395 611h16v4h-16zM263 615h8v4h-8zM391 615h16v4h-16zM207 619h4v4h-4zM255 619h4v4h-4zM387 619h12v4h-12zM239 623h8v4h-8zM379 623h12v4h-12zM199 627h4v4h-4zM223 627h4v4h-4zM371 627h16v4h-16zM367 631h12v4h-12zM359 635h12v4h-12zM351 639h12v4h-12zM339 643h20v4h-20zM331 647h20v4h-20zM231 651h4v4h-4zM263 651h8v4h-8zM327 651h16v4h-16zM259 655h8v4h-8zM327 655h12v4h-12zM251 659h4v4h-4zM327 659h12v4h-12zM231 663h4v4h-4zM331 663h8v4h-8zM331 667h8v4h-8zM327 671h8v4h-8zM327 675h4v4h-4zM319 679h8v4h-8zM315 683h4v4h-4zM307 687h4v4h-4zM299 691h4v4h-4zM283 695h4v4h-4zM263 699h8v4h-8zM343 699h72v4h-72zM239 703h4v4h-4zM331 703h12v4h-12zM387 703h36v4h-36zM223 707h4v4h-4zM311 707h12v4h-12zM399 707h28v4h-28zM227 711h4v4h-4zM295 711h8v4h-8zM403 711h24v4h-24zM239 715h4v4h-4zM271 715h12v4h-12zM403 715h24v4h-24zM399 719h24v4h-24zM391 723h24v4h-24zM383 727h28v4h-28zM375 731h24v4h-24zM303 735h44v4h-44zM355 735h32v4h-32zM231 739h12v4h-12zM343 739h28v4h-28zM215 743h4v4h-4zM215 747h4v4h-4zM219 751h4v4h-4zM231 755h4v4h-4zM351 755h36v4h-36zM239 759h8v4h-8zM343 759h80v4h-80zM251 763h12v4h-12zM323 763h28v4h-28zM367 763h80v4h-80zM259 767h80v4h-80zM395 767h60v4h-60zM247 771h84v4h-84zM411 771h44v4h-44zM223 775h8v4h-8zM307 775h28v4h-28zM415 775h40v4h-40zM323 779h20v4h-20zM415 779h40v4h-40zM207 783h4v4h-4zM335 783h16v4h-16zM399 783h56v4h-56zM211 787h4v4h-4zM347 787h108v4h-108zM219 791h4v4h-4zM359 791h96v4h-96zM223 795h4v4h-4zM399 795h48v4h-48zM231 799h4v4h-4zM231 803h8v4h-8zM227 807h8v4h-8zM211 811h8v4h-8zM203 815h4v4h-4zM203 819h4v4h-4zM351 823h12v4h-12zM347 827h36v4h-36zM215 831h4v4h-4zM351 831h44v4h-44zM351 835h56v4h-56zM219 839h4v4h-4zM363 839h56v4h-56zM215 843h8v4h-8zM383 843h44v4h-44zM207 847h4v4h-4zM403 847h28v4h-28zM203 851h4v4h-4zM199 855h4v4h-4zM203 863h4v4h-4zM207 867h4v4h-4zM207 871h4v4h-4zM207 875h4v4h-4zM207 879h4v4h-4zM203 883h8v4h-8zM203 887h4v4h-4zM199 891h4v4h-4zM199 895h4v4h-4zM199 899h4v4h-4zM199 903h4v4h-4zM203 915h4v4h-4zM203 919h4v4h-4z"/><path fill="rgb(72,72,72)" d="M203 543h4v4h-4zM311 543h12v4h-12zM395 543h28v4h-28zM203 547h12v4h-12zM307 547h16v4h-16zM391 547h32v4h-32zM207 551h8v4h-8zM303 551h16v4h-16zM387 551h32v4h-32zM211 555h8v4h-8zM299 555h16v4h-16zM383 555h36v4h-36zM211 559h8v4h-8zM295 559h16v4h-16zM383 559h36v4h-36zM211 563h4v4h-4zM291 563h16v4h-16zM379 563h40v4h-40zM211 567h4v4h-4zM283 567h24v4h-24zM379 567h40v4h-40zM207 571h4v4h-4zM279 571h48v4h-48zM383 571h36v4h-36zM271 575h64v4h-64zM387 575h32v4h-32zM263 579h76v4h-76zM395 579h24v4h-24zM199 583h4v4h-4zM255 583h40v4h-40zM303 583h32v4h-32zM395 583h24v4h-24zM239 587h32v4h-32zM311 587h20v4h-20zM399 587h20v4h-20zM199 591h60v4h-60zM311 591h16v4h-16zM399 591h16v4h-16zM239 595h12v4h-12zM307 595h12v4h-12zM395 595h20v4h-20zM235 599h8v4h-8zM303 599h8v4h-8zM395 599h16v4h-16zM231 603h4v4h-4zM295 603h8v4h-8zM391 603h16v4h-16zM223 607h4v4h-4zM287 607h8v4h-8zM387 607h16v4h-16zM279 611h8v4h-8zM383 611h12v4h-12zM211 615h4v4h-4zM271 615h4v4h-4zM379 615h12v4h-12zM259 619h4v4h-4zM375 619h12v4h-12zM199 623h4v4h-4zM247 623h4v4h-4zM367 623h12v4h-12zM227 627h8v4h-8zM363 627h8v4h-8zM355 631h12v4h-12zM347 635h12v4h-12zM335 639h16v4h-16zM323 643h16v4h-16zM243 647h32v4h-32zM315 647h16v4h-16zM227 651h4v4h-4zM271 651h12v4h-12zM311 651h16v4h-16zM215 655h4v4h-4zM267 655h4v4h-4zM315 655h12v4h-12zM255 659h4v4h-4zM319 659h8v4h-8zM203 663h4v4h-4zM235 663h4v4h-4zM323 663h8v4h-8zM203 667h12v4h-12zM323 667h8v4h-8zM323 671h4v4h-4zM319 675h8v4h-8zM315 679h4v4h-4zM311 683h4v4h-4zM303 687h4v4h-4zM295 691h4v4h-4zM279 695h4v4h-4zM259 699h4v4h-4zM235 703h4v4h-4zM343 703h44v4h-44zM323 707h20v4h-20zM367 707h32v4h-32zM223 711h4v4h-4zM303 711h16v4h-16zM379 711h24v4h-24zM235 715h4v4h-4zM283 715h12v4h-12zM379 715h24v4h-24zM379 719h20v4h-20zM375 723h16v4h-16zM367 727h16v4h-16zM339 731h36v4h-36zM263 735h40v4h-40zM347 735h8v4h-8zM227 739h4v4h-4zM211 743h4v4h-4zM211 747h4v4h-4zM227 755h4v4h-4zM235 759h4v4h-4zM243 763h8v4h-8zM351 763h16v4h-16zM247 767h12v4h-12zM339 767h56v4h-56zM235 771h12v4h-12zM331 771h80v4h-80zM215 775h8v4h-8zM335 775h80v4h-80zM207 779h4v4h-4zM343 779h72v4h-72zM351 783h48v4h-48zM215 791h4v4h-4zM219 795h4v4h-4zM227 799h4v4h-4zM227 803h4v4h-4zM219 807h8v4h-8zM207 811h4v4h-4zM203 823h4v4h-4zM207 827h4v4h-4zM211 831h4v4h-4zM215 835h4v4h-4zM215 839h4v4h-4zM211 843h4v4h-4zM203 847h4v4h-4zM199 851h4v4h-4zM199 859h4v4h-4zM203 867h4v4h-4zM203 879h4v4h-4zM199 883h4v4h-4zM199 887h4v4h-4zM199 907h4v4h-4zM199 911h4v4h-4zM199 915h4v4h-4zM199 919h4v4h-4z"/><path fill="rgb(78,78,78)" d="M199 543h4v4h-4zM323 543h20v4h-20zM367 543h28v4h-28zM199 547h4v4h-4zM323 547h20v4h-20zM363 547h28v4h-28zM203 551h4v4h-4zM319 551h24v4h-24zM359 551h28v4h-28zM207 555h4v4h-4zM315 555h36v4h-36zM355 555h28v4h-28zM207 559h4v4h-4zM311 559h72v4h-72zM207 563h4v4h-4zM307 563h72v4h-72zM207 567h4v4h-4zM307 567h72v4h-72zM327 571h56v4h-56zM203 575h4v4h-4zM335 575h52v4h-52zM199 579h4v4h-4zM339 579h56v4h-56zM335 583h60v4h-60zM195 587h4v4h-4zM331 587h20v4h-20zM367 587h32v4h-32zM195 591h4v4h-4zM327 591h16v4h-16zM375 591h24v4h-24zM223 595h16v4h-16zM319 595h16v4h-16zM379 595h16v4h-16zM227 599h8v4h-8zM311 599h12v4h-12zM379 599h16v4h-16zM227 603h4v4h-4zM303 603h12v4h-12zM379 603h12v4h-12zM219 607h4v4h-4zM295 607h8v4h-8zM375 607h12v4h-12zM215 611h4v4h-4zM287 611h8v4h-8zM375 611h8v4h-8zM275 615h8v4h-8zM371 615h8v4h-8zM203 619h4v4h-4zM263 619h8v4h-8zM363 619h12v4h-12zM251 623h8v4h-8zM359 623h8v4h-8zM195 627h4v4h-4zM235 627h8v4h-8zM355 627h8v4h-8zM343 631h12v4h-12zM331 635h16v4h-16zM319 639h16v4h-16zM303 643h20v4h-20zM239 647h4v4h-4zM275 647h40v4h-40zM223 651h4v4h-4zM283 651h28v4h-28zM271 655h12v4h-12zM299 655h16v4h-16zM207 659h4v4h-4zM259 659h4v4h-4zM311 659h8v4h-8zM239 663h4v4h-4zM315 663h8v4h-8zM199 667h4v4h-4zM215 667h4v4h-4zM319 667h4v4h-4zM319 671h4v4h-4zM315 675h4v4h-4zM311 679h4v4h-4zM307 683h4v4h-4zM299 687h4v4h-4zM291 691h4v4h-4zM275 695h4v4h-4zM255 699h4v4h-4zM231 703h4v4h-4zM219 707h4v4h-4zM343 707h24v4h-24zM319 711h32v4h-32zM355 711h24v4h-24zM231 715h4v4h-4zM295 715h16v4h-16zM363 715h16v4h-16zM251 719h28v4h-28zM363 719h16v4h-16zM355 723h20v4h-20zM335 727h32v4h-32zM295 731h44v4h-44zM251 735h12v4h-12zM219 739h8v4h-8zM215 751h4v4h-4zM223 755h4v4h-4zM231 759h4v4h-4zM239 763h4v4h-4zM239 767h8v4h-8zM227 771h8v4h-8zM211 775h4v4h-4zM203 779h4v4h-4zM203 783h4v4h-4zM207 787h4v4h-4zM211 791h4v4h-4zM223 799h4v4h-4zM223 803h4v4h-4zM215 807h4v4h-4zM203 811h4v4h-4zM199 815h4v4h-4zM199 819h4v4h-4zM207 831h4v4h-4zM211 835h4v4h-4zM211 839h4v4h-4zM207 843h4v4h-4zM199 847h4v4h-4zM195 851h4v4h-4zM195 855h4v4h-4zM199 863h4v4h-4zM203 871h4v4h-4zM203 875h4v4h-4zM199 879h4v4h-4zM195 887h4v4h-4zM195 891h4v4h-4zM195 895h4v4h-4zM195 899h4v4h-4zM195 903h4v4h-4zM195 907h4v4h-4z"/><path fill="rgb(85,85,85)" d="M195 543h4v4h-4zM343 543h24v4h-24zM195 547h4v4h-4zM343 547h20v4h-20zM199 551h4v4h-4zM343 551h16v4h-16zM199 555h8v4h-8zM351 555h4v4h-4zM203 559h4v4h-4zM203 567h4v4h-4zM203 571h4v4h-4zM195 583h4v4h-4zM351 587h16v4h-16zM191 591h4v4h-4zM343 591h32v4h-32zM203 595h20v4h-20zM335 595h44v4h-44zM223 599h4v4h-4zM323 599h20v4h-20zM359 599h20v4h-20zM223 603h4v4h-4zM315 603h16v4h-16zM363 603h16v4h-16zM303 607h16v4h-16zM363 607h12v4h-12zM211 611h4v4h-4zM295 611h8v4h-8zM363 611h12v4h-12zM207 615h4v4h-4zM283 615h8v4h-8zM359 615h12v4h-12zM271 619h8v4h-8zM355 619h8v4h-8zM195 623h4v4h-4zM259 623h8v4h-8zM347 623h12v4h-12zM243 627h8v4h-8zM339 627h16v4h-16zM199 631h24v4h-24zM327 631h16v4h-16zM319 635h12v4h-12zM303 639h16v4h-16zM251 643h52v4h-52zM235 647h4v4h-4zM283 655h16v4h-16zM263 659h4v4h-4zM299 659h12v4h-12zM199 663h4v4h-4zM243 663h4v4h-4zM307 663h8v4h-8zM195 667h4v4h-4zM219 667h4v4h-4zM311 667h8v4h-8zM311 671h8v4h-8zM311 675h4v4h-4zM307 679h4v4h-4zM303 683h4v4h-4zM295 687h4v4h-4zM287 691h4v4h-4zM271 695h4v4h-4zM227 703h4v4h-4zM215 707h4v4h-4zM219 711h4v4h-4zM351 711h4v4h-4zM227 715h4v4h-4zM311 715h52v4h-52zM243 719h8v4h-8zM279 719h84v4h-84zM319 723h36v4h-36zM299 727h36v4h-36zM271 731h24v4h-24zM239 735h12v4h-12zM215 739h4v4h-4zM207 743h4v4h-4zM207 747h4v4h-4zM219 755h4v4h-4zM227 759h4v4h-4zM235 763h4v4h-4zM231 767h8v4h-8zM223 771h4v4h-4zM207 775h4v4h-4zM215 795h4v4h-4zM219 799h4v4h-4zM215 803h8v4h-8zM211 807h4v4h-4zM199 811h4v4h-4zM199 823h4v4h-4zM203 827h4v4h-4zM207 835h4v4h-4zM207 839h4v4h-4zM203 843h4v4h-4zM195 847h4v4h-4zM195 859h4v4h-4zM199 867h4v4h-4zM199 871h4v4h-4zM199 875h4v4h-4zM195 883h4v4h-4zM191 891h4v4h-4zM195 911h4v4h-4zM195 915h4v4h-4zM195 919h4v4h-4z"/><path fill="rgb(92,92,92)" d="M191 543h4v4h-4zM191 547h4v4h-4zM195 551h4v4h-4zM195 555h4v4h-4zM199 559h4v4h-4zM203 563h4v4h-4zM199 575h4v4h-4zM195 579h4v4h-4zM191 587h4v4h-4zM195 595h8v4h-8zM215 599h8v4h-8zM343 599h16v4h-16zM219 603h4v4h-4zM331 603h32v4h-32zM215 607h4v4h-4zM319 607h44v4h-44zM303 611h20v4h-20zM339 611h24v4h-24zM291 615h12v4h-12zM343 615h16v4h-16zM199 619h4v4h-4zM279 619h12v4h-12zM339 619h16v4h-16zM267 623h8v4h-8zM331 623h16v4h-16zM191 627h4v4h-4zM251 627h8v4h-8zM323 627h16v4h-16zM195 631h4v4h-4zM223 631h12v4h-12zM315 631h12v4h-12zM303 635h16v4h-16zM271 639h32v4h-32zM243 643h8v4h-8zM231 647h4v4h-4zM219 651h4v4h-4zM211 655h4v4h-4zM203 659h4v4h-4zM267 659h32v4h-32zM247 663h4v4h-4zM303 663h4v4h-4zM223 667h4v4h-4zM307 667h4v4h-4zM307 671h4v4h-4zM307 675h4v4h-4zM303 679h4v4h-4zM299 683h4v4h-4zM291 687h4v4h-4zM283 691h4v4h-4zM251 699h4v4h-4zM223 703h4v4h-4zM239 719h4v4h-4zM259 723h60v4h-60zM271 727h28v4h-28zM255 731h16v4h-16zM235 735h4v4h-4zM211 739h4v4h-4zM203 743h4v4h-4zM211 751h4v4h-4zM223 759h4v4h-4zM231 763h4v4h-4zM227 767h4v4h-4zM215 771h8v4h-8zM203 775h4v4h-4zM199 779h4v4h-4zM199 783h4v4h-4zM203 787h4v4h-4zM207 791h4v4h-4zM211 795h4v4h-4zM215 799h4v4h-4zM211 803h4v4h-4zM207 807h4v4h-4zM195 815h4v4h-4zM195 819h4v4h-4zM203 831h4v4h-4zM203 839h4v4h-4zM199 843h4v4h-4zM191 851h4v4h-4zM191 855h4v4h-4zM195 863h4v4h-4zM195 879h4v4h-4zM191 883h4v4h-4zM191 887h4v4h-4zM191 895h4v4h-4zM191 899h4v4h-4zM191 903h4v4h-4zM191 907h4v4h-4zM191 911h4v4h-4zM191 915h4v4h-4zM191 919h4v4h-4z"/><path fill="rgb(98,98,98)" d="M191 551h4v4h-4zM191 555h4v4h-4zM195 559h4v4h-4zM199 563h4v4h-4zM199 567h4v4h-4zM199 571h4v4h-4zM191 583h4v4h-4zM187 591h4v4h-4zM191 595h4v4h-4zM207 599h8v4h-8zM215 603h4v4h-4zM211 607h4v4h-4zM207 611h4v4h-4zM323 611h16v4h-16zM203 615h4v4h-4zM303 615h40v4h-40zM291 619h48v4h-48zM275 623h16v4h-16zM311 623h20v4h-20zM259 627h16v4h-16zM307 627h16v4h-16zM191 631h4v4h-4zM235 631h16v4h-16zM295 631h20v4h-20zM275 635h28v4h-28zM251 639h20v4h-20zM239 643h4v4h-4zM227 647h4v4h-4zM251 663h4v4h-4zM295 663h8v4h-8zM191 667h4v4h-4zM303 667h4v4h-4zM191 671h12v4h-12zM303 671h4v4h-4zM303 675h4v4h-4zM295 683h4v4h-4zM279 691h4v4h-4zM267 695h4v4h-4zM247 699h4v4h-4zM219 703h4v4h-4zM211 707h4v4h-4zM215 711h4v4h-4zM223 715h4v4h-4zM235 719h4v4h-4zM247 723h12v4h-12zM255 727h16v4h-16zM247 731h8v4h-8zM227 735h8v4h-8zM207 739h4v4h-4zM203 747h4v4h-4zM215 755h4v4h-4zM227 763h4v4h-4zM223 767h4v4h-4zM211 771h4v4h-4zM211 799h4v4h-4zM203 807h4v4h-4zM195 811h4v4h-4zM199 827h4v4h-4zM203 835h4v4h-4zM199 839h4v4h-4zM195 843h4v4h-4zM191 847h4v4h-4zM191 859h4v4h-4zM195 867h4v4h-4zM195 871h4v4h-4zM195 875h4v4h-4zM191 879h4v4h-4z"/><path fill="rgb(105,105,105)" d="M187 543h4v4h-4zM187 547h4v4h-4zM187 551h4v4h-4zM191 559h4v4h-4zM195 563h4v4h-4zM195 575h4v4h-4zM187 587h4v4h-4zM199 599h8v4h-8zM211 603h4v4h-4zM191 623h4v4h-4zM291 623h20v4h-20zM275 627h32v4h-32zM251 631h44v4h-44zM243 635h32v4h-32zM243 639h8v4h-8zM235 643h4v4h-4zM215 651h4v4h-4zM195 663h4v4h-4zM255 663h4v4h-4zM287 663h8v4h-8zM227 667h4v4h-4zM299 667h4v4h-4zM203 671h4v4h-4zM299 679h4v4h-4zM287 687h4v4h-4zM263 695h4v4h-4zM243 699h4v4h-4zM215 703h4v4h-4zM231 719h4v4h-4zM243 723h4v4h-4zM247 727h8v4h-8zM239 731h8v4h-8zM223 735h4v4h-4zM199 743h4v4h-4zM207 751h4v4h-4zM219 759h4v4h-4zM223 763h4v4h-4zM219 767h4v4h-4zM207 771h4v4h-4zM199 775h4v4h-4zM195 779h4v4h-4zM199 787h4v4h-4zM203 791h4v4h-4zM207 795h4v4h-4zM207 803h4v4h-4zM199 807h4v4h-4zM191 815h4v4h-4zM195 823h4v4h-4zM199 831h4v4h-4zM199 835h4v4h-4zM187 883h4v4h-4zM187 887h4v4h-4zM187 891h4v4h-4zM187 895h4v4h-4zM187 899h4v4h-4zM187 919h4v4h-4z"/><path fill="rgb(111,111,111)" d="M183 543h4v4h-4zM183 547h4v4h-4zM183 551h4v4h-4zM183 555h8v4h-8zM183 559h8v4h-8zM187 563h8v4h-8zM191 567h8v4h-8zM191 571h8v4h-8zM191 575h4v4h-4zM191 579h4v4h-4zM187 583h4v4h-4zM183 591h4v4h-4zM183 595h8v4h-8zM191 599h8v4h-8zM199 603h12v4h-12zM203 607h8v4h-8zM203 611h4v4h-4zM199 615h4v4h-4zM195 619h4v4h-4zM187 627h4v4h-4zM183 631h8v4h-8zM191 635h52v4h-52zM223 639h20v4h-20zM223 643h12v4h-12zM219 647h8v4h-8zM211 651h4v4h-4zM203 655h8v4h-8zM199 659h4v4h-4zM191 663h4v4h-4zM259 663h28v4h-28zM187 667h4v4h-4zM231 667h12v4h-12zM283 667h16v4h-16zM183 671h8v4h-8zM207 671h8v4h-8zM291 671h12v4h-12zM183 675h16v4h-16zM291 675h12v4h-12zM291 679h8v4h-8zM287 683h8v4h-8zM279 687h8v4h-8zM271 691h8v4h-8zM255 695h8v4h-8zM231 699h12v4h-12zM199 703h16v4h-16zM203 707h8v4h-8zM207 711h8v4h-8zM215 715h8v4h-8zM223 719h8v4h-8zM231 723h12v4h-12zM231 727h16v4h-16zM227 731h12v4h-12zM211 735h12v4h-12zM199 739h8v4h-8zM195 743h4v4h-4zM199 747h4v4h-4zM203 751h4v4h-4zM207 755h8v4h-8zM211 759h8v4h-8zM211 763h12v4h-12zM207 767h12v4h-12zM199 771h8v4h-8zM191 775h8v4h-8zM191 779h4v4h-4zM191 783h8v4h-8zM195 787h4v4h-4zM199 791h4v4h-4zM203 795h4v4h-4zM203 799h8v4h-8zM199 803h8v4h-8zM195 807h4v4h-4zM187 811h8v4h-8zM187 815h4v4h-4zM191 819h4v4h-4zM191 823h4v4h-4zM195 827h4v4h-4zM195 831h4v4h-4zM195 835h4v4h-4zM191 839h8v4h-8zM187 843h8v4h-8zM187 847h4v4h-4zM187 851h4v4h-4zM187 855h4v4h-4zM187 859h4v4h-4zM191 863h4v4h-4zM191 867h4v4h-4zM191 871h4v4h-4zM187 875h8v4h-8zM187 879h4v4h-4zM183 883h4v4h-4zM183 887h4v4h-4zM183 891h4v4h-4zM183 895h4v4h-4zM183 899h4v4h-4zM187 903h4v4h-4zM183 907h8v4h-8zM183 911h8v4h-8zM183 915h8v4h-8zM183 919h4v4h-4z"/><path fill="rgb(118,118,118)" d="M183 563h4v4h-4zM187 567h4v4h-4zM187 571h4v4h-4zM187 575h4v4h-4zM187 579h4v4h-4zM183 583h4v4h-4zM183 587h4v4h-4zM183 599h8v4h-8zM191 603h8v4h-8zM195 607h8v4h-8zM195 611h8v4h-8zM195 615h4v4h-4zM191 619h4v4h-4zM187 623h4v4h-4zM183 627h4v4h-4zM183 635h8v4h-8zM203 639h20v4h-20zM215 643h8v4h-8zM211 647h8v4h-8zM207 651h4v4h-4zM195 659h4v4h-4zM187 663h4v4h-4zM183 667h4v4h-4zM243 667h40v4h-40zM215 671h8v4h-8zM279 671h12v4h-12zM199 675h8v4h-8zM283 675h8v4h-8zM183 679h8v4h-8zM283 679h8v4h-8zM279 683h8v4h-8zM275 687h4v4h-4zM263 691h8v4h-8zM247 695h8v4h-8zM183 699h48v4h-48zM187 703h12v4h-12zM195 707h8v4h-8zM203 711h4v4h-4zM211 715h4v4h-4zM215 719h8v4h-8zM223 723h8v4h-8zM223 727h8v4h-8zM215 731h12v4h-12zM199 735h12v4h-12zM191 739h8v4h-8zM191 743h4v4h-4zM195 747h4v4h-4zM199 751h4v4h-4zM203 755h4v4h-4zM207 759h4v4h-4zM207 763h4v4h-4zM199 767h8v4h-8zM191 771h8v4h-8zM187 775h4v4h-4zM187 779h4v4h-4zM191 787h4v4h-4zM195 791h4v4h-4zM199 795h4v4h-4zM195 799h8v4h-8zM195 803h4v4h-4zM187 807h8v4h-8zM183 815h4v4h-4zM187 819h4v4h-4zM187 823h4v4h-4zM191 827h4v4h-4zM191 831h4v4h-4zM191 835h4v4h-4zM187 839h4v4h-4zM183 843h4v4h-4zM183 847h4v4h-4zM183 851h4v4h-4zM183 855h4v4h-4zM183 859h4v4h-4zM187 863h4v4h-4zM187 867h4v4h-4zM187 871h4v4h-4zM183 875h4v4h-4zM183 879h4v4h-4zM183 903h4v4h-4z"/><path fill="rgb(124,124,124)" d="M183 567h4v4h-4zM183 579h4v4h-4zM187 603h4v4h-4zM191 607h4v4h-4zM191 615h4v4h-4zM187 619h4v4h-4zM183 623h4v4h-4zM195 639h8v4h-8zM207 643h8v4h-8zM207 647h4v4h-4zM203 651h4v4h-4zM199 655h4v4h-4zM191 659h4v4h-4zM223 671h8v4h-8zM275 671h4v4h-4zM279 675h4v4h-4zM191 679h4v4h-4zM279 679h4v4h-4zM183 683h4v4h-4zM275 683h4v4h-4zM271 687h4v4h-4zM259 691h4v4h-4zM183 695h12v4h-12zM243 695h4v4h-4zM183 703h4v4h-4zM191 707h4v4h-4zM199 711h4v4h-4zM207 715h4v4h-4zM219 723h4v4h-4zM219 727h4v4h-4zM211 731h4v4h-4zM195 735h4v4h-4zM187 739h4v4h-4zM187 743h4v4h-4zM191 747h4v4h-4zM195 751h4v4h-4zM199 755h4v4h-4zM203 759h4v4h-4zM203 763h4v4h-4zM195 767h4v4h-4zM187 783h4v4h-4zM191 791h4v4h-4zM195 795h4v4h-4zM191 803h4v4h-4zM183 811h4v4h-4zM183 819h4v4h-4zM187 827h4v4h-4zM187 831h4v4h-4zM187 835h4v4h-4zM183 863h4v4h-4zM183 867h4v4h-4zM183 871h4v4h-4z"/><path fill="rgb(131,131,131)" d="M183 571h4v4h-4zM183 575h4v4h-4zM191 611h4v4h-4zM187 639h8v4h-8zM203 643h4v4h-4zM183 663h4v4h-4zM231 671h4v4h-4zM267 671h8v4h-8zM207 675h4v4h-4zM275 675h4v4h-4zM195 679h4v4h-4zM275 679h4v4h-4zM187 683h4v4h-4zM183 687h4v4h-4zM267 687h4v4h-4zM183 691h8v4h-8zM255 691h4v4h-4zM195 695h4v4h-4zM239 695h4v4h-4zM187 707h4v4h-4zM195 711h4v4h-4zM203 715h4v4h-4zM211 719h4v4h-4zM215 723h4v4h-4zM215 727h4v4h-4zM203 731h8v4h-8zM191 735h4v4h-4zM199 759h4v4h-4zM199 763h4v4h-4zM187 771h4v4h-4zM183 775h4v4h-4zM183 779h4v4h-4zM187 787h4v4h-4zM191 795h4v4h-4zM191 799h4v4h-4zM187 803h4v4h-4zM183 807h4v4h-4zM183 823h4v4h-4zM183 839h4v4h-4z"/><path fill="rgb(137,137,137)" d="M183 603h4v4h-4zM187 607h4v4h-4zM187 615h4v4h-4zM183 639h4v4h-4zM199 643h4v4h-4zM203 647h4v4h-4zM199 651h4v4h-4zM195 655h4v4h-4zM235 671h4v4h-4zM259 671h8v4h-8zM211 675h4v4h-4zM271 675h4v4h-4zM199 679h4v4h-4zM191 683h4v4h-4zM271 683h4v4h-4zM187 687h4v4h-4zM263 687h4v4h-4zM191 691h4v4h-4zM199 695h4v4h-4zM235 695h4v4h-4zM183 707h4v4h-4zM191 711h4v4h-4zM207 719h4v4h-4zM211 723h4v4h-4zM211 727h4v4h-4zM199 731h4v4h-4zM187 735h4v4h-4zM183 739h4v4h-4zM187 747h4v4h-4zM191 751h4v4h-4zM195 755h4v4h-4zM191 767h4v4h-4zM183 783h4v4h-4zM183 835h4v4h-4z"/><path fill="rgb(144,144,144)" d="M187 611h4v4h-4zM187 659h4v4h-4zM239 671h20v4h-20zM271 679h4v4h-4zM267 683h4v4h-4zM191 687h4v4h-4zM251 691h4v4h-4zM203 695h4v4h-4zM231 695h4v4h-4zM199 715h4v4h-4zM207 727h4v4h-4zM183 743h4v4h-4zM195 759h4v4h-4zM195 763h4v4h-4zM183 771h4v4h-4zM187 791h4v4h-4zM187 799h4v4h-4zM183 827h4v4h-4zM183 831h4v4h-4z"/><path fill="rgb(150,150,150)" d="M183 619h4v4h-4zM195 643h4v4h-4zM199 647h4v4h-4zM191 655h4v4h-4zM215 675h4v4h-4zM267 675h4v4h-4zM203 679h4v4h-4zM195 683h4v4h-4zM259 687h4v4h-4zM195 691h4v4h-4zM207 695h8v4h-8zM223 695h8v4h-8zM187 711h4v4h-4zM203 719h4v4h-4zM207 723h4v4h-4zM195 731h4v4h-4zM183 735h4v4h-4zM187 767h4v4h-4zM187 795h4v4h-4zM183 803h4v4h-4z"/><path fill="rgb(157,157,157)" d="M183 607h4v4h-4zM191 643h4v4h-4zM195 651h4v4h-4zM219 675h4v4h-4zM263 675h4v4h-4zM267 679h4v4h-4zM263 683h4v4h-4zM195 687h4v4h-4zM247 691h4v4h-4zM215 695h8v4h-8zM195 715h4v4h-4zM203 727h4v4h-4zM191 731h4v4h-4zM183 747h4v4h-4zM187 751h4v4h-4zM191 755h4v4h-4zM191 763h4v4h-4zM183 787h4v4h-4z"/><path fill="rgb(163,163,163)" d="M187 643h4v4h-4zM195 647h4v4h-4zM259 675h4v4h-4zM199 683h4v4h-4zM199 691h4v4h-4zM199 719h4v4h-4zM203 723h4v4h-4zM199 727h4v4h-4zM191 759h4v4h-4z"/><path fill="rgb(170,170,170)" d="M183 611h4v4h-4zM183 615h4v4h-4zM183 659h4v4h-4zM223 675h4v4h-4zM207 679h4v4h-4zM263 679h4v4h-4zM255 687h4v4h-4zM243 691h4v4h-4zM183 711h4v4h-4zM191 715h4v4h-4zM187 731h4v4h-4zM183 767h4v4h-4zM183 799h4v4h-4z"/><path fill="rgb(177,177,177)" d="M183 643h4v4h-4zM183 647h12v4h-12zM183 651h12v4h-12zM183 655h8v4h-8zM227 675h4v4h-4zM255 675h4v4h-4zM259 683h4v4h-4zM199 687h4v4h-4zM203 691h4v4h-4zM183 715h8v4h-8zM183 719h16v4h-16zM183 723h20v4h-20zM183 727h16v4h-16zM183 731h4v4h-4zM183 751h4v4h-4zM183 755h8v4h-8zM183 759h8v4h-8zM183 763h8v4h-8zM183 791h4v4h-4zM183 795h4v4h-4z"/><path fill="rgb(183,183,183)" d="M251 675h4v4h-4zM259 679h4v4h-4zM203 683h4v4h-4zM251 687h4v4h-4zM239 691h4v4h-4z"/><path fill="rgb(190,190,190)" d="M231 675h20v4h-20zM211 679h4v4h-4zM255 683h4v4h-4zM207 691h4v4h-4zM235 691h4v4h-4z"/><path fill="rgb(196,196,196)" d="M255 679h4v4h-4zM203 687h4v4h-4z"/><path fill="rgb(203,203,203)" d="M215 679h4v4h-4zM247 687h4v4h-4zM211 691h4v4h-4zM231 691h4v4h-4z"/><path fill="rgb(209,209,209)" d="M251 679h4v4h-4zM207 683h4v4h-4zM251 683h4v4h-4zM215 691h4v4h-4zM227 691h4v4h-4z"/><path fill="rgb(216,216,216)" d="M207 687h4v4h-4zM243 687h4v4h-4zM219 691h8v4h-8z"/><path fill="rgb(222,222,222)" d="M219 679h4v4h-4zM247 679h4v4h-4z"/><path fill="rgb(229,229,229)" d="M211 683h4v4h-4zM247 683h4v4h-4z"/><path fill="rgb(235,235,235)" d="M223 679h4v4h-4zM243 679h4v4h-4zM211 687h4v4h-4zM239 687h4v4h-4z"/><path fill="rgb(242,242,242)" d="M227 679h4v4h-4zM235 679h8v4h-8zM243 683h4v4h-4z"/><path fill="rgb(248,248,248)" d="M231 679h4v4h-4zM215 683h4v4h-4zM215 687h4v4h-4zM235 687h4v4h-4z"/><path fill="rgb(255,255,255)" d="M219 683h24v4h-24zM219 687h16v4h-16z"/></g>
<g filter="url(#bl10)"><rect x="-10" y="520" width="139" height="420" fill="rgb(89,89,89)"/></g>
<g filter="url(#bl5)"><ellipse cx="7" cy="596" rx="8.61" ry="49.2" fill="rgb(153,153,153)"/><ellipse cx="35" cy="587" rx="12.3" ry="33.21" transform="rotate(20 35 587)" fill="rgb(153,153,153)"/><ellipse cx="68" cy="594" rx="13.53" ry="34.44" transform="rotate(20 68 594)" fill="rgb(158,158,158)"/><ellipse cx="105" cy="608" rx="12.3" ry="33.21" transform="rotate(12 105 608)" fill="rgb(168,168,168)"/><ellipse cx="124" cy="645" rx="7.38" ry="17.22" fill="rgb(158,158,158)"/><ellipse cx="26" cy="673" rx="13.53" ry="20.91" fill="rgb(128,128,128)"/><ellipse cx="65" cy="678" rx="15.99" ry="22.14" fill="rgb(133,133,133)"/><ellipse cx="105" cy="671" rx="13.53" ry="19.68" fill="rgb(107,107,107)"/><ellipse cx="40" cy="722" rx="14.76" ry="22.14" fill="rgb(128,128,128)"/><ellipse cx="82" cy="720" rx="13.53" ry="19.68" fill="rgb(122,122,122)"/><ellipse cx="119" cy="722" rx="11.07" ry="20.91" fill="rgb(133,133,133)"/><ellipse cx="70" cy="762" rx="14.76" ry="28.29" transform="rotate(-18 70 762)" fill="rgb(158,158,158)"/><ellipse cx="103" cy="766" rx="13.53" ry="25.83" transform="rotate(-15 103 766)" fill="rgb(173,173,173)"/><ellipse cx="37" cy="797" rx="15.99" ry="34.44" transform="rotate(-18 37 797)" fill="rgb(158,158,158)"/><ellipse cx="75" cy="853" rx="17.22" ry="38.13" transform="rotate(-20 75 853)" fill="rgb(163,163,163)"/><ellipse cx="103" cy="836" rx="13.53" ry="25.83" transform="rotate(-15 103 836)" fill="rgb(178,178,178)"/><ellipse cx="40" cy="874" rx="15.99" ry="33.21" transform="rotate(-20 40 874)" fill="rgb(161,161,161)"/><ellipse cx="7" cy="890" rx="8.61" ry="27.06" fill="rgb(168,168,168)"/><ellipse cx="7" cy="808" rx="7.38" ry="36.9" fill="rgb(148,148,148)"/><ellipse cx="124" cy="804" rx="7.38" ry="14.76" fill="rgb(173,173,173)"/><ellipse cx="105" cy="608" rx="6" ry="14" transform="rotate(12 105 608)" fill="rgb(184,184,184)"/><ellipse cx="103" cy="766" rx="6" ry="12" transform="rotate(-15 103 766)" fill="rgb(194,194,194)"/><ellipse cx="103" cy="836" rx="6" ry="12" transform="rotate(-15 103 836)" fill="rgb(199,199,199)"/></g>
<g filter="url(#bl3_5)"><ellipse cx="21" cy="582" rx="5.13" ry="43.605" transform="rotate(10 21 582)" fill="rgb(26,26,26)"/><ellipse cx="54" cy="582" rx="5.13" ry="43.605" transform="rotate(14 54 582)" fill="rgb(26,26,26)"/><ellipse cx="89" cy="598" rx="6.4125" ry="47.4525" transform="rotate(11 89 598)" fill="rgb(20,20,20)"/><ellipse cx="121" cy="605" rx="5.13" ry="20.52" fill="rgb(26,26,26)"/><ellipse cx="26" cy="633" rx="7.695" ry="16.6725" fill="rgb(31,31,31)"/><ellipse cx="107" cy="556" rx="28.215" ry="12.825" fill="rgb(38,38,38)"/><ellipse cx="47" cy="689" rx="7.695" ry="12.825" fill="rgb(51,51,51)"/><ellipse cx="86" cy="685" rx="7.695" ry="12.825" fill="rgb(51,51,51)"/><ellipse cx="63" cy="720" rx="6.4125" ry="14.1075" fill="rgb(36,36,36)"/><ellipse cx="103" cy="713" rx="6.4125" ry="12.825" fill="rgb(38,38,38)"/><ellipse cx="14" cy="708" rx="6.4125" ry="15.39" fill="rgb(64,64,64)"/><ellipse cx="21" cy="785" rx="5.13" ry="51.3" transform="rotate(-8 21 785)" fill="rgb(26,26,26)"/><ellipse cx="54" cy="773" rx="5.13" ry="41.04" transform="rotate(-14 54 773)" fill="rgb(26,26,26)"/><ellipse cx="89" cy="785" rx="5.13" ry="43.605" transform="rotate(-13 89 785)" fill="rgb(26,26,26)"/><ellipse cx="56" cy="855" rx="5.13" ry="53.865" transform="rotate(-15 56 855)" fill="rgb(20,20,20)"/><ellipse cx="98" cy="878" rx="5.13" ry="44.887499999999996" transform="rotate(-15 98 878)" fill="rgb(20,20,20)"/><ellipse cx="23" cy="878" rx="5.13" ry="46.17" transform="rotate(-11 23 878)" fill="rgb(26,26,26)"/><ellipse cx="121" cy="820" rx="5.13" ry="15.39" fill="rgb(26,26,26)"/><ellipse cx="121" cy="878" rx="5.13" ry="17.955" fill="rgb(26,26,26)"/><ellipse cx="82" cy="912" rx="17.955" ry="6.4125" fill="rgb(26,26,26)"/></g>
<g filter="url(#bl3)"></g>
<g filter="url(#bl3)"><ellipse cx="186" cy="776.3" rx="9" ry="8" fill="rgb(184,184,184)"/><ellipse cx="186" cy="806" rx="9" ry="8" fill="rgb(189,189,189)"/><ellipse cx="185" cy="835.4" rx="9" ry="8" fill="rgb(204,204,204)"/><ellipse cx="186" cy="865" rx="9" ry="8" fill="rgb(140,140,140)"/></g>
<g clip-path="url(#sclip3)">
<rect x="128.5" y="547" width="55.30000000000001" height="369" fill="rgb(76,76,76)"/>
<g filter="url(#sbl)"><rect x="125.5" y="543.95" width="20.1" height="4.55" fill="rgb(71,71,71)"/><rect x="145.6" y="543.95" width="21.0" height="4.55" fill="rgb(55,55,55)"/><rect x="166.7" y="543.95" width="20.1" height="4.55" fill="rgb(93,93,93)"/><rect x="125.5" y="548.50" width="20.1" height="4.55" fill="rgb(114,114,114)"/><rect x="145.6" y="548.50" width="21.0" height="4.55" fill="rgb(62,62,62)"/><rect x="166.7" y="548.50" width="20.1" height="4.55" fill="rgb(93,93,93)"/><rect x="125.5" y="553.05" width="20.1" height="4.55" fill="rgb(93,93,93)"/><rect x="145.6" y="553.05" width="21.0" height="4.55" fill="rgb(67,67,67)"/><rect x="166.7" y="553.05" width="20.1" height="4.55" fill="rgb(87,87,87)"/><rect x="125.5" y="557.60" width="20.1" height="4.55" fill="rgb(91,91,91)"/><rect x="145.6" y="557.60" width="21.0" height="4.55" fill="rgb(53,53,53)"/><rect x="166.7" y="557.60" width="20.1" height="4.55" fill="rgb(57,57,57)"/><rect x="125.5" y="562.15" width="20.1" height="4.55" fill="rgb(55,55,55)"/><rect x="145.6" y="562.15" width="21.0" height="4.55" fill="rgb(64,64,64)"/><rect x="166.7" y="562.15" width="20.1" height="4.55" fill="rgb(82,82,82)"/><rect x="125.5" y="566.70" width="20.1" height="4.55" fill="rgb(76,76,76)"/><rect x="145.6" y="566.70" width="21.0" height="4.55" fill="rgb(27,27,27)"/><rect x="166.7" y="566.70" width="20.1" height="4.55" fill="rgb(73,73,73)"/><rect x="125.5" y="571.25" width="20.1" height="4.55" fill="rgb(76,76,76)"/><rect x="145.6" y="571.25" width="21.0" height="4.55" fill="rgb(44,44,44)"/><rect x="166.7" y="571.25" width="20.1" height="4.55" fill="rgb(67,67,67)"/><rect x="125.5" y="575.80" width="20.1" height="4.55" fill="rgb(103,103,103)"/><rect x="145.6" y="575.80" width="21.0" height="4.55" fill="rgb(73,73,73)"/><rect x="166.7" y="575.80" width="20.1" height="4.55" fill="rgb(86,86,86)"/><rect x="125.5" y="580.35" width="20.1" height="4.55" fill="rgb(80,80,80)"/><rect x="145.6" y="580.35" width="21.0" height="4.55" fill="rgb(50,50,50)"/><rect x="166.7" y="580.35" width="20.1" height="4.55" fill="rgb(72,72,72)"/><rect x="125.5" y="584.90" width="20.1" height="4.55" fill="rgb(85,85,85)"/><rect x="145.6" y="584.90" width="21.0" height="4.55" fill="rgb(46,46,46)"/><rect x="166.7" y="584.90" width="20.1" height="4.55" fill="rgb(74,74,74)"/><rect x="125.5" y="589.45" width="20.1" height="4.55" fill="rgb(97,97,97)"/><rect x="145.6" y="589.45" width="21.0" height="4.55" fill="rgb(40,40,40)"/><rect x="166.7" y="589.45" width="20.1" height="4.55" fill="rgb(67,67,67)"/><rect x="125.5" y="594.00" width="20.1" height="4.55" fill="rgb(99,99,99)"/><rect x="145.6" y="594.00" width="21.0" height="4.55" fill="rgb(81,81,81)"/><rect x="166.7" y="594.00" width="20.1" height="4.55" fill="rgb(79,79,79)"/><rect x="125.5" y="598.55" width="20.1" height="4.55" fill="rgb(155,155,155)"/><rect x="145.6" y="598.55" width="21.0" height="4.55" fill="rgb(72,72,72)"/><rect x="166.7" y="598.55" width="20.1" height="4.55" fill="rgb(181,181,181)"/><rect x="125.5" y="603.10" width="20.1" height="4.55" fill="rgb(210,210,210)"/><rect x="145.6" y="603.10" width="21.0" height="4.55" fill="rgb(120,120,120)"/><rect x="166.7" y="603.10" width="20.1" height="4.55" fill="rgb(172,172,172)"/><rect x="125.5" y="607.65" width="20.1" height="4.55" fill="rgb(246,246,246)"/><rect x="145.6" y="607.65" width="21.0" height="4.55" fill="rgb(12,12,12)"/><rect x="166.7" y="607.65" width="20.1" height="4.55" fill="rgb(100,100,100)"/><rect x="125.5" y="612.20" width="20.1" height="4.55" fill="rgb(237,237,237)"/><rect x="145.6" y="612.20" width="21.0" height="4.55" fill="rgb(42,42,42)"/><rect x="166.7" y="612.20" width="20.1" height="4.55" fill="rgb(82,82,82)"/><rect x="125.5" y="616.75" width="20.1" height="4.55" fill="rgb(85,85,85)"/><rect x="145.6" y="616.75" width="21.0" height="4.55" fill="rgb(104,104,104)"/><rect x="166.7" y="616.75" width="20.1" height="4.55" fill="rgb(108,108,108)"/><rect x="125.5" y="621.30" width="20.1" height="4.55" fill="rgb(88,88,88)"/><rect x="145.6" y="621.30" width="21.0" height="4.55" fill="rgb(5,5,5)"/><rect x="166.7" y="621.30" width="20.1" height="4.55" fill="rgb(88,88,88)"/><rect x="125.5" y="625.85" width="20.1" height="4.55" fill="rgb(91,91,91)"/><rect x="145.6" y="625.85" width="21.0" height="4.55" fill="rgb(24,24,24)"/><rect x="166.7" y="625.85" width="20.1" height="4.55" fill="rgb(90,90,90)"/><rect x="125.5" y="630.40" width="20.1" height="4.55" fill="rgb(156,156,156)"/><rect x="145.6" y="630.40" width="21.0" height="4.55" fill="rgb(96,96,96)"/><rect x="166.7" y="630.40" width="20.1" height="4.55" fill="rgb(164,164,164)"/><rect x="125.5" y="634.95" width="20.1" height="4.55" fill="rgb(133,133,133)"/><rect x="145.6" y="634.95" width="21.0" height="4.55" fill="rgb(88,88,88)"/><rect x="166.7" y="634.95" width="20.1" height="4.55" fill="rgb(151,151,151)"/><rect x="125.5" y="639.50" width="20.1" height="4.55" fill="rgb(129,129,129)"/><rect x="145.6" y="639.50" width="21.0" height="4.55" fill="rgb(76,76,76)"/><rect x="166.7" y="639.50" width="20.1" height="4.55" fill="rgb(152,152,152)"/><rect x="125.5" y="644.05" width="20.1" height="4.55" fill="rgb(140,140,140)"/><rect x="145.6" y="644.05" width="21.0" height="4.55" fill="rgb(104,104,104)"/><rect x="166.7" y="644.05" width="20.1" height="4.55" fill="rgb(137,137,137)"/><rect x="125.5" y="648.60" width="20.1" height="4.55" fill="rgb(84,84,84)"/><rect x="145.6" y="648.60" width="21.0" height="4.55" fill="rgb(95,95,95)"/><rect x="166.7" y="648.60" width="20.1" height="4.55" fill="rgb(83,83,83)"/><rect x="125.5" y="653.15" width="20.1" height="4.55" fill="rgb(87,87,87)"/><rect x="145.6" y="653.15" width="21.0" height="4.55" fill="rgb(92,92,92)"/><rect x="166.7" y="653.15" width="20.1" height="4.55" fill="rgb(80,80,80)"/><rect x="125.5" y="657.70" width="20.1" height="4.55" fill="rgb(41,41,41)"/><rect x="145.6" y="657.70" width="21.0" height="4.55" fill="rgb(71,71,71)"/><rect x="166.7" y="657.70" width="20.1" height="4.55" fill="rgb(37,37,37)"/><rect x="125.5" y="662.25" width="20.1" height="4.55" fill="rgb(72,72,72)"/><rect x="145.6" y="662.25" width="21.0" height="4.55" fill="rgb(97,97,97)"/><rect x="166.7" y="662.25" width="20.1" height="4.55" fill="rgb(26,26,26)"/><rect x="125.5" y="666.80" width="20.1" height="4.55" fill="rgb(18,18,18)"/><rect x="145.6" y="666.80" width="21.0" height="4.55" fill="rgb(75,75,75)"/><rect x="166.7" y="666.80" width="20.1" height="4.55" fill="rgb(27,27,27)"/><rect x="125.5" y="671.35" width="20.1" height="4.55" fill="rgb(29,29,29)"/><rect x="145.6" y="671.35" width="21.0" height="4.55" fill="rgb(95,95,95)"/><rect x="166.7" y="671.35" width="20.1" height="4.55" fill="rgb(32,32,32)"/><rect x="125.5" y="675.90" width="20.1" height="4.55" fill="rgb(99,99,99)"/><rect x="145.6" y="675.90" width="21.0" height="4.55" fill="rgb(86,86,86)"/><rect x="166.7" y="675.90" width="20.1" height="4.55" fill="rgb(99,99,99)"/><rect x="125.5" y="680.45" width="20.1" height="4.55" fill="rgb(106,106,106)"/><rect x="145.6" y="680.45" width="21.0" height="4.55" fill="rgb(78,78,78)"/><rect x="166.7" y="680.45" width="20.1" height="4.55" fill="rgb(88,88,88)"/><rect x="125.5" y="685.00" width="20.1" height="4.55" fill="rgb(182,182,182)"/><rect x="145.6" y="685.00" width="21.0" height="4.55" fill="rgb(88,88,88)"/><rect x="166.7" y="685.00" width="20.1" height="4.55" fill="rgb(198,198,198)"/><rect x="125.5" y="689.55" width="20.1" height="4.55" fill="rgb(179,179,179)"/><rect x="145.6" y="689.55" width="21.0" height="4.55" fill="rgb(78,78,78)"/><rect x="166.7" y="689.55" width="20.1" height="4.55" fill="rgb(167,167,167)"/><rect x="125.5" y="694.10" width="20.1" height="4.55" fill="rgb(165,165,165)"/><rect x="145.6" y="694.10" width="21.0" height="4.55" fill="rgb(88,88,88)"/><rect x="166.7" y="694.10" width="20.1" height="4.55" fill="rgb(195,195,195)"/><rect x="125.5" y="698.65" width="20.1" height="4.55" fill="rgb(90,90,90)"/><rect x="145.6" y="698.65" width="21.0" height="4.55" fill="rgb(79,79,79)"/><rect x="166.7" y="698.65" width="20.1" height="4.55" fill="rgb(87,87,87)"/><rect x="125.5" y="703.20" width="20.1" height="4.55" fill="rgb(78,78,78)"/><rect x="145.6" y="703.20" width="21.0" height="4.55" fill="rgb(102,102,102)"/><rect x="166.7" y="703.20" width="20.1" height="4.55" fill="rgb(91,91,91)"/><rect x="125.5" y="707.75" width="20.1" height="4.55" fill="rgb(49,49,49)"/><rect x="145.6" y="707.75" width="21.0" height="4.55" fill="rgb(98,98,98)"/><rect x="166.7" y="707.75" width="20.1" height="4.55" fill="rgb(39,39,39)"/><rect x="125.5" y="712.30" width="20.1" height="4.55" fill="rgb(19,19,19)"/><rect x="145.6" y="712.30" width="21.0" height="4.55" fill="rgb(96,96,96)"/><rect x="166.7" y="712.30" width="20.1" height="4.55" fill="rgb(26,26,26)"/><rect x="125.5" y="716.85" width="20.1" height="4.55" fill="rgb(24,24,24)"/><rect x="145.6" y="716.85" width="21.0" height="4.55" fill="rgb(92,92,92)"/><rect x="166.7" y="716.85" width="20.1" height="4.55" fill="rgb(51,51,51)"/><rect x="125.5" y="721.40" width="20.1" height="4.55" fill="rgb(37,37,37)"/><rect x="145.6" y="721.40" width="21.0" height="4.55" fill="rgb(115,115,115)"/><rect x="166.7" y="721.40" width="20.1" height="4.55" fill="rgb(39,39,39)"/><rect x="125.5" y="725.95" width="20.1" height="4.55" fill="rgb(14,14,14)"/><rect x="145.6" y="725.95" width="21.0" height="4.55" fill="rgb(83,83,83)"/><rect x="166.7" y="725.95" width="20.1" height="4.55" fill="rgb(54,54,54)"/><rect x="125.5" y="730.50" width="20.1" height="4.55" fill="rgb(84,84,84)"/><rect x="145.6" y="730.50" width="21.0" height="4.55" fill="rgb(78,78,78)"/><rect x="166.7" y="730.50" width="20.1" height="4.55" fill="rgb(71,71,71)"/><rect x="125.5" y="735.05" width="20.1" height="4.55" fill="rgb(99,99,99)"/><rect x="145.6" y="735.05" width="21.0" height="4.55" fill="rgb(103,103,103)"/><rect x="166.7" y="735.05" width="20.1" height="4.55" fill="rgb(92,92,92)"/><rect x="125.5" y="739.60" width="20.1" height="4.55" fill="rgb(97,97,97)"/><rect x="145.6" y="739.60" width="21.0" height="4.55" fill="rgb(101,101,101)"/><rect x="166.7" y="739.60" width="20.1" height="4.55" fill="rgb(84,84,84)"/><rect x="125.5" y="744.15" width="20.1" height="4.55" fill="rgb(87,87,87)"/><rect x="145.6" y="744.15" width="21.0" height="4.55" fill="rgb(43,43,43)"/><rect x="166.7" y="744.15" width="20.1" height="4.55" fill="rgb(108,108,108)"/><rect x="125.5" y="748.70" width="20.1" height="4.55" fill="rgb(79,79,79)"/><rect x="145.6" y="748.70" width="21.0" height="4.55" fill="rgb(44,44,44)"/><rect x="166.7" y="748.70" width="20.1" height="4.55" fill="rgb(105,105,105)"/><rect x="125.5" y="753.25" width="20.1" height="4.55" fill="rgb(150,150,150)"/><rect x="145.6" y="753.25" width="21.0" height="4.55" fill="rgb(113,113,113)"/><rect x="166.7" y="753.25" width="20.1" height="4.55" fill="rgb(158,158,158)"/><rect x="125.5" y="757.80" width="20.1" height="4.55" fill="rgb(238,238,238)"/><rect x="145.6" y="757.80" width="21.0" height="4.55" fill="rgb(53,53,53)"/><rect x="166.7" y="757.80" width="20.1" height="4.55" fill="rgb(185,185,185)"/><rect x="125.5" y="762.35" width="20.1" height="4.55" fill="rgb(252,252,252)"/><rect x="145.6" y="762.35" width="21.0" height="4.55" fill="rgb(111,111,111)"/><rect x="166.7" y="762.35" width="20.1" height="4.55" fill="rgb(85,85,85)"/><rect x="125.5" y="766.90" width="20.1" height="4.55" fill="rgb(188,188,188)"/><rect x="145.6" y="766.90" width="21.0" height="4.55" fill="rgb(40,40,40)"/><rect x="166.7" y="766.90" width="20.1" height="4.55" fill="rgb(67,67,67)"/><rect x="125.5" y="771.45" width="20.1" height="4.55" fill="rgb(89,89,89)"/><rect x="145.6" y="771.45" width="21.0" height="4.55" fill="rgb(137,137,137)"/><rect x="166.7" y="771.45" width="20.1" height="4.55" fill="rgb(204,204,204)"/><rect x="125.5" y="776.00" width="20.1" height="4.55" fill="rgb(23,23,23)"/><rect x="145.6" y="776.00" width="21.0" height="4.55" fill="rgb(148,148,148)"/><rect x="166.7" y="776.00" width="20.1" height="4.55" fill="rgb(239,239,239)"/><rect x="125.5" y="780.55" width="20.1" height="4.55" fill="rgb(76,76,76)"/><rect x="145.6" y="780.55" width="21.0" height="4.55" fill="rgb(55,55,55)"/><rect x="166.7" y="780.55" width="20.1" height="4.55" fill="rgb(186,186,186)"/><rect x="125.5" y="785.10" width="20.1" height="4.55" fill="rgb(88,88,88)"/><rect x="145.6" y="785.10" width="21.0" height="4.55" fill="rgb(44,44,44)"/><rect x="166.7" y="785.10" width="20.1" height="4.55" fill="rgb(51,51,51)"/><rect x="125.5" y="789.65" width="20.1" height="4.55" fill="rgb(86,86,86)"/><rect x="145.6" y="789.65" width="21.0" height="4.55" fill="rgb(113,113,113)"/><rect x="166.7" y="789.65" width="20.1" height="4.55" fill="rgb(94,94,94)"/><rect x="125.5" y="794.20" width="20.1" height="4.55" fill="rgb(177,177,177)"/><rect x="145.6" y="794.20" width="21.0" height="4.55" fill="rgb(109,109,109)"/><rect x="166.7" y="794.20" width="20.1" height="4.55" fill="rgb(186,186,186)"/><rect x="125.5" y="798.75" width="20.1" height="4.55" fill="rgb(212,212,212)"/><rect x="145.6" y="798.75" width="21.0" height="4.55" fill="rgb(123,123,123)"/><rect x="166.7" y="798.75" width="20.1" height="4.55" fill="rgb(205,205,205)"/><rect x="125.5" y="803.30" width="20.1" height="4.55" fill="rgb(212,212,212)"/><rect x="145.6" y="803.30" width="21.0" height="4.55" fill="rgb(134,134,134)"/><rect x="166.7" y="803.30" width="20.1" height="4.55" fill="rgb(220,220,220)"/><rect x="125.5" y="807.85" width="20.1" height="4.55" fill="rgb(166,166,166)"/><rect x="145.6" y="807.85" width="21.0" height="4.55" fill="rgb(88,88,88)"/><rect x="166.7" y="807.85" width="20.1" height="4.55" fill="rgb(162,162,162)"/><rect x="125.5" y="812.40" width="20.1" height="4.55" fill="rgb(84,84,84)"/><rect x="145.6" y="812.40" width="21.0" height="4.55" fill="rgb(90,90,90)"/><rect x="166.7" y="812.40" width="20.1" height="4.55" fill="rgb(72,72,72)"/><rect x="125.5" y="816.95" width="20.1" height="4.55" fill="rgb(46,46,46)"/><rect x="145.6" y="816.95" width="21.0" height="4.55" fill="rgb(163,163,163)"/><rect x="166.7" y="816.95" width="20.1" height="4.55" fill="rgb(41,41,41)"/><rect x="125.5" y="821.50" width="20.1" height="4.55" fill="rgb(27,27,27)"/><rect x="145.6" y="821.50" width="21.0" height="4.55" fill="rgb(176,176,176)"/><rect x="166.7" y="821.50" width="20.1" height="4.55" fill="rgb(46,46,46)"/><rect x="125.5" y="826.05" width="20.1" height="4.55" fill="rgb(143,143,143)"/><rect x="145.6" y="826.05" width="21.0" height="4.55" fill="rgb(59,59,59)"/><rect x="166.7" y="826.05" width="20.1" height="4.55" fill="rgb(204,204,204)"/><rect x="125.5" y="830.60" width="20.1" height="4.55" fill="rgb(149,149,149)"/><rect x="145.6" y="830.60" width="21.0" height="4.55" fill="rgb(138,138,138)"/><rect x="166.7" y="830.60" width="20.1" height="4.55" fill="rgb(246,246,246)"/><rect x="125.5" y="835.15" width="20.1" height="4.55" fill="rgb(128,128,128)"/><rect x="145.6" y="835.15" width="21.0" height="4.55" fill="rgb(149,149,149)"/><rect x="166.7" y="835.15" width="20.1" height="4.55" fill="rgb(234,234,234)"/><rect x="125.5" y="839.70" width="20.1" height="4.55" fill="rgb(150,150,150)"/><rect x="145.6" y="839.70" width="21.0" height="4.55" fill="rgb(120,120,120)"/><rect x="166.7" y="839.70" width="20.1" height="4.55" fill="rgb(150,150,150)"/><rect x="125.5" y="844.25" width="20.1" height="4.55" fill="rgb(49,49,49)"/><rect x="145.6" y="844.25" width="21.0" height="4.55" fill="rgb(47,47,47)"/><rect x="166.7" y="844.25" width="20.1" height="4.55" fill="rgb(61,61,61)"/><rect x="125.5" y="848.80" width="20.1" height="4.55" fill="rgb(174,174,174)"/><rect x="145.6" y="848.80" width="21.0" height="4.55" fill="rgb(70,70,70)"/><rect x="166.7" y="848.80" width="20.1" height="4.55" fill="rgb(198,198,198)"/><rect x="125.5" y="853.35" width="20.1" height="4.55" fill="rgb(186,186,186)"/><rect x="145.6" y="853.35" width="21.0" height="4.55" fill="rgb(63,63,63)"/><rect x="166.7" y="853.35" width="20.1" height="4.55" fill="rgb(174,174,174)"/><rect x="125.5" y="857.90" width="20.1" height="4.55" fill="rgb(184,184,184)"/><rect x="145.6" y="857.90" width="21.0" height="4.55" fill="rgb(71,71,71)"/><rect x="166.7" y="857.90" width="20.1" height="4.55" fill="rgb(162,162,162)"/><rect x="125.5" y="862.45" width="20.1" height="4.55" fill="rgb(129,129,129)"/><rect x="145.6" y="862.45" width="21.0" height="4.55" fill="rgb(134,134,134)"/><rect x="166.7" y="862.45" width="20.1" height="4.55" fill="rgb(144,144,144)"/><rect x="125.5" y="867.00" width="20.1" height="4.55" fill="rgb(78,78,78)"/><rect x="145.6" y="867.00" width="21.0" height="4.55" fill="rgb(74,74,74)"/><rect x="166.7" y="867.00" width="20.1" height="4.55" fill="rgb(55,55,55)"/><rect x="125.5" y="871.55" width="20.1" height="4.55" fill="rgb(50,50,50)"/><rect x="145.6" y="871.55" width="21.0" height="4.55" fill="rgb(52,52,52)"/><rect x="166.7" y="871.55" width="20.1" height="4.55" fill="rgb(71,71,71)"/><rect x="125.5" y="876.10" width="20.1" height="4.55" fill="rgb(75,75,75)"/><rect x="145.6" y="876.10" width="21.0" height="4.55" fill="rgb(42,42,42)"/><rect x="166.7" y="876.10" width="20.1" height="4.55" fill="rgb(71,71,71)"/><rect x="125.5" y="880.65" width="20.1" height="4.55" fill="rgb(75,75,75)"/><rect x="145.6" y="880.65" width="21.0" height="4.55" fill="rgb(83,83,83)"/><rect x="166.7" y="880.65" width="20.1" height="4.55" fill="rgb(74,74,74)"/><rect x="125.5" y="885.20" width="20.1" height="4.55" fill="rgb(76,76,76)"/><rect x="145.6" y="885.20" width="21.0" height="4.55" fill="rgb(67,67,67)"/><rect x="166.7" y="885.20" width="20.1" height="4.55" fill="rgb(61,61,61)"/><rect x="125.5" y="889.75" width="20.1" height="4.55" fill="rgb(114,114,114)"/><rect x="145.6" y="889.75" width="21.0" height="4.55" fill="rgb(51,51,51)"/><rect x="166.7" y="889.75" width="20.1" height="4.55" fill="rgb(76,76,76)"/><rect x="125.5" y="894.30" width="20.1" height="4.55" fill="rgb(114,114,114)"/><rect x="145.6" y="894.30" width="21.0" height="4.55" fill="rgb(64,64,64)"/><rect x="166.7" y="894.30" width="20.1" height="4.55" fill="rgb(86,86,86)"/><rect x="125.5" y="898.85" width="20.1" height="4.55" fill="rgb(130,130,130)"/><rect x="145.6" y="898.85" width="21.0" height="4.55" fill="rgb(41,41,41)"/><rect x="166.7" y="898.85" width="20.1" height="4.55" fill="rgb(95,95,95)"/><rect x="125.5" y="903.40" width="20.1" height="4.55" fill="rgb(106,106,106)"/><rect x="145.6" y="903.40" width="21.0" height="4.55" fill="rgb(64,64,64)"/><rect x="166.7" y="903.40" width="20.1" height="4.55" fill="rgb(99,99,99)"/><rect x="125.5" y="907.95" width="20.1" height="4.55" fill="rgb(127,127,127)"/><rect x="145.6" y="907.95" width="21.0" height="4.55" fill="rgb(61,61,61)"/><rect x="166.7" y="907.95" width="20.1" height="4.55" fill="rgb(96,96,96)"/><rect x="125.5" y="912.50" width="20.1" height="4.55" fill="rgb(129,129,129)"/><rect x="145.6" y="912.50" width="21.0" height="4.55" fill="rgb(54,54,54)"/><rect x="166.7" y="912.50" width="20.1" height="4.55" fill="rgb(60,60,60)"/><rect x="125.5" y="917.05" width="20.1" height="4.55" fill="rgb(79,79,79)"/><rect x="145.6" y="917.05" width="21.0" height="4.55" fill="rgb(83,83,83)"/><rect x="166.7" y="917.05" width="20.1" height="4.55" fill="rgb(49,49,49)"/></g>
</g>
</g>
<rect x="128.5" y="547" width="55.30000000000001" height="369" fill="url(#lines3)"/>
<line x1="144.5" y1="547" x2="144.5" y2="916" stroke="#222" stroke-opacity="0.45" stroke-width="0.7"/>
<line x1="147.6" y1="547" x2="147.6" y2="916" stroke="#222" stroke-opacity="0.45" stroke-width="0.7"/>
<line x1="164.4" y1="547" x2="164.4" y2="916" stroke="#222" stroke-opacity="0.45" stroke-width="0.7"/>
<line x1="167.5" y1="547" x2="167.5" y2="916" stroke="#222" stroke-opacity="0.45" stroke-width="0.7"/>
<rect x="128.5" y="547" width="55.30000000000001" height="369" fill="none" stroke="#333" stroke-width="0.9"/>
</g>
<rect x="1.5" y="547.5" width="448" height="368" fill="none" stroke="#10307a" stroke-opacity="0.35" stroke-width="1"/>
<g clip-path="url(#clip4)"><g filter="url(#cmap)">
<rect x="466" y="528" width="488" height="408" fill="rgb(59,59,59)"/>
<g filter="url(#bl2)"><path fill="rgb(20,20,20)" d="M736 736h8v4h-8zM736 776h12v4h-12z"/><path fill="rgb(26,26,26)" d="M732 692h20v4h-20zM720 696h20v4h-20zM728 732h32v4h-32zM720 736h16v4h-16zM744 736h20v4h-20zM716 772h40v4h-40zM724 776h12v4h-12zM748 776h20v4h-20zM744 780h20v4h-20zM720 808h8v4h-8zM716 812h36v4h-36zM724 816h40v4h-40zM736 820h32v4h-32zM752 824h16v4h-16zM716 848h12v4h-12zM716 852h28v4h-28zM720 856h32v4h-32zM728 860h32v4h-32zM732 864h32v4h-32zM740 868h28v4h-28zM748 872h20v4h-20zM720 896h12v4h-12zM720 900h20v4h-20zM720 904h24v4h-24zM724 908h28v4h-28zM724 912h32v4h-32zM728 916h32v4h-32z"/><path fill="rgb(33,33,33)" d="M780 680h12v4h-12zM768 684h16v4h-16zM748 688h24v4h-24zM728 692h4v4h-4zM752 692h8v4h-8zM716 696h4v4h-4zM740 696h8v4h-8zM716 732h12v4h-12zM760 732h20v4h-20zM716 736h4v4h-4zM764 736h16v4h-16zM732 740h24v4h-24zM724 768h16v4h-16zM712 772h4v4h-4zM756 772h16v4h-16zM716 776h8v4h-8zM768 776h16v4h-16zM728 780h16v4h-16zM764 780h24v4h-24zM756 784h20v4h-20zM708 808h12v4h-12zM728 808h20v4h-20zM708 812h8v4h-8zM752 812h12v4h-12zM716 816h8v4h-8zM764 816h12v4h-12zM724 820h12v4h-12zM768 820h16v4h-16zM736 824h16v4h-16zM768 824h20v4h-20zM748 828h44v4h-44zM768 832h16v4h-16zM708 844h20v4h-20zM708 848h8v4h-8zM728 848h20v4h-20zM708 852h8v4h-8zM744 852h16v4h-16zM712 856h8v4h-8zM752 856h16v4h-16zM720 860h8v4h-8zM760 860h12v4h-12zM724 864h8v4h-8zM764 864h16v4h-16zM728 868h12v4h-12zM768 868h16v4h-16zM732 872h16v4h-16zM768 872h20v4h-20zM736 876h56v4h-56zM740 880h52v4h-52zM744 884h48v4h-48zM708 888h84v4h-84zM708 892h72v4h-72zM708 896h12v4h-12zM732 896h32v4h-32zM712 900h8v4h-8zM740 900h24v4h-24zM712 904h8v4h-8zM744 904h24v4h-24zM712 908h12v4h-12zM752 908h20v4h-20zM716 912h8v4h-8zM756 912h16v4h-16zM716 916h12v4h-12zM760 916h16v4h-16z"/><path fill="rgb(39,39,39)" d="M816 656h4v4h-4zM808 660h16v4h-16zM804 664h20v4h-20zM796 668h28v4h-28zM788 672h32v4h-32zM780 676h36v4h-36zM772 680h8v4h-8zM792 680h16v4h-16zM760 684h8v4h-8zM784 684h12v4h-12zM744 688h4v4h-4zM772 688h12v4h-12zM724 692h4v4h-4zM760 692h8v4h-8zM712 696h4v4h-4zM748 696h4v4h-4zM748 728h40v4h-40zM712 732h4v4h-4zM780 732h20v4h-20zM708 736h8v4h-8zM780 736h12v4h-12zM720 740h12v4h-12zM756 740h20v4h-20zM708 768h16v4h-16zM740 768h28v4h-28zM704 772h8v4h-8zM772 772h16v4h-16zM712 776h4v4h-4zM784 776h16v4h-16zM720 780h8v4h-8zM788 780h16v4h-16zM736 784h20v4h-20zM776 784h28v4h-28zM764 788h24v4h-24zM708 804h36v4h-36zM700 808h8v4h-8zM748 808h20v4h-20zM704 812h4v4h-4zM764 812h16v4h-16zM712 816h4v4h-4zM776 816h16v4h-16zM720 820h4v4h-4zM784 820h12v4h-12zM728 824h8v4h-8zM788 824h16v4h-16zM736 828h12v4h-12zM792 828h16v4h-16zM744 832h24v4h-24zM784 832h24v4h-24zM748 836h60v4h-60zM712 840h32v4h-32zM748 840h52v4h-52zM700 844h8v4h-8zM728 844h40v4h-40zM700 848h8v4h-8zM748 848h24v4h-24zM704 852h4v4h-4zM760 852h16v4h-16zM708 856h4v4h-4zM768 856h16v4h-16zM712 860h8v4h-8zM772 860h16v4h-16zM716 864h8v4h-8zM780 864h12v4h-12zM720 868h8v4h-8zM784 868h12v4h-12zM720 872h12v4h-12zM788 872h12v4h-12zM720 876h16v4h-16zM792 876h12v4h-12zM708 880h32v4h-32zM792 880h16v4h-16zM700 884h44v4h-44zM792 884h16v4h-16zM700 888h8v4h-8zM792 888h20v4h-20zM700 892h8v4h-8zM780 892h32v4h-32zM704 896h4v4h-4zM764 896h48v4h-48zM704 900h8v4h-8zM764 900h48v4h-48zM704 904h8v4h-8zM768 904h40v4h-40zM708 908h4v4h-4zM772 908h32v4h-32zM708 912h8v4h-8zM772 912h28v4h-28zM708 916h8v4h-8zM776 916h24v4h-24z"/><path fill="rgb(46,46,46)" d="M936 576h4v4h-4zM932 580h8v4h-8zM928 584h12v4h-12zM924 588h16v4h-16zM916 592h24v4h-24zM912 596h20v4h-20zM904 600h20v4h-20zM896 604h24v4h-24zM888 608h24v4h-24zM880 612h28v4h-28zM872 616h28v4h-28zM864 620h32v4h-32zM856 624h36v4h-36zM848 628h36v4h-36zM840 632h40v4h-40zM816 636h60v4h-60zM808 640h64v4h-64zM804 644h64v4h-64zM704 648h4v4h-4zM800 648h64v4h-64zM800 652h64v4h-64zM800 656h16v4h-16zM820 656h40v4h-40zM796 660h12v4h-12zM824 660h28v4h-28zM792 664h12v4h-12zM824 664h24v4h-24zM788 668h8v4h-8zM824 668h12v4h-12zM784 672h4v4h-4zM820 672h16v4h-16zM776 676h4v4h-4zM816 676h12v4h-12zM764 680h8v4h-8zM808 680h12v4h-12zM756 684h4v4h-4zM796 684h12v4h-12zM740 688h4v4h-4zM784 688h12v4h-12zM720 692h4v4h-4zM768 692h12v4h-12zM708 696h4v4h-4zM752 696h8v4h-8zM716 700h24v4h-24zM936 700h4v4h-4zM932 704h8v4h-8zM928 708h12v4h-12zM928 712h12v4h-12zM728 728h20v4h-20zM788 728h32v4h-32zM708 732h4v4h-4zM800 732h16v4h-16zM704 736h4v4h-4zM792 736h20v4h-20zM716 740h4v4h-4zM776 740h20v4h-20zM744 744h20v4h-20zM704 768h4v4h-4zM768 768h20v4h-20zM700 772h4v4h-4zM788 772h20v4h-20zM708 776h4v4h-4zM800 776h16v4h-16zM716 780h4v4h-4zM804 780h16v4h-16zM728 784h8v4h-8zM804 784h20v4h-20zM744 788h20v4h-20zM788 788h28v4h-28zM760 792h44v4h-44zM700 804h8v4h-8zM744 804h28v4h-28zM696 808h4v4h-4zM768 808h16v4h-16zM700 812h4v4h-4zM780 812h16v4h-16zM708 816h4v4h-4zM792 816h12v4h-12zM712 820h8v4h-8zM796 820h16v4h-16zM720 824h8v4h-8zM804 824h12v4h-12zM724 828h12v4h-12zM808 828h12v4h-12zM728 832h16v4h-16zM808 832h16v4h-16zM720 836h28v4h-28zM808 836h20v4h-20zM700 840h12v4h-12zM744 840h4v4h-4zM800 840h28v4h-28zM696 844h4v4h-4zM768 844h56v4h-56zM696 848h4v4h-4zM772 848h44v4h-44zM700 852h4v4h-4zM776 852h32v4h-32zM704 856h4v4h-4zM784 856h20v4h-20zM708 860h4v4h-4zM788 860h20v4h-20zM712 864h4v4h-4zM792 864h16v4h-16zM712 868h8v4h-8zM796 868h16v4h-16zM712 872h8v4h-8zM800 872h16v4h-16zM704 876h16v4h-16zM804 876h16v4h-16zM696 880h12v4h-12zM808 880h12v4h-12zM696 884h4v4h-4zM808 884h16v4h-16zM696 888h4v4h-4zM812 888h12v4h-12zM696 892h4v4h-4zM812 892h16v4h-16zM700 896h4v4h-4zM812 896h16v4h-16zM700 900h4v4h-4zM812 900h20v4h-20zM700 904h4v4h-4zM808 904h24v4h-24zM700 908h8v4h-8zM804 908h28v4h-28zM700 912h8v4h-8zM800 912h28v4h-28zM700 916h8v4h-8zM800 916h28v4h-28z"/><path fill="rgb(52,52,52)" d="M720 544h20v4h-20zM920 544h20v4h-20zM716 548h20v4h-20zM916 548h24v4h-24zM716 552h16v4h-16zM916 552h24v4h-24zM712 556h12v4h-12zM912 556h28v4h-28zM712 560h4v4h-4zM912 560h28v4h-28zM908 564h32v4h-32zM904 568h36v4h-36zM904 572h36v4h-36zM900 576h36v4h-36zM896 580h36v4h-36zM892 584h36v4h-36zM888 588h36v4h-36zM884 592h32v4h-32zM876 596h36v4h-36zM932 596h8v4h-8zM872 600h32v4h-32zM924 600h16v4h-16zM712 604h12v4h-12zM868 604h28v4h-28zM920 604h20v4h-20zM700 608h16v4h-16zM860 608h28v4h-28zM912 608h28v4h-28zM696 612h8v4h-8zM856 612h24v4h-24zM908 612h32v4h-32zM848 616h24v4h-24zM900 616h40v4h-40zM840 620h24v4h-24zM896 620h44v4h-44zM832 624h24v4h-24zM892 624h48v4h-48zM816 628h32v4h-32zM884 628h56v4h-56zM808 632h32v4h-32zM880 632h60v4h-60zM800 636h16v4h-16zM876 636h64v4h-64zM796 640h12v4h-12zM872 640h68v4h-68zM792 644h12v4h-12zM868 644h72v4h-72zM696 648h8v4h-8zM708 648h8v4h-8zM792 648h8v4h-8zM864 648h76v4h-76zM692 652h12v4h-12zM792 652h8v4h-8zM864 652h76v4h-76zM792 656h8v4h-8zM860 656h80v4h-80zM792 660h4v4h-4zM852 660h88v4h-88zM788 664h4v4h-4zM848 664h92v4h-92zM784 668h4v4h-4zM836 668h104v4h-104zM776 672h8v4h-8zM836 672h104v4h-104zM772 676h4v4h-4zM828 676h28v4h-28zM876 676h64v4h-64zM760 680h4v4h-4zM820 680h12v4h-12zM888 680h52v4h-52zM752 684h4v4h-4zM808 684h16v4h-16zM892 684h48v4h-48zM736 688h4v4h-4zM796 688h12v4h-12zM892 688h48v4h-48zM716 692h4v4h-4zM780 692h8v4h-8zM892 692h48v4h-48zM704 696h4v4h-4zM760 696h8v4h-8zM892 696h48v4h-48zM708 700h8v4h-8zM740 700h8v4h-8zM888 700h48v4h-48zM880 704h52v4h-52zM876 708h52v4h-52zM868 712h60v4h-60zM860 716h80v4h-80zM848 720h92v4h-92zM764 724h176v4h-176zM720 728h8v4h-8zM820 728h120v4h-120zM704 732h4v4h-4zM816 732h20v4h-20zM876 732h64v4h-64zM812 736h16v4h-16zM920 736h20v4h-20zM712 740h4v4h-4zM796 740h20v4h-20zM728 744h16v4h-16zM764 744h32v4h-32zM716 764h68v4h-68zM700 768h4v4h-4zM788 768h20v4h-20zM696 772h4v4h-4zM808 772h16v4h-16zM704 776h4v4h-4zM816 776h16v4h-16zM936 776h4v4h-4zM712 780h4v4h-4zM820 780h16v4h-16zM912 780h28v4h-28zM720 784h8v4h-8zM824 784h116v4h-116zM732 788h12v4h-12zM816 788h20v4h-20zM852 788h88v4h-88zM740 792h20v4h-20zM804 792h28v4h-28zM884 792h56v4h-56zM736 796h84v4h-84zM904 796h36v4h-36zM708 800h100v4h-100zM920 800h20v4h-20zM696 804h4v4h-4zM772 804h32v4h-32zM936 804h4v4h-4zM784 808h24v4h-24zM696 812h4v4h-4zM796 812h16v4h-16zM704 816h4v4h-4zM804 816h16v4h-16zM708 820h4v4h-4zM812 820h12v4h-12zM716 824h4v4h-4zM816 824h16v4h-16zM716 828h8v4h-8zM820 828h16v4h-16zM716 832h12v4h-12zM824 832h20v4h-20zM704 836h16v4h-16zM828 836h28v4h-28zM692 840h8v4h-8zM828 840h44v4h-44zM692 844h4v4h-4zM824 844h64v4h-64zM692 848h4v4h-4zM816 848h92v4h-92zM696 852h4v4h-4zM808 852h120v4h-120zM700 856h4v4h-4zM804 856h28v4h-28zM848 856h92v4h-92zM704 860h4v4h-4zM808 860h24v4h-24zM860 860h80v4h-80zM704 864h8v4h-8zM808 864h20v4h-20zM872 864h68v4h-68zM704 868h8v4h-8zM812 868h16v4h-16zM884 868h56v4h-56zM700 872h12v4h-12zM816 872h16v4h-16zM892 872h48v4h-48zM696 876h8v4h-8zM820 876h12v4h-12zM904 876h36v4h-36zM692 880h4v4h-4zM820 880h16v4h-16zM912 880h28v4h-28zM692 884h4v4h-4zM824 884h12v4h-12zM920 884h20v4h-20zM692 888h4v4h-4zM824 888h20v4h-20zM928 888h12v4h-12zM692 892h4v4h-4zM828 892h24v4h-24zM936 892h4v4h-4zM696 896h4v4h-4zM828 896h32v4h-32zM696 900h4v4h-4zM832 900h40v4h-40zM696 904h4v4h-4zM832 904h48v4h-48zM696 908h4v4h-4zM832 908h56v4h-56zM696 912h4v4h-4zM828 912h72v4h-72zM696 916h4v4h-4zM828 916h80v4h-80z"/><path fill="rgb(59,59,59)" d="M712 544h8v4h-8zM740 544h12v4h-12zM892 544h28v4h-28zM708 548h8v4h-8zM736 548h12v4h-12zM888 548h28v4h-28zM708 552h8v4h-8zM732 552h12v4h-12zM888 552h28v4h-28zM704 556h8v4h-8zM724 556h12v4h-12zM888 556h24v4h-24zM704 560h8v4h-8zM716 560h16v4h-16zM884 560h28v4h-28zM700 564h24v4h-24zM884 564h24v4h-24zM700 568h12v4h-12zM884 568h20v4h-20zM880 572h24v4h-24zM880 576h20v4h-20zM876 580h20v4h-20zM872 584h20v4h-20zM868 588h20v4h-20zM868 592h16v4h-16zM728 596h16v4h-16zM864 596h12v4h-12zM716 600h24v4h-24zM856 600h16v4h-16zM704 604h8v4h-8zM724 604h8v4h-8zM852 604h16v4h-16zM696 608h4v4h-4zM716 608h8v4h-8zM848 608h12v4h-12zM692 612h4v4h-4zM704 612h8v4h-8zM844 612h12v4h-12zM836 616h12v4h-12zM824 620h16v4h-16zM816 624h16v4h-16zM804 628h12v4h-12zM796 632h12v4h-12zM788 636h12v4h-12zM784 640h12v4h-12zM708 644h12v4h-12zM784 644h8v4h-8zM692 648h4v4h-4zM716 648h4v4h-4zM784 648h8v4h-8zM688 652h4v4h-4zM704 652h4v4h-4zM784 652h8v4h-8zM784 656h8v4h-8zM784 660h8v4h-8zM784 664h4v4h-4zM780 668h4v4h-4zM772 672h4v4h-4zM768 676h4v4h-4zM856 676h20v4h-20zM832 680h56v4h-56zM748 684h4v4h-4zM824 684h68v4h-68zM732 688h4v4h-4zM808 688h16v4h-16zM860 688h32v4h-32zM712 692h4v4h-4zM788 692h16v4h-16zM864 692h28v4h-28zM768 696h12v4h-12zM864 696h28v4h-28zM748 700h8v4h-8zM864 700h24v4h-24zM860 704h20v4h-20zM852 708h24v4h-24zM844 712h24v4h-24zM820 716h40v4h-40zM788 720h60v4h-60zM748 724h16v4h-16zM712 728h8v4h-8zM700 732h4v4h-4zM836 732h40v4h-40zM700 736h4v4h-4zM828 736h92v4h-92zM708 740h4v4h-4zM816 740h20v4h-20zM848 740h92v4h-92zM720 744h8v4h-8zM796 744h28v4h-28zM884 744h56v4h-56zM744 748h56v4h-56zM896 748h44v4h-44zM904 752h36v4h-36zM908 756h32v4h-32zM744 760h44v4h-44zM904 760h36v4h-36zM708 764h8v4h-8zM784 764h32v4h-32zM896 764h44v4h-44zM696 768h4v4h-4zM808 768h24v4h-24zM876 768h64v4h-64zM824 772h116v4h-116zM700 776h4v4h-4zM832 776h104v4h-104zM708 780h4v4h-4zM836 780h76v4h-76zM716 784h4v4h-4zM724 788h8v4h-8zM836 788h16v4h-16zM728 792h12v4h-12zM832 792h52v4h-52zM720 796h16v4h-16zM820 796h84v4h-84zM700 800h8v4h-8zM808 800h112v4h-112zM692 804h4v4h-4zM804 804h28v4h-28zM852 804h84v4h-84zM692 808h4v4h-4zM808 808h24v4h-24zM868 808h72v4h-72zM812 812h20v4h-20zM876 812h64v4h-64zM700 816h4v4h-4zM820 816h16v4h-16zM884 816h56v4h-56zM704 820h4v4h-4zM824 820h32v4h-32zM880 820h60v4h-60zM708 824h8v4h-8zM832 824h108v4h-108zM712 828h4v4h-4zM836 828h104v4h-104zM708 832h8v4h-8zM844 832h96v4h-96zM696 836h8v4h-8zM856 836h84v4h-84zM688 840h4v4h-4zM872 840h68v4h-68zM688 844h4v4h-4zM888 844h52v4h-52zM908 848h32v4h-32zM692 852h4v4h-4zM928 852h12v4h-12zM696 856h4v4h-4zM832 856h16v4h-16zM700 860h4v4h-4zM832 860h28v4h-28zM700 864h4v4h-4zM828 864h44v4h-44zM700 868h4v4h-4zM828 868h56v4h-56zM696 872h4v4h-4zM832 872h60v4h-60zM688 876h8v4h-8zM832 876h72v4h-72zM688 880h4v4h-4zM836 880h76v4h-76zM688 884h4v4h-4zM836 884h84v4h-84zM688 888h4v4h-4zM844 888h84v4h-84zM852 892h84v4h-84zM692 896h4v4h-4zM860 896h80v4h-80zM692 900h4v4h-4zM872 900h68v4h-68zM692 904h4v4h-4zM880 904h60v4h-60zM692 908h4v4h-4zM888 908h52v4h-52zM692 912h4v4h-4zM900 912h40v4h-40zM692 916h4v4h-4zM908 916h32v4h-32z"/><path fill="rgb(65,65,65)" d="M704 544h8v4h-8zM752 544h12v4h-12zM864 544h28v4h-28zM704 548h4v4h-4zM748 548h12v4h-12zM864 548h24v4h-24zM700 552h8v4h-8zM744 552h8v4h-8zM860 552h28v4h-28zM700 556h4v4h-4zM736 556h12v4h-12zM860 556h28v4h-28zM696 560h8v4h-8zM732 560h8v4h-8zM860 560h24v4h-24zM696 564h4v4h-4zM724 564h8v4h-8zM860 564h24v4h-24zM692 568h8v4h-8zM712 568h12v4h-12zM860 568h24v4h-24zM692 572h24v4h-24zM860 572h20v4h-20zM860 576h20v4h-20zM860 580h16v4h-16zM752 584h20v4h-20zM856 584h16v4h-16zM740 588h28v4h-28zM856 588h12v4h-12zM728 592h36v4h-36zM852 592h16v4h-16zM716 596h12v4h-12zM744 596h12v4h-12zM848 596h16v4h-16zM708 600h8v4h-8zM740 600h8v4h-8zM848 600h8v4h-8zM700 604h4v4h-4zM732 604h8v4h-8zM844 604h8v4h-8zM692 608h4v4h-4zM724 608h8v4h-8zM836 608h12v4h-12zM688 612h4v4h-4zM712 612h8v4h-8zM828 612h16v4h-16zM688 616h12v4h-12zM820 616h16v4h-16zM812 620h12v4h-12zM804 624h12v4h-12zM796 628h8v4h-8zM788 632h8v4h-8zM780 636h8v4h-8zM772 640h12v4h-12zM704 644h4v4h-4zM720 644h12v4h-12zM772 644h12v4h-12zM720 648h4v4h-4zM776 648h8v4h-8zM684 652h4v4h-4zM708 652h4v4h-4zM780 652h4v4h-4zM780 656h4v4h-4zM780 660h4v4h-4zM780 664h4v4h-4zM776 668h4v4h-4zM764 676h4v4h-4zM756 680h4v4h-4zM744 684h4v4h-4zM728 688h4v4h-4zM824 688h36v4h-36zM804 692h60v4h-60zM700 696h4v4h-4zM780 696h20v4h-20zM844 696h20v4h-20zM704 700h4v4h-4zM756 700h8v4h-8zM844 700h20v4h-20zM840 704h20v4h-20zM832 708h20v4h-20zM816 712h28v4h-28zM796 716h24v4h-24zM768 720h20v4h-20zM736 724h12v4h-12zM708 728h4v4h-4zM696 732h4v4h-4zM696 736h4v4h-4zM704 740h4v4h-4zM836 740h12v4h-12zM716 744h4v4h-4zM824 744h60v4h-60zM732 748h12v4h-12zM800 748h36v4h-36zM844 748h52v4h-52zM748 752h76v4h-76zM856 752h48v4h-48zM748 756h76v4h-76zM856 756h52v4h-52zM724 760h20v4h-20zM788 760h44v4h-44zM848 760h56v4h-56zM700 764h8v4h-8zM816 764h80v4h-80zM692 768h4v4h-4zM832 768h44v4h-44zM692 772h4v4h-4zM696 776h4v4h-4zM704 780h4v4h-4zM712 784h4v4h-4zM716 788h8v4h-8zM720 792h8v4h-8zM708 796h12v4h-12zM696 800h4v4h-4zM688 804h4v4h-4zM832 804h20v4h-20zM688 808h4v4h-4zM832 808h36v4h-36zM692 812h4v4h-4zM832 812h44v4h-44zM696 816h4v4h-4zM836 816h48v4h-48zM700 820h4v4h-4zM856 820h24v4h-24zM704 824h4v4h-4zM704 828h8v4h-8zM700 832h8v4h-8zM692 836h4v4h-4zM688 848h4v4h-4zM692 856h4v4h-4zM696 860h4v4h-4zM696 864h4v4h-4zM692 868h8v4h-8zM688 872h8v4h-8zM684 876h4v4h-4zM684 880h4v4h-4zM684 884h4v4h-4zM688 892h4v4h-4zM688 896h4v4h-4zM688 900h4v4h-4zM688 904h4v4h-4zM688 908h4v4h-4zM688 912h4v4h-4zM688 916h4v4h-4z"/><path fill="rgb(72,72,72)" d="M700 544h4v4h-4zM764 544h16v4h-16zM844 544h20v4h-20zM700 548h4v4h-4zM760 548h12v4h-12zM840 548h24v4h-24zM696 552h4v4h-4zM752 552h16v4h-16zM824 552h36v4h-36zM696 556h4v4h-4zM748 556h12v4h-12zM808 556h52v4h-52zM692 560h4v4h-4zM740 560h16v4h-16zM792 560h68v4h-68zM692 564h4v4h-4zM732 564h16v4h-16zM784 564h76v4h-76zM688 568h4v4h-4zM724 568h16v4h-16zM772 568h88v4h-88zM688 572h4v4h-4zM716 572h12v4h-12zM760 572h76v4h-76zM840 572h20v4h-20zM688 576h24v4h-24zM752 576h76v4h-76zM840 576h20v4h-20zM744 580h68v4h-68zM844 580h16v4h-16zM736 584h16v4h-16zM772 584h28v4h-28zM844 584h12v4h-12zM728 588h12v4h-12zM768 588h20v4h-20zM844 588h12v4h-12zM720 592h8v4h-8zM764 592h12v4h-12zM840 592h12v4h-12zM712 596h4v4h-4zM756 596h12v4h-12zM840 596h8v4h-8zM704 600h4v4h-4zM748 600h8v4h-8zM832 600h16v4h-16zM696 604h4v4h-4zM740 604h8v4h-8zM828 604h16v4h-16zM732 608h4v4h-4zM824 608h12v4h-12zM684 612h4v4h-4zM720 612h4v4h-4zM816 612h12v4h-12zM684 616h4v4h-4zM700 616h8v4h-8zM808 616h12v4h-12zM804 620h8v4h-8zM796 624h8v4h-8zM788 628h8v4h-8zM780 632h8v4h-8zM768 636h12v4h-12zM760 640h12v4h-12zM700 644h4v4h-4zM732 644h8v4h-8zM760 644h12v4h-12zM688 648h4v4h-4zM724 648h8v4h-8zM768 648h8v4h-8zM712 652h4v4h-4zM772 652h8v4h-8zM776 656h4v4h-4zM776 660h4v4h-4zM776 664h4v4h-4zM772 668h4v4h-4zM768 672h4v4h-4zM760 676h4v4h-4zM752 680h4v4h-4zM740 684h4v4h-4zM724 688h4v4h-4zM708 692h4v4h-4zM800 696h44v4h-44zM700 700h4v4h-4zM764 700h28v4h-28zM796 700h48v4h-48zM716 704h28v4h-28zM812 704h28v4h-28zM808 708h24v4h-24zM796 712h20v4h-20zM780 716h16v4h-16zM756 720h12v4h-12zM728 724h8v4h-8zM704 728h4v4h-4zM692 732h4v4h-4zM700 740h4v4h-4zM712 744h4v4h-4zM724 748h8v4h-8zM836 748h8v4h-8zM732 752h16v4h-16zM824 752h32v4h-32zM732 756h16v4h-16zM824 756h32v4h-32zM716 760h8v4h-8zM832 760h16v4h-16zM696 764h4v4h-4zM688 768h4v4h-4zM688 772h4v4h-4zM700 780h4v4h-4zM708 784h4v4h-4zM712 788h4v4h-4zM712 792h8v4h-8zM704 796h4v4h-4zM692 800h4v4h-4zM684 804h4v4h-4zM688 812h4v4h-4zM700 824h4v4h-4zM700 828h4v4h-4zM696 832h4v4h-4zM688 836h4v4h-4zM684 840h4v4h-4zM684 844h4v4h-4zM688 852h4v4h-4zM692 860h4v4h-4zM692 864h4v4h-4zM688 868h4v4h-4zM684 872h4v4h-4zM684 888h4v4h-4zM684 892h4v4h-4zM684 908h4v4h-4zM684 912h4v4h-4zM684 916h4v4h-4z"/><path fill="rgb(78,78,78)" d="M696 544h4v4h-4zM780 544h64v4h-64zM696 548h4v4h-4zM772 548h68v4h-68zM768 552h56v4h-56zM692 556h4v4h-4zM760 556h48v4h-48zM756 560h36v4h-36zM688 564h4v4h-4zM748 564h36v4h-36zM740 568h32v4h-32zM684 572h4v4h-4zM728 572h32v4h-32zM836 572h4v4h-4zM684 576h4v4h-4zM712 576h40v4h-40zM828 576h12v4h-12zM684 580h24v4h-24zM720 580h24v4h-24zM812 580h32v4h-32zM724 584h12v4h-12zM800 584h44v4h-44zM720 588h8v4h-8zM788 588h56v4h-56zM712 592h8v4h-8zM776 592h64v4h-64zM708 596h4v4h-4zM768 596h16v4h-16zM816 596h24v4h-24zM700 600h4v4h-4zM756 600h12v4h-12zM816 600h16v4h-16zM748 604h8v4h-8zM816 604h12v4h-12zM688 608h4v4h-4zM736 608h8v4h-8zM812 608h12v4h-12zM724 612h8v4h-8zM808 612h8v4h-8zM680 616h4v4h-4zM708 616h8v4h-8zM800 616h8v4h-8zM796 620h8v4h-8zM788 624h8v4h-8zM780 628h8v4h-8zM768 632h12v4h-12zM756 636h12v4h-12zM712 640h48v4h-48zM696 644h4v4h-4zM740 644h20v4h-20zM732 648h8v4h-8zM760 648h8v4h-8zM680 652h4v4h-4zM716 652h4v4h-4zM768 652h4v4h-4zM680 656h16v4h-16zM772 656h4v4h-4zM772 660h4v4h-4zM772 664h4v4h-4zM768 668h4v4h-4zM764 672h4v4h-4zM704 692h4v4h-4zM696 696h4v4h-4zM792 700h4v4h-4zM712 704h4v4h-4zM744 704h24v4h-24zM780 704h32v4h-32zM788 708h20v4h-20zM780 712h16v4h-16zM768 716h12v4h-12zM748 720h8v4h-8zM720 724h8v4h-8zM700 728h4v4h-4zM692 736h4v4h-4zM708 744h4v4h-4zM720 748h4v4h-4zM724 752h8v4h-8zM724 756h8v4h-8zM708 760h8v4h-8zM692 764h4v4h-4zM692 776h4v4h-4zM704 784h4v4h-4zM708 788h4v4h-4zM708 792h4v4h-4zM696 796h8v4h-8zM688 800h4v4h-4zM684 808h4v4h-4zM692 816h4v4h-4zM696 820h4v4h-4zM696 824h4v4h-4zM696 828h4v4h-4zM692 832h4v4h-4zM684 836h4v4h-4zM680 840h4v4h-4zM680 844h4v4h-4zM684 848h4v4h-4zM688 856h4v4h-4zM688 860h4v4h-4zM688 864h4v4h-4zM684 868h4v4h-4zM680 872h4v4h-4zM680 876h4v4h-4zM680 880h4v4h-4zM680 884h4v4h-4zM684 896h4v4h-4zM684 900h4v4h-4zM684 904h4v4h-4zM680 912h4v4h-4zM680 916h4v4h-4z"/><path fill="rgb(85,85,85)" d="M692 544h4v4h-4zM692 548h4v4h-4zM692 552h4v4h-4zM688 556h4v4h-4zM688 560h4v4h-4zM684 568h4v4h-4zM680 572h4v4h-4zM680 576h4v4h-4zM680 580h4v4h-4zM708 580h12v4h-12zM708 584h16v4h-16zM712 588h8v4h-8zM708 592h4v4h-4zM704 596h4v4h-4zM784 596h32v4h-32zM768 600h48v4h-48zM692 604h4v4h-4zM756 604h12v4h-12zM800 604h16v4h-16zM744 608h8v4h-8zM800 608h12v4h-12zM680 612h4v4h-4zM732 612h4v4h-4zM796 612h12v4h-12zM676 616h4v4h-4zM716 616h4v4h-4zM792 616h8v4h-8zM684 620h12v4h-12zM788 620h8v4h-8zM780 624h8v4h-8zM772 628h8v4h-8zM760 632h8v4h-8zM736 636h20v4h-20zM708 640h4v4h-4zM740 648h20v4h-20zM720 652h4v4h-4zM760 652h8v4h-8zM696 656h4v4h-4zM768 656h4v4h-4zM768 660h4v4h-4zM768 664h4v4h-4zM756 676h4v4h-4zM748 680h4v4h-4zM736 684h4v4h-4zM720 688h4v4h-4zM692 696h4v4h-4zM696 700h4v4h-4zM708 704h4v4h-4zM768 704h12v4h-12zM768 708h20v4h-20zM768 712h12v4h-12zM756 716h12v4h-12zM736 720h12v4h-12zM716 724h4v4h-4zM696 728h4v4h-4zM688 732h4v4h-4zM688 736h4v4h-4zM696 740h4v4h-4zM704 744h4v4h-4zM712 748h8v4h-8zM720 752h4v4h-4zM716 756h8v4h-8zM704 760h4v4h-4zM688 764h4v4h-4zM684 768h4v4h-4zM684 772h4v4h-4zM696 780h4v4h-4zM700 784h4v4h-4zM704 788h4v4h-4zM700 792h8v4h-8zM692 796h4v4h-4zM684 800h4v4h-4zM680 804h4v4h-4zM684 812h4v4h-4zM688 816h4v4h-4zM692 820h4v4h-4zM692 828h4v4h-4zM688 832h4v4h-4zM680 836h4v4h-4zM684 852h4v4h-4zM684 864h4v4h-4zM676 876h4v4h-4zM680 888h4v4h-4zM680 892h4v4h-4zM680 896h4v4h-4zM680 900h4v4h-4zM680 904h4v4h-4zM680 908h4v4h-4z"/><path fill="rgb(92,92,92)" d="M688 544h4v4h-4zM688 548h4v4h-4zM688 552h4v4h-4zM684 564h4v4h-4zM676 576h4v4h-4zM676 580h4v4h-4zM684 584h24v4h-24zM704 588h8v4h-8zM704 592h4v4h-4zM700 596h4v4h-4zM696 600h4v4h-4zM768 604h32v4h-32zM684 608h4v4h-4zM752 608h16v4h-16zM780 608h20v4h-20zM736 612h12v4h-12zM784 612h12v4h-12zM720 616h8v4h-8zM784 616h8v4h-8zM680 620h4v4h-4zM696 620h8v4h-8zM776 620h12v4h-12zM772 624h8v4h-8zM764 628h8v4h-8zM748 632h12v4h-12zM724 636h12v4h-12zM704 640h4v4h-4zM692 644h4v4h-4zM684 648h4v4h-4zM724 652h4v4h-4zM756 652h4v4h-4zM676 656h4v4h-4zM700 656h4v4h-4zM764 656h4v4h-4zM764 668h4v4h-4zM760 672h4v4h-4zM752 676h4v4h-4zM744 680h4v4h-4zM732 684h4v4h-4zM700 692h4v4h-4zM704 704h4v4h-4zM728 708h40v4h-40zM752 712h16v4h-16zM744 716h12v4h-12zM728 720h8v4h-8zM708 724h8v4h-8zM692 728h4v4h-4zM692 740h4v4h-4zM700 744h4v4h-4zM708 748h4v4h-4zM712 752h8v4h-8zM708 756h8v4h-8zM696 760h8v4h-8zM688 776h4v4h-4zM692 780h4v4h-4zM700 788h4v4h-4zM696 792h4v4h-4zM688 796h4v4h-4zM680 808h4v4h-4zM692 824h4v4h-4zM688 828h4v4h-4zM684 832h4v4h-4zM676 840h4v4h-4zM680 848h4v4h-4zM684 856h4v4h-4zM684 860h4v4h-4zM680 868h4v4h-4zM676 872h4v4h-4zM676 880h4v4h-4zM676 884h4v4h-4zM676 908h4v4h-4zM676 912h4v4h-4zM676 916h4v4h-4z"/><path fill="rgb(98,98,98)" d="M684 544h4v4h-4zM684 548h4v4h-4zM684 552h4v4h-4zM684 556h4v4h-4zM684 560h4v4h-4zM680 568h4v4h-4zM680 584h4v4h-4zM696 588h8v4h-8zM700 592h4v4h-4zM696 596h4v4h-4zM692 600h4v4h-4zM688 604h4v4h-4zM768 608h12v4h-12zM676 612h4v4h-4zM748 612h36v4h-36zM728 616h12v4h-12zM768 616h16v4h-16zM676 620h4v4h-4zM704 620h12v4h-12zM768 620h8v4h-8zM760 624h12v4h-12zM752 628h12v4h-12zM736 632h12v4h-12zM716 636h8v4h-8zM676 652h4v4h-4zM728 652h28v4h-28zM704 656h4v4h-4zM760 656h4v4h-4zM764 660h4v4h-4zM764 664h4v4h-4zM760 668h4v4h-4zM756 672h4v4h-4zM716 688h4v4h-4zM696 692h4v4h-4zM688 696h4v4h-4zM692 700h4v4h-4zM720 708h8v4h-8zM740 712h12v4h-12zM736 716h8v4h-8zM724 720h4v4h-4zM704 724h4v4h-4zM688 728h4v4h-4zM684 732h4v4h-4zM708 752h4v4h-4zM704 756h4v4h-4zM692 760h4v4h-4zM684 764h4v4h-4zM680 768h4v4h-4zM696 784h4v4h-4zM696 788h4v4h-4zM692 792h4v4h-4zM680 800h4v4h-4zM684 816h4v4h-4zM688 820h4v4h-4zM688 824h4v4h-4zM680 832h4v4h-4zM676 836h4v4h-4zM676 844h4v4h-4zM680 852h4v4h-4zM680 864h4v4h-4zM676 868h4v4h-4zM676 888h4v4h-4zM676 892h4v4h-4zM676 896h4v4h-4zM676 900h4v4h-4zM676 904h4v4h-4z"/><path fill="rgb(105,105,105)" d="M680 544h4v4h-4zM680 548h4v4h-4zM680 560h4v4h-4zM680 564h4v4h-4zM676 572h4v4h-4zM672 580h4v4h-4zM676 584h4v4h-4zM688 588h8v4h-8zM696 592h4v4h-4zM680 608h4v4h-4zM672 616h4v4h-4zM740 616h28v4h-28zM672 620h4v4h-4zM716 620h16v4h-16zM752 620h16v4h-16zM748 624h12v4h-12zM740 628h12v4h-12zM724 632h12v4h-12zM712 636h4v4h-4zM700 640h4v4h-4zM672 656h4v4h-4zM708 656h4v4h-4zM756 656h4v4h-4zM760 660h4v4h-4zM760 664h4v4h-4zM748 676h4v4h-4zM740 680h4v4h-4zM728 684h4v4h-4zM712 688h4v4h-4zM700 704h4v4h-4zM712 708h8v4h-8zM728 712h12v4h-12zM728 716h8v4h-8zM716 720h8v4h-8zM700 724h4v4h-4zM684 736h4v4h-4zM688 740h4v4h-4zM696 744h4v4h-4zM704 748h4v4h-4zM704 752h4v4h-4zM700 756h4v4h-4zM680 764h4v4h-4zM680 772h4v4h-4zM684 776h4v4h-4zM688 780h4v4h-4zM692 784h4v4h-4zM684 796h4v4h-4zM676 804h4v4h-4zM676 808h4v4h-4zM680 812h4v4h-4zM684 828h4v4h-4zM676 848h4v4h-4zM680 856h4v4h-4zM680 860h4v4h-4zM672 872h4v4h-4zM672 876h4v4h-4zM672 880h4v4h-4zM672 908h4v4h-4zM672 912h4v4h-4zM672 916h4v4h-4z"/><path fill="rgb(111,111,111)" d="M672 544h8v4h-8zM672 548h8v4h-8zM676 552h8v4h-8zM676 556h8v4h-8zM676 560h4v4h-4zM676 564h4v4h-4zM676 568h4v4h-4zM672 572h4v4h-4zM672 576h4v4h-4zM668 580h4v4h-4zM668 584h8v4h-8zM676 588h12v4h-12zM684 592h12v4h-12zM688 596h8v4h-8zM684 600h8v4h-8zM680 604h8v4h-8zM676 608h4v4h-4zM672 612h4v4h-4zM668 616h4v4h-4zM668 620h4v4h-4zM732 620h20v4h-20zM676 624h72v4h-72zM708 628h32v4h-32zM708 632h16v4h-16zM700 636h12v4h-12zM692 640h8v4h-8zM688 644h4v4h-4zM680 648h4v4h-4zM672 652h4v4h-4zM668 656h4v4h-4zM712 656h44v4h-44zM668 660h24v4h-24zM748 660h12v4h-12zM752 664h8v4h-8zM752 668h8v4h-8zM748 672h8v4h-8zM744 676h4v4h-4zM736 680h4v4h-4zM724 684h4v4h-4zM704 688h8v4h-8zM684 692h12v4h-12zM684 696h4v4h-4zM688 700h4v4h-4zM692 704h8v4h-8zM704 708h8v4h-8zM712 712h16v4h-16zM712 716h16v4h-16zM704 720h12v4h-12zM692 724h8v4h-8zM680 728h8v4h-8zM676 732h8v4h-8zM680 736h4v4h-4zM684 740h4v4h-4zM692 744h4v4h-4zM696 748h8v4h-8zM696 752h8v4h-8zM692 756h8v4h-8zM684 760h8v4h-8zM676 764h4v4h-4zM676 768h4v4h-4zM676 772h4v4h-4zM680 776h4v4h-4zM684 780h4v4h-4zM688 784h4v4h-4zM688 788h8v4h-8zM684 792h8v4h-8zM676 796h8v4h-8zM672 800h8v4h-8zM672 804h4v4h-4zM672 808h4v4h-4zM676 812h4v4h-4zM680 816h4v4h-4zM680 820h8v4h-8zM680 824h8v4h-8zM676 828h8v4h-8zM672 832h8v4h-8zM672 836h4v4h-4zM672 840h4v4h-4zM672 844h4v4h-4zM672 848h4v4h-4zM676 852h4v4h-4zM676 856h4v4h-4zM676 860h4v4h-4zM672 864h8v4h-8zM672 868h4v4h-4zM668 872h4v4h-4zM668 876h4v4h-4zM668 880h4v4h-4zM672 884h4v4h-4zM672 888h4v4h-4zM672 892h4v4h-4zM672 896h4v4h-4zM672 900h4v4h-4zM668 904h8v4h-8zM668 908h4v4h-4zM668 912h4v4h-4zM668 916h4v4h-4z"/><path fill="rgb(118,118,118)" d="M668 544h4v4h-4zM668 548h4v4h-4zM668 552h8v4h-8zM672 556h4v4h-4zM672 560h4v4h-4zM672 564h4v4h-4zM672 568h4v4h-4zM668 572h4v4h-4zM668 576h4v4h-4zM668 588h8v4h-8zM676 592h8v4h-8zM680 596h8v4h-8zM680 600h4v4h-4zM676 604h4v4h-4zM668 612h4v4h-4zM668 624h8v4h-8zM688 628h20v4h-20zM696 632h12v4h-12zM696 636h4v4h-4zM688 640h4v4h-4zM684 644h4v4h-4zM676 648h4v4h-4zM692 660h12v4h-12zM740 660h8v4h-8zM744 664h8v4h-8zM748 668h4v4h-4zM744 672h4v4h-4zM740 676h4v4h-4zM728 680h8v4h-8zM716 684h8v4h-8zM696 688h8v4h-8zM676 692h8v4h-8zM676 696h8v4h-8zM680 700h8v4h-8zM688 704h4v4h-4zM696 708h8v4h-8zM704 712h8v4h-8zM704 716h8v4h-8zM696 720h8v4h-8zM684 724h8v4h-8zM676 728h4v4h-4zM672 732h4v4h-4zM676 736h4v4h-4zM680 740h4v4h-4zM684 744h8v4h-8zM688 748h8v4h-8zM688 752h8v4h-8zM684 756h8v4h-8zM676 760h8v4h-8zM672 764h4v4h-4zM672 768h4v4h-4zM672 772h4v4h-4zM676 776h4v4h-4zM680 780h4v4h-4zM680 784h8v4h-8zM680 788h8v4h-8zM676 792h8v4h-8zM672 796h4v4h-4zM668 800h4v4h-4zM668 804h4v4h-4zM672 812h4v4h-4zM676 816h4v4h-4zM676 820h4v4h-4zM676 824h4v4h-4zM672 828h4v4h-4zM668 832h4v4h-4zM668 836h4v4h-4zM668 840h4v4h-4zM668 844h4v4h-4zM672 852h4v4h-4zM672 856h4v4h-4zM672 860h4v4h-4zM668 864h4v4h-4zM668 868h4v4h-4zM668 884h4v4h-4zM668 888h4v4h-4zM668 892h4v4h-4zM668 896h4v4h-4zM668 900h4v4h-4z"/><path fill="rgb(124,124,124)" d="M668 556h4v4h-4zM668 560h4v4h-4zM668 568h4v4h-4zM672 592h4v4h-4zM676 596h4v4h-4zM676 600h4v4h-4zM672 608h4v4h-4zM680 628h8v4h-8zM692 632h4v4h-4zM692 636h4v4h-4zM680 644h4v4h-4zM668 652h4v4h-4zM704 660h8v4h-8zM732 660h8v4h-8zM668 664h8v4h-8zM740 664h4v4h-4zM744 668h4v4h-4zM740 672h4v4h-4zM736 676h4v4h-4zM712 684h4v4h-4zM692 688h4v4h-4zM672 692h4v4h-4zM684 704h4v4h-4zM692 708h4v4h-4zM700 712h4v4h-4zM700 716h4v4h-4zM692 720h4v4h-4zM680 724h4v4h-4zM672 728h4v4h-4zM684 752h4v4h-4zM680 756h4v4h-4zM668 764h4v4h-4zM668 768h4v4h-4zM676 780h4v4h-4zM668 808h4v4h-4zM672 816h4v4h-4zM672 824h4v4h-4zM668 848h4v4h-4zM668 852h4v4h-4zM668 856h4v4h-4zM668 860h4v4h-4z"/><path fill="rgb(131,131,131)" d="M668 564h4v4h-4zM668 592h4v4h-4zM676 628h4v4h-4zM688 632h4v4h-4zM688 636h4v4h-4zM684 640h4v4h-4zM672 648h4v4h-4zM712 660h20v4h-20zM676 664h8v4h-8zM736 664h4v4h-4zM740 668h4v4h-4zM732 676h4v4h-4zM724 680h4v4h-4zM684 688h8v4h-8zM672 696h4v4h-4zM676 700h4v4h-4zM696 712h4v4h-4zM696 716h4v4h-4zM688 720h4v4h-4zM676 724h4v4h-4zM668 732h4v4h-4zM672 736h4v4h-4zM676 740h4v4h-4zM680 744h4v4h-4zM684 748h4v4h-4zM672 760h4v4h-4zM668 772h4v4h-4zM672 776h4v4h-4zM676 784h4v4h-4zM676 788h4v4h-4zM672 792h4v4h-4zM668 796h4v4h-4zM668 812h4v4h-4zM672 820h4v4h-4zM668 828h4v4h-4z"/><path fill="rgb(137,137,137)" d="M672 596h4v4h-4zM672 604h4v4h-4zM668 608h4v4h-4zM672 628h4v4h-4zM684 632h4v4h-4zM676 644h4v4h-4zM684 664h4v4h-4zM736 668h4v4h-4zM736 672h4v4h-4zM708 684h4v4h-4zM676 688h8v4h-8zM668 692h4v4h-4zM680 704h4v4h-4zM688 708h4v4h-4zM692 712h4v4h-4zM692 716h4v4h-4zM684 720h4v4h-4zM668 728h4v4h-4zM680 748h4v4h-4zM680 752h4v4h-4zM676 756h4v4h-4z"/><path fill="rgb(144,144,144)" d="M672 600h4v4h-4zM668 628h4v4h-4zM680 632h4v4h-4zM684 636h4v4h-4zM680 640h4v4h-4zM732 664h4v4h-4zM728 676h4v4h-4zM720 680h4v4h-4zM704 684h4v4h-4zM672 688h4v4h-4zM668 696h4v4h-4zM672 700h4v4h-4zM672 724h4v4h-4zM668 760h4v4h-4zM672 780h4v4h-4zM672 788h4v4h-4zM668 792h4v4h-4zM668 816h4v4h-4zM668 824h4v4h-4z"/><path fill="rgb(150,150,150)" d="M668 596h4v4h-4zM668 648h4v4h-4zM688 664h4v4h-4zM728 664h4v4h-4zM732 668h4v4h-4zM732 672h4v4h-4zM668 688h4v4h-4zM684 708h4v4h-4zM688 712h4v4h-4zM688 716h4v4h-4zM680 720h4v4h-4zM668 736h4v4h-4zM672 740h4v4h-4zM676 744h4v4h-4zM672 756h4v4h-4zM668 776h4v4h-4zM672 784h4v4h-4zM668 820h4v4h-4z"/><path fill="rgb(157,157,157)" d="M676 632h4v4h-4zM680 636h4v4h-4zM692 664h4v4h-4zM724 664h4v4h-4zM668 668h4v4h-4zM716 680h4v4h-4zM700 684h4v4h-4zM676 704h4v4h-4zM676 748h4v4h-4zM676 752h4v4h-4z"/><path fill="rgb(163,163,163)" d="M668 600h4v4h-4zM668 604h4v4h-4zM676 640h4v4h-4zM672 644h4v4h-4zM696 664h4v4h-4zM720 664h4v4h-4zM672 668h4v4h-4zM728 668h4v4h-4zM728 672h4v4h-4zM724 676h4v4h-4zM696 684h4v4h-4zM684 716h4v4h-4zM676 720h4v4h-4zM668 724h4v4h-4z"/><path fill="rgb(170,170,170)" d="M672 632h4v4h-4zM700 664h4v4h-4zM716 664h4v4h-4zM712 680h4v4h-4zM668 700h4v4h-4zM680 708h4v4h-4zM684 712h4v4h-4zM672 744h4v4h-4zM668 780h4v4h-4zM668 788h4v4h-4z"/><path fill="rgb(177,177,177)" d="M668 632h4v4h-4zM668 636h12v4h-12zM668 640h8v4h-8zM668 644h4v4h-4zM704 664h12v4h-12zM676 668h4v4h-4zM720 676h4v4h-4zM668 684h8v4h-8zM688 684h8v4h-8zM668 704h8v4h-8zM668 708h12v4h-12zM668 712h16v4h-16zM668 716h16v4h-16zM668 720h8v4h-8zM668 740h4v4h-4zM668 744h4v4h-4zM668 748h8v4h-8zM668 752h8v4h-8zM668 756h4v4h-4zM668 784h4v4h-4z"/><path fill="rgb(183,183,183)" d="M724 668h4v4h-4zM724 672h4v4h-4zM676 684h12v4h-12z"/><path fill="rgb(190,190,190)" d="M680 668h4v4h-4zM708 680h4v4h-4z"/><path fill="rgb(196,196,196)" d="M720 668h4v4h-4z"/><path fill="rgb(203,203,203)" d="M684 668h4v4h-4zM668 672h4v4h-4zM720 672h4v4h-4zM716 676h4v4h-4z"/><path fill="rgb(209,209,209)" d="M716 668h4v4h-4zM668 680h4v4h-4zM704 680h4v4h-4z"/><path fill="rgb(216,216,216)" d="M688 668h4v4h-4zM672 672h4v4h-4z"/><path fill="rgb(222,222,222)" d="M712 668h4v4h-4zM716 672h4v4h-4zM668 676h4v4h-4zM712 676h4v4h-4zM672 680h4v4h-4zM700 680h4v4h-4z"/><path fill="rgb(229,229,229)" d="M692 668h4v4h-4zM708 668h4v4h-4zM676 672h4v4h-4zM676 680h4v4h-4z"/><path fill="rgb(235,235,235)" d="M696 668h12v4h-12zM672 676h4v4h-4zM680 680h4v4h-4zM696 680h4v4h-4z"/><path fill="rgb(242,242,242)" d="M712 672h4v4h-4zM708 676h4v4h-4zM684 680h4v4h-4zM692 680h4v4h-4z"/><path fill="rgb(248,248,248)" d="M680 672h4v4h-4zM676 676h4v4h-4zM688 680h4v4h-4z"/><path fill="rgb(255,255,255)" d="M684 672h28v4h-28zM680 676h28v4h-28z"/></g>
<g filter="url(#bl10)"><rect x="470" y="520" width="143" height="420" fill="rgb(89,89,89)"/></g>
<g filter="url(#bl5)"><ellipse cx="491" cy="595" rx="8.61" ry="55.35" fill="rgb(133,133,133)"/><ellipse cx="517" cy="594" rx="13.53" ry="38.13" transform="rotate(20 517 594)" fill="rgb(143,143,143)"/><ellipse cx="552" cy="589" rx="14.76" ry="33.21" transform="rotate(22 552 589)" fill="rgb(158,158,158)"/><ellipse cx="587" cy="601" rx="14.76" ry="33.21" transform="rotate(22 587 601)" fill="rgb(158,158,158)"/><ellipse cx="608" cy="633" rx="6.15" ry="14.76" fill="rgb(184,184,184)"/><ellipse cx="507" cy="661" rx="15.99" ry="20.91" fill="rgb(115,115,115)"/><ellipse cx="545" cy="666" rx="14.76" ry="20.91" fill="rgb(115,115,115)"/><ellipse cx="521" cy="708" rx="13.53" ry="20.91" fill="rgb(115,115,115)"/><ellipse cx="563" cy="703" rx="13.53" ry="20.91" fill="rgb(128,128,128)"/><ellipse cx="605" cy="713" rx="8.61" ry="24.6" fill="rgb(128,128,128)"/><ellipse cx="549" cy="750" rx="14.76" ry="33.21" transform="rotate(-18 549 750)" fill="rgb(143,143,143)"/><ellipse cx="584" cy="755" rx="13.53" ry="25.83" transform="rotate(-15 584 755)" fill="rgb(168,168,168)"/><ellipse cx="519" cy="787" rx="14.76" ry="34.44" transform="rotate(-18 519 787)" fill="rgb(143,143,143)"/><ellipse cx="554" cy="813" rx="15.99" ry="38.13" transform="rotate(-18 554 813)" fill="rgb(153,153,153)"/><ellipse cx="587" cy="825" rx="13.53" ry="25.83" transform="rotate(-15 587 825)" fill="rgb(173,173,173)"/><ellipse cx="524" cy="867" rx="15.99" ry="35.67" transform="rotate(-20 524 867)" fill="rgb(153,153,153)"/><ellipse cx="561" cy="885" rx="15.99" ry="31.98" transform="rotate(-20 561 885)" fill="rgb(148,148,148)"/><ellipse cx="491" cy="878" rx="8.61" ry="36.9" fill="rgb(168,168,168)"/><ellipse cx="491" cy="773" rx="7.38" ry="46.74" fill="rgb(128,128,128)"/><ellipse cx="608" cy="790" rx="6.15" ry="14.76" fill="rgb(184,184,184)"/><ellipse cx="608" cy="841" rx="6.15" ry="14.76" fill="rgb(184,184,184)"/><ellipse cx="601" cy="890" rx="12.3" ry="17.22" fill="rgb(107,107,107)"/><ellipse cx="584" cy="755" rx="6" ry="12" transform="rotate(-15 584 755)" fill="rgb(189,189,189)"/><ellipse cx="587" cy="825" rx="6" ry="12" transform="rotate(-15 587 825)" fill="rgb(194,194,194)"/></g>
<g filter="url(#bl3_5)"><ellipse cx="503" cy="575" rx="5.13" ry="38.475" transform="rotate(11 503 575)" fill="rgb(31,31,31)"/><ellipse cx="535" cy="580" rx="5.13" ry="43.605" transform="rotate(15 535 580)" fill="rgb(26,26,26)"/><ellipse cx="570" cy="587" rx="5.13" ry="44.887499999999996" transform="rotate(15 570 587)" fill="rgb(26,26,26)"/><ellipse cx="601" cy="598" rx="6.4125" ry="28.215" transform="rotate(10 601 598)" fill="rgb(26,26,26)"/><ellipse cx="596" cy="554" rx="25.65" ry="12.825" fill="rgb(38,38,38)"/><ellipse cx="507" cy="624" rx="7.695" ry="12.825" fill="rgb(51,51,51)"/><ellipse cx="528" cy="685" rx="7.695" ry="12.825" fill="rgb(31,31,31)"/><ellipse cx="570" cy="671" rx="7.695" ry="12.825" fill="rgb(31,31,31)"/><ellipse cx="498" cy="703" rx="6.4125" ry="12.825" fill="rgb(51,51,51)"/><ellipse cx="540" cy="703" rx="6.4125" ry="12.825" fill="rgb(31,31,31)"/><ellipse cx="582" cy="708" rx="6.4125" ry="14.1075" fill="rgb(31,31,31)"/><ellipse cx="605" cy="685" rx="5.13" ry="12.825" fill="rgb(38,38,38)"/><ellipse cx="531" cy="745" rx="5.13" ry="33.345" transform="rotate(-15 531 745)" fill="rgb(26,26,26)"/><ellipse cx="568" cy="750" rx="5.13" ry="34.6275" transform="rotate(-15 568 750)" fill="rgb(26,26,26)"/><ellipse cx="601" cy="762" rx="6.4125" ry="26.9325" transform="rotate(-25 601 762)" fill="rgb(26,26,26)"/><ellipse cx="503" cy="797" rx="5.13" ry="46.17" transform="rotate(-12 503 797)" fill="rgb(26,26,26)"/><ellipse cx="535" cy="804" rx="5.13" ry="42.3225" transform="rotate(-17 535 804)" fill="rgb(26,26,26)"/><ellipse cx="570" cy="815" rx="5.13" ry="41.04" transform="rotate(-15 570 815)" fill="rgb(26,26,26)"/><ellipse cx="603" cy="815" rx="5.13" ry="12.825" fill="rgb(26,26,26)"/><ellipse cx="507" cy="878" rx="5.13" ry="44.887499999999996" transform="rotate(-13 507 878)" fill="rgb(26,26,26)"/><ellipse cx="542" cy="878" rx="5.13" ry="42.3225" transform="rotate(-16 542 878)" fill="rgb(26,26,26)"/><ellipse cx="582" cy="878" rx="5.13" ry="42.3225" transform="rotate(-16 582 878)" fill="rgb(26,26,26)"/><ellipse cx="519" cy="913" rx="17.955" ry="6.4125" fill="rgb(26,26,26)"/></g>
<g filter="url(#bl3)"></g>
<g filter="url(#bl3)"><ellipse cx="670" cy="763" rx="9" ry="8" fill="rgb(224,224,224)"/><ellipse cx="672" cy="792.4" rx="9" ry="8" fill="rgb(191,191,191)"/><ellipse cx="669" cy="819.3" rx="9" ry="8" fill="rgb(224,224,224)"/><ellipse cx="671" cy="848.8" rx="9" ry="8" fill="rgb(153,153,153)"/></g>
<g clip-path="url(#sclip4)">
<rect x="612.5" y="548" width="56.0" height="368" fill="rgb(76,76,76)"/>
<g filter="url(#sbl)"><rect x="609.5" y="544.95" width="20.4" height="4.55" fill="rgb(82,82,82)"/><rect x="629.9" y="544.95" width="21.3" height="4.55" fill="rgb(77,77,77)"/><rect x="651.1" y="544.95" width="20.4" height="4.55" fill="rgb(63,63,63)"/><rect x="609.5" y="549.50" width="20.4" height="4.55" fill="rgb(100,100,100)"/><rect x="629.9" y="549.50" width="21.3" height="4.55" fill="rgb(55,55,55)"/><rect x="651.1" y="549.50" width="20.4" height="4.55" fill="rgb(81,81,81)"/><rect x="609.5" y="554.05" width="20.4" height="4.55" fill="rgb(91,91,91)"/><rect x="629.9" y="554.05" width="21.3" height="4.55" fill="rgb(70,70,70)"/><rect x="651.1" y="554.05" width="20.4" height="4.55" fill="rgb(88,88,88)"/><rect x="609.5" y="558.60" width="20.4" height="4.55" fill="rgb(104,104,104)"/><rect x="629.9" y="558.60" width="21.3" height="4.55" fill="rgb(48,48,48)"/><rect x="651.1" y="558.60" width="20.4" height="4.55" fill="rgb(71,71,71)"/><rect x="609.5" y="563.15" width="20.4" height="4.55" fill="rgb(77,77,77)"/><rect x="629.9" y="563.15" width="21.3" height="4.55" fill="rgb(48,48,48)"/><rect x="651.1" y="563.15" width="20.4" height="4.55" fill="rgb(44,44,44)"/><rect x="609.5" y="567.70" width="20.4" height="4.55" fill="rgb(109,109,109)"/><rect x="629.9" y="567.70" width="21.3" height="4.55" fill="rgb(53,53,53)"/><rect x="651.1" y="567.70" width="20.4" height="4.55" fill="rgb(78,78,78)"/><rect x="609.5" y="572.25" width="20.4" height="4.55" fill="rgb(100,100,100)"/><rect x="629.9" y="572.25" width="21.3" height="4.55" fill="rgb(47,47,47)"/><rect x="651.1" y="572.25" width="20.4" height="4.55" fill="rgb(80,80,80)"/><rect x="609.5" y="576.80" width="20.4" height="4.55" fill="rgb(99,99,99)"/><rect x="629.9" y="576.80" width="21.3" height="4.55" fill="rgb(32,32,32)"/><rect x="651.1" y="576.80" width="20.4" height="4.55" fill="rgb(98,98,98)"/><rect x="609.5" y="581.35" width="20.4" height="4.55" fill="rgb(91,91,91)"/><rect x="629.9" y="581.35" width="21.3" height="4.55" fill="rgb(59,59,59)"/><rect x="651.1" y="581.35" width="20.4" height="4.55" fill="rgb(64,64,64)"/><rect x="609.5" y="585.90" width="20.4" height="4.55" fill="rgb(146,146,146)"/><rect x="629.9" y="585.90" width="21.3" height="4.55" fill="rgb(174,174,174)"/><rect x="651.1" y="585.90" width="20.4" height="4.55" fill="rgb(172,172,172)"/><rect x="609.5" y="590.45" width="20.4" height="4.55" fill="rgb(148,148,148)"/><rect x="629.9" y="590.45" width="21.3" height="4.55" fill="rgb(159,159,159)"/><rect x="651.1" y="590.45" width="20.4" height="4.55" fill="rgb(196,196,196)"/><rect x="609.5" y="595.00" width="20.4" height="4.55" fill="rgb(136,136,136)"/><rect x="629.9" y="595.00" width="21.3" height="4.55" fill="rgb(146,146,146)"/><rect x="651.1" y="595.00" width="20.4" height="4.55" fill="rgb(220,220,220)"/><rect x="609.5" y="599.55" width="20.4" height="4.55" fill="rgb(190,190,190)"/><rect x="629.9" y="599.55" width="21.3" height="4.55" fill="rgb(90,90,90)"/><rect x="651.1" y="599.55" width="20.4" height="4.55" fill="rgb(195,195,195)"/><rect x="609.5" y="604.10" width="20.4" height="4.55" fill="rgb(71,71,71)"/><rect x="629.9" y="604.10" width="21.3" height="4.55" fill="rgb(139,139,139)"/><rect x="651.1" y="604.10" width="20.4" height="4.55" fill="rgb(44,44,44)"/><rect x="609.5" y="608.65" width="20.4" height="4.55" fill="rgb(51,51,51)"/><rect x="629.9" y="608.65" width="21.3" height="4.55" fill="rgb(50,50,50)"/><rect x="651.1" y="608.65" width="20.4" height="4.55" fill="rgb(66,66,66)"/><rect x="609.5" y="613.20" width="20.4" height="4.55" fill="rgb(59,59,59)"/><rect x="629.9" y="613.20" width="21.3" height="4.55" fill="rgb(50,50,50)"/><rect x="651.1" y="613.20" width="20.4" height="4.55" fill="rgb(66,66,66)"/><rect x="609.5" y="617.75" width="20.4" height="4.55" fill="rgb(43,43,43)"/><rect x="629.9" y="617.75" width="21.3" height="4.55" fill="rgb(39,39,39)"/><rect x="651.1" y="617.75" width="20.4" height="4.55" fill="rgb(87,87,87)"/><rect x="609.5" y="622.30" width="20.4" height="4.55" fill="rgb(49,49,49)"/><rect x="629.9" y="622.30" width="21.3" height="4.55" fill="rgb(76,76,76)"/><rect x="651.1" y="622.30" width="20.4" height="4.55" fill="rgb(55,55,55)"/><rect x="609.5" y="626.85" width="20.4" height="4.55" fill="rgb(156,156,156)"/><rect x="629.9" y="626.85" width="21.3" height="4.55" fill="rgb(109,109,109)"/><rect x="651.1" y="626.85" width="20.4" height="4.55" fill="rgb(143,143,143)"/><rect x="609.5" y="631.40" width="20.4" height="4.55" fill="rgb(148,148,148)"/><rect x="629.9" y="631.40" width="21.3" height="4.55" fill="rgb(100,100,100)"/><rect x="651.1" y="631.40" width="20.4" height="4.55" fill="rgb(148,148,148)"/><rect x="609.5" y="635.95" width="20.4" height="4.55" fill="rgb(86,86,86)"/><rect x="629.9" y="635.95" width="21.3" height="4.55" fill="rgb(101,101,101)"/><rect x="651.1" y="635.95" width="20.4" height="4.55" fill="rgb(62,62,62)"/><rect x="609.5" y="640.50" width="20.4" height="4.55" fill="rgb(66,66,66)"/><rect x="629.9" y="640.50" width="21.3" height="4.55" fill="rgb(86,86,86)"/><rect x="651.1" y="640.50" width="20.4" height="4.55" fill="rgb(83,83,83)"/><rect x="609.5" y="645.05" width="20.4" height="4.55" fill="rgb(91,91,91)"/><rect x="629.9" y="645.05" width="21.3" height="4.55" fill="rgb(68,68,68)"/><rect x="651.1" y="645.05" width="20.4" height="4.55" fill="rgb(84,84,84)"/><rect x="609.5" y="649.60" width="20.4" height="4.55" fill="rgb(51,51,51)"/><rect x="629.9" y="649.60" width="21.3" height="4.55" fill="rgb(108,108,108)"/><rect x="651.1" y="649.60" width="20.4" height="4.55" fill="rgb(205,205,205)"/><rect x="609.5" y="654.15" width="20.4" height="4.55" fill="rgb(32,32,32)"/><rect x="629.9" y="654.15" width="21.3" height="4.55" fill="rgb(134,134,134)"/><rect x="651.1" y="654.15" width="20.4" height="4.55" fill="rgb(194,194,194)"/><rect x="609.5" y="658.70" width="20.4" height="4.55" fill="rgb(49,49,49)"/><rect x="629.9" y="658.70" width="21.3" height="4.55" fill="rgb(154,154,154)"/><rect x="651.1" y="658.70" width="20.4" height="4.55" fill="rgb(218,218,218)"/><rect x="609.5" y="663.25" width="20.4" height="4.55" fill="rgb(77,77,77)"/><rect x="629.9" y="663.25" width="21.3" height="4.55" fill="rgb(77,77,77)"/><rect x="651.1" y="663.25" width="20.4" height="4.55" fill="rgb(62,62,62)"/><rect x="609.5" y="667.80" width="20.4" height="4.55" fill="rgb(87,87,87)"/><rect x="629.9" y="667.80" width="21.3" height="4.55" fill="rgb(79,79,79)"/><rect x="651.1" y="667.80" width="20.4" height="4.55" fill="rgb(61,61,61)"/><rect x="609.5" y="672.35" width="20.4" height="4.55" fill="rgb(51,51,51)"/><rect x="629.9" y="672.35" width="21.3" height="4.55" fill="rgb(72,72,72)"/><rect x="651.1" y="672.35" width="20.4" height="4.55" fill="rgb(69,69,69)"/><rect x="609.5" y="676.90" width="20.4" height="4.55" fill="rgb(252,252,252)"/><rect x="629.9" y="676.90" width="21.3" height="4.55" fill="rgb(39,39,39)"/><rect x="651.1" y="676.90" width="20.4" height="4.55" fill="rgb(142,142,142)"/><rect x="609.5" y="681.45" width="20.4" height="4.55" fill="rgb(252,252,252)"/><rect x="629.9" y="681.45" width="21.3" height="4.55" fill="rgb(52,52,52)"/><rect x="651.1" y="681.45" width="20.4" height="4.55" fill="rgb(165,165,165)"/><rect x="609.5" y="686.00" width="20.4" height="4.55" fill="rgb(205,205,205)"/><rect x="629.9" y="686.00" width="21.3" height="4.55" fill="rgb(91,91,91)"/><rect x="651.1" y="686.00" width="20.4" height="4.55" fill="rgb(99,99,99)"/><rect x="609.5" y="690.55" width="20.4" height="4.55" fill="rgb(90,90,90)"/><rect x="629.9" y="690.55" width="21.3" height="4.55" fill="rgb(81,81,81)"/><rect x="651.1" y="690.55" width="20.4" height="4.55" fill="rgb(92,92,92)"/><rect x="609.5" y="695.10" width="20.4" height="4.55" fill="rgb(56,56,56)"/><rect x="629.9" y="695.10" width="21.3" height="4.55" fill="rgb(88,88,88)"/><rect x="651.1" y="695.10" width="20.4" height="4.55" fill="rgb(91,91,91)"/><rect x="609.5" y="699.65" width="20.4" height="4.55" fill="rgb(44,44,44)"/><rect x="629.9" y="699.65" width="21.3" height="4.55" fill="rgb(96,96,96)"/><rect x="651.1" y="699.65" width="20.4" height="4.55" fill="rgb(155,155,155)"/><rect x="609.5" y="704.20" width="20.4" height="4.55" fill="rgb(54,54,54)"/><rect x="629.9" y="704.20" width="21.3" height="4.55" fill="rgb(106,106,106)"/><rect x="651.1" y="704.20" width="20.4" height="4.55" fill="rgb(169,169,169)"/><rect x="609.5" y="708.75" width="20.4" height="4.55" fill="rgb(53,53,53)"/><rect x="629.9" y="708.75" width="21.3" height="4.55" fill="rgb(43,43,43)"/><rect x="651.1" y="708.75" width="20.4" height="4.55" fill="rgb(40,40,40)"/><rect x="609.5" y="713.30" width="20.4" height="4.55" fill="rgb(45,45,45)"/><rect x="629.9" y="713.30" width="21.3" height="4.55" fill="rgb(42,42,42)"/><rect x="651.1" y="713.30" width="20.4" height="4.55" fill="rgb(30,30,30)"/><rect x="609.5" y="717.85" width="20.4" height="4.55" fill="rgb(107,107,107)"/><rect x="629.9" y="717.85" width="21.3" height="4.55" fill="rgb(114,114,114)"/><rect x="651.1" y="717.85" width="20.4" height="4.55" fill="rgb(97,97,97)"/><rect x="609.5" y="722.40" width="20.4" height="4.55" fill="rgb(89,89,89)"/><rect x="629.9" y="722.40" width="21.3" height="4.55" fill="rgb(109,109,109)"/><rect x="651.1" y="722.40" width="20.4" height="4.55" fill="rgb(93,93,93)"/><rect x="609.5" y="726.95" width="20.4" height="4.55" fill="rgb(84,84,84)"/><rect x="629.9" y="726.95" width="21.3" height="4.55" fill="rgb(99,99,99)"/><rect x="651.1" y="726.95" width="20.4" height="4.55" fill="rgb(84,84,84)"/><rect x="609.5" y="731.50" width="20.4" height="4.55" fill="rgb(106,106,106)"/><rect x="629.9" y="731.50" width="21.3" height="4.55" fill="rgb(45,45,45)"/><rect x="651.1" y="731.50" width="20.4" height="4.55" fill="rgb(103,103,103)"/><rect x="609.5" y="736.05" width="20.4" height="4.55" fill="rgb(104,104,104)"/><rect x="629.9" y="736.05" width="21.3" height="4.55" fill="rgb(193,193,193)"/><rect x="651.1" y="736.05" width="20.4" height="4.55" fill="rgb(127,127,127)"/><rect x="609.5" y="740.60" width="20.4" height="4.55" fill="rgb(62,62,62)"/><rect x="629.9" y="740.60" width="21.3" height="4.55" fill="rgb(173,173,173)"/><rect x="651.1" y="740.60" width="20.4" height="4.55" fill="rgb(113,113,113)"/><rect x="609.5" y="745.15" width="20.4" height="4.55" fill="rgb(252,252,252)"/><rect x="629.9" y="745.15" width="21.3" height="4.55" fill="rgb(83,83,83)"/><rect x="651.1" y="745.15" width="20.4" height="4.55" fill="rgb(149,149,149)"/><rect x="609.5" y="749.70" width="20.4" height="4.55" fill="rgb(252,252,252)"/><rect x="629.9" y="749.70" width="21.3" height="4.55" fill="rgb(96,96,96)"/><rect x="651.1" y="749.70" width="20.4" height="4.55" fill="rgb(72,72,72)"/><rect x="609.5" y="754.25" width="20.4" height="4.55" fill="rgb(174,174,174)"/><rect x="629.9" y="754.25" width="21.3" height="4.55" fill="rgb(101,101,101)"/><rect x="651.1" y="754.25" width="20.4" height="4.55" fill="rgb(86,86,86)"/><rect x="609.5" y="758.80" width="20.4" height="4.55" fill="rgb(75,75,75)"/><rect x="629.9" y="758.80" width="21.3" height="4.55" fill="rgb(141,141,141)"/><rect x="651.1" y="758.80" width="20.4" height="4.55" fill="rgb(252,252,252)"/><rect x="609.5" y="763.35" width="20.4" height="4.55" fill="rgb(151,151,151)"/><rect x="629.9" y="763.35" width="21.3" height="4.55" fill="rgb(157,157,157)"/><rect x="651.1" y="763.35" width="20.4" height="4.55" fill="rgb(252,252,252)"/><rect x="609.5" y="767.90" width="20.4" height="4.55" fill="rgb(144,144,144)"/><rect x="629.9" y="767.90" width="21.3" height="4.55" fill="rgb(58,58,58)"/><rect x="651.1" y="767.90" width="20.4" height="4.55" fill="rgb(173,173,173)"/><rect x="609.5" y="772.45" width="20.4" height="4.55" fill="rgb(83,83,83)"/><rect x="629.9" y="772.45" width="21.3" height="4.55" fill="rgb(97,97,97)"/><rect x="651.1" y="772.45" width="20.4" height="4.55" fill="rgb(69,69,69)"/><rect x="609.5" y="777.00" width="20.4" height="4.55" fill="rgb(85,85,85)"/><rect x="629.9" y="777.00" width="21.3" height="4.55" fill="rgb(81,81,81)"/><rect x="651.1" y="777.00" width="20.4" height="4.55" fill="rgb(66,66,66)"/><rect x="609.5" y="781.55" width="20.4" height="4.55" fill="rgb(156,156,156)"/><rect x="629.9" y="781.55" width="21.3" height="4.55" fill="rgb(110,110,110)"/><rect x="651.1" y="781.55" width="20.4" height="4.55" fill="rgb(143,143,143)"/><rect x="609.5" y="786.10" width="20.4" height="4.55" fill="rgb(206,206,206)"/><rect x="629.9" y="786.10" width="21.3" height="4.55" fill="rgb(114,114,114)"/><rect x="651.1" y="786.10" width="20.4" height="4.55" fill="rgb(206,206,206)"/><rect x="609.5" y="790.65" width="20.4" height="4.55" fill="rgb(199,199,199)"/><rect x="629.9" y="790.65" width="21.3" height="4.55" fill="rgb(100,100,100)"/><rect x="651.1" y="790.65" width="20.4" height="4.55" fill="rgb(174,174,174)"/><rect x="609.5" y="795.20" width="20.4" height="4.55" fill="rgb(149,149,149)"/><rect x="629.9" y="795.20" width="21.3" height="4.55" fill="rgb(70,70,70)"/><rect x="651.1" y="795.20" width="20.4" height="4.55" fill="rgb(158,158,158)"/><rect x="609.5" y="799.75" width="20.4" height="4.55" fill="rgb(96,96,96)"/><rect x="629.9" y="799.75" width="21.3" height="4.55" fill="rgb(45,45,45)"/><rect x="651.1" y="799.75" width="20.4" height="4.55" fill="rgb(110,110,110)"/><rect x="609.5" y="804.30" width="20.4" height="4.55" fill="rgb(92,92,92)"/><rect x="629.9" y="804.30" width="21.3" height="4.55" fill="rgb(175,175,175)"/><rect x="651.1" y="804.30" width="20.4" height="4.55" fill="rgb(140,140,140)"/><rect x="609.5" y="808.85" width="20.4" height="4.55" fill="rgb(230,230,230)"/><rect x="629.9" y="808.85" width="21.3" height="4.55" fill="rgb(51,51,51)"/><rect x="651.1" y="808.85" width="20.4" height="4.55" fill="rgb(126,126,126)"/><rect x="609.5" y="813.40" width="20.4" height="4.55" fill="rgb(192,192,192)"/><rect x="629.9" y="813.40" width="21.3" height="4.55" fill="rgb(81,81,81)"/><rect x="651.1" y="813.40" width="20.4" height="4.55" fill="rgb(252,252,252)"/><rect x="609.5" y="817.95" width="20.4" height="4.55" fill="rgb(143,143,143)"/><rect x="629.9" y="817.95" width="21.3" height="4.55" fill="rgb(160,160,160)"/><rect x="651.1" y="817.95" width="20.4" height="4.55" fill="rgb(249,249,249)"/><rect x="609.5" y="822.50" width="20.4" height="4.55" fill="rgb(132,132,132)"/><rect x="629.9" y="822.50" width="21.3" height="4.55" fill="rgb(123,123,123)"/><rect x="651.1" y="822.50" width="20.4" height="4.55" fill="rgb(229,229,229)"/><rect x="609.5" y="827.05" width="20.4" height="4.55" fill="rgb(67,67,67)"/><rect x="629.9" y="827.05" width="21.3" height="4.55" fill="rgb(74,74,74)"/><rect x="651.1" y="827.05" width="20.4" height="4.55" fill="rgb(89,89,89)"/><rect x="609.5" y="831.60" width="20.4" height="4.55" fill="rgb(85,85,85)"/><rect x="629.9" y="831.60" width="21.3" height="4.55" fill="rgb(81,81,81)"/><rect x="651.1" y="831.60" width="20.4" height="4.55" fill="rgb(87,87,87)"/><rect x="609.5" y="836.15" width="20.4" height="4.55" fill="rgb(114,114,114)"/><rect x="629.9" y="836.15" width="21.3" height="4.55" fill="rgb(44,44,44)"/><rect x="651.1" y="836.15" width="20.4" height="4.55" fill="rgb(134,134,134)"/><rect x="609.5" y="840.70" width="20.4" height="4.55" fill="rgb(187,187,187)"/><rect x="629.9" y="840.70" width="21.3" height="4.55" fill="rgb(108,108,108)"/><rect x="651.1" y="840.70" width="20.4" height="4.55" fill="rgb(191,191,191)"/><rect x="609.5" y="845.25" width="20.4" height="4.55" fill="rgb(191,191,191)"/><rect x="629.9" y="845.25" width="21.3" height="4.55" fill="rgb(139,139,139)"/><rect x="651.1" y="845.25" width="20.4" height="4.55" fill="rgb(196,196,196)"/><rect x="609.5" y="849.80" width="20.4" height="4.55" fill="rgb(171,171,171)"/><rect x="629.9" y="849.80" width="21.3" height="4.55" fill="rgb(155,155,155)"/><rect x="651.1" y="849.80" width="20.4" height="4.55" fill="rgb(185,185,185)"/><rect x="609.5" y="854.35" width="20.4" height="4.55" fill="rgb(98,98,98)"/><rect x="629.9" y="854.35" width="21.3" height="4.55" fill="rgb(115,115,115)"/><rect x="651.1" y="854.35" width="20.4" height="4.55" fill="rgb(124,124,124)"/><rect x="609.5" y="858.90" width="20.4" height="4.55" fill="rgb(105,105,105)"/><rect x="629.9" y="858.90" width="21.3" height="4.55" fill="rgb(93,93,93)"/><rect x="651.1" y="858.90" width="20.4" height="4.55" fill="rgb(88,88,88)"/><rect x="609.5" y="863.45" width="20.4" height="4.55" fill="rgb(76,76,76)"/><rect x="629.9" y="863.45" width="21.3" height="4.55" fill="rgb(54,54,54)"/><rect x="651.1" y="863.45" width="20.4" height="4.55" fill="rgb(64,64,64)"/><rect x="609.5" y="868.00" width="20.4" height="4.55" fill="rgb(59,59,59)"/><rect x="629.9" y="868.00" width="21.3" height="4.55" fill="rgb(15,15,15)"/><rect x="651.1" y="868.00" width="20.4" height="4.55" fill="rgb(58,58,58)"/><rect x="609.5" y="872.55" width="20.4" height="4.55" fill="rgb(104,104,104)"/><rect x="629.9" y="872.55" width="21.3" height="4.55" fill="rgb(105,105,105)"/><rect x="651.1" y="872.55" width="20.4" height="4.55" fill="rgb(139,139,139)"/><rect x="609.5" y="877.10" width="20.4" height="4.55" fill="rgb(105,105,105)"/><rect x="629.9" y="877.10" width="21.3" height="4.55" fill="rgb(90,90,90)"/><rect x="651.1" y="877.10" width="20.4" height="4.55" fill="rgb(148,148,148)"/><rect x="609.5" y="881.65" width="20.4" height="4.55" fill="rgb(45,45,45)"/><rect x="629.9" y="881.65" width="21.3" height="4.55" fill="rgb(53,53,53)"/><rect x="651.1" y="881.65" width="20.4" height="4.55" fill="rgb(71,71,71)"/><rect x="609.5" y="886.20" width="20.4" height="4.55" fill="rgb(54,54,54)"/><rect x="629.9" y="886.20" width="21.3" height="4.55" fill="rgb(39,39,39)"/><rect x="651.1" y="886.20" width="20.4" height="4.55" fill="rgb(56,56,56)"/><rect x="609.5" y="890.75" width="20.4" height="4.55" fill="rgb(54,54,54)"/><rect x="629.9" y="890.75" width="21.3" height="4.55" fill="rgb(74,74,74)"/><rect x="651.1" y="890.75" width="20.4" height="4.55" fill="rgb(89,89,89)"/><rect x="609.5" y="895.30" width="20.4" height="4.55" fill="rgb(59,59,59)"/><rect x="629.9" y="895.30" width="21.3" height="4.55" fill="rgb(70,70,70)"/><rect x="651.1" y="895.30" width="20.4" height="4.55" fill="rgb(61,61,61)"/><rect x="609.5" y="899.85" width="20.4" height="4.55" fill="rgb(74,74,74)"/><rect x="629.9" y="899.85" width="21.3" height="4.55" fill="rgb(76,76,76)"/><rect x="651.1" y="899.85" width="20.4" height="4.55" fill="rgb(74,74,74)"/><rect x="609.5" y="904.40" width="20.4" height="4.55" fill="rgb(68,68,68)"/><rect x="629.9" y="904.40" width="21.3" height="4.55" fill="rgb(49,49,49)"/><rect x="651.1" y="904.40" width="20.4" height="4.55" fill="rgb(61,61,61)"/><rect x="609.5" y="908.95" width="20.4" height="4.55" fill="rgb(66,66,66)"/><rect x="629.9" y="908.95" width="21.3" height="4.55" fill="rgb(82,82,82)"/><rect x="651.1" y="908.95" width="20.4" height="4.55" fill="rgb(47,47,47)"/><rect x="609.5" y="913.50" width="20.4" height="4.55" fill="rgb(85,85,85)"/><rect x="629.9" y="913.50" width="21.3" height="4.55" fill="rgb(63,63,63)"/><rect x="651.1" y="913.50" width="20.4" height="4.55" fill="rgb(51,51,51)"/></g>
</g>
</g>
<rect x="612.5" y="548" width="56.0" height="368" fill="url(#lines4)"/>
<line x1="628.7" y1="548" x2="628.7" y2="916" stroke="#222" stroke-opacity="0.45" stroke-width="0.7"/>
<line x1="631.8" y1="548" x2="631.8" y2="916" stroke="#222" stroke-opacity="0.45" stroke-width="0.7"/>
<line x1="648.9" y1="548" x2="648.9" y2="916" stroke="#222" stroke-opacity="0.45" stroke-width="0.7"/>
<line x1="652.0" y1="548" x2="652.0" y2="916" stroke="#222" stroke-opacity="0.45" stroke-width="0.7"/>
<rect x="612.5" y="548" width="56.0" height="368" fill="none" stroke="#333" stroke-width="0.9"/>
</g>
<rect x="486.5" y="548.5" width="447" height="367" fill="none" stroke="#10307a" stroke-opacity="0.35" stroke-width="1"/>
<text x="225.2" y="28.5" class="sf" font-size="37.5" text-anchor="middle"><tspan font-style="italic">θ</tspan>=0°</text>
<path d="M34,39.099999999999994 L420,39.099999999999994 L420,43.9 Q227.0,46.9 34,43.9Z" fill="url(#barg)" filter="url(#bb)"/>
<rect x="94" y="44.8" width="266" height="2.8" fill="url(#barg2)" filter="url(#bb)"/>
<text x="709.5" y="28.5" class="sf" font-size="37.5" text-anchor="middle"><tspan font-style="italic">θ</tspan>=30°</text>
<path d="M521,39.099999999999994 L910,39.099999999999994 L910,43.9 Q715.5,46.9 521,43.9Z" fill="url(#barg)" filter="url(#bb)"/>
<rect x="581" y="44.8" width="269" height="2.8" fill="url(#barg2)" filter="url(#bb)"/>
<text x="226" y="504.5" class="sf" font-size="37.5" text-anchor="middle"><tspan font-style="italic">θ</tspan>=45°</text>
<path d="M32,516.0999999999999 L420,516.0999999999999 L420,520.9 Q226.0,523.9 32,520.9Z" fill="url(#barg)" filter="url(#bb)"/>
<rect x="92" y="521.8" width="268" height="2.8" fill="url(#barg2)" filter="url(#bb)"/>
<text x="709.7" y="504.5" class="sf" font-size="37.5" text-anchor="middle"><tspan font-style="italic">θ</tspan>=60°</text>
<path d="M521,516.0999999999999 L910,516.0999999999999 L910,520.9 Q715.5,523.9 521,520.9Z" fill="url(#barg)" filter="url(#bb)"/>
<rect x="581" y="521.8" width="269" height="2.8" fill="url(#barg2)" filter="url(#bb)"/>
<rect x="950.85" y="335.85" width="38.19999999999993" height="324.9" fill="url(#cmapg)" stroke="#000" stroke-width="2.5"/>
<line x1="952.1" y1="364.4" x2="957.1" y2="364.4" stroke="#333" stroke-width="1.3"/>
<line x1="981.8" y1="364.4" x2="987.8" y2="364.4" stroke="#333" stroke-width="1.3"/>
<line x1="952.1" y1="424.3" x2="957.1" y2="424.3" stroke="#333" stroke-width="1.3"/>
<line x1="981.8" y1="424.3" x2="987.8" y2="424.3" stroke="#333" stroke-width="1.3"/>
<line x1="952.1" y1="483.4" x2="957.1" y2="483.4" stroke="#333" stroke-width="1.3"/>
<line x1="981.8" y1="483.4" x2="987.8" y2="483.4" stroke="#333" stroke-width="1.3"/>
<line x1="952.1" y1="542.5" x2="957.1" y2="542.5" stroke="#333" stroke-width="1.3"/>
<line x1="981.8" y1="542.5" x2="987.8" y2="542.5" stroke="#333" stroke-width="1.3"/>
<line x1="952.1" y1="601.3" x2="957.1" y2="601.3" stroke="#333" stroke-width="1.3"/>
<line x1="981.8" y1="601.3" x2="987.8" y2="601.3" stroke="#333" stroke-width="1.3"/>
<text x="947.5" y="248" class="sf" font-size="33">[m]</text>
<text x="953" y="291.5" class="sf" font-size="32">×10<tspan font-size="22" dy="-14">-11</tspan></text>
<text x="969.5" y="328" class="sf" font-size="31" text-anchor="middle">8</text>
<text x="969.5" y="689" class="sf" font-size="31" text-anchor="middle">0</text>
<path d="M74,1025.78 A283.52,283.52 0 0 1 74,1592.82 Z" fill="#eaeaf2"/>
<path d="M74,1220.7 A88.6,88.6 0 0 1 74,1397.8999999999999" fill="none" stroke="#fff" stroke-width="1.6"/>
<path d="M74,1132.1 A177.2,177.2 0 0 1 74,1486.5" fill="none" stroke="#fff" stroke-width="1.6"/>
<path d="M74,1043.5 A265.79999999999995,265.79999999999995 0 0 1 74,1575.1" fill="none" stroke="#fff" stroke-width="1.6"/>
<line x1="74" y1="1309.3" x2="74.0" y2="1592.8" stroke="#fff" stroke-width="1.6"/>
<line x1="74" y1="1309.3" x2="147.4" y2="1583.2" stroke="#fff" stroke-width="1.6"/>
<line x1="74" y1="1309.3" x2="215.8" y2="1554.8" stroke="#fff" stroke-width="1.6"/>
<line x1="74" y1="1309.3" x2="274.5" y2="1509.8" stroke="#fff" stroke-width="1.6"/>
<line x1="74" y1="1309.3" x2="319.5" y2="1451.1" stroke="#fff" stroke-width="1.6"/>
<line x1="74" y1="1309.3" x2="347.9" y2="1382.7" stroke="#fff" stroke-width="1.6"/>
<line x1="74" y1="1309.3" x2="357.5" y2="1309.3" stroke="#fff" stroke-width="1.6"/>
<line x1="74" y1="1309.3" x2="347.9" y2="1235.9" stroke="#fff" stroke-width="1.6"/>
<line x1="74" y1="1309.3" x2="319.5" y2="1167.5" stroke="#fff" stroke-width="1.6"/>
<line x1="74" y1="1309.3" x2="274.5" y2="1108.8" stroke="#fff" stroke-width="1.6"/>
<line x1="74" y1="1309.3" x2="215.8" y2="1063.8" stroke="#fff" stroke-width="1.6"/>
<line x1="74" y1="1309.3" x2="147.4" y2="1035.4" stroke="#fff" stroke-width="1.6"/>
<line x1="74" y1="1309.3" x2="74.0" y2="1025.8" stroke="#fff" stroke-width="1.6"/>
<text x="74.0" y="1625.8" class="ss" font-size="21" text-anchor="middle">-90°</text>
<text x="154.0" y="1615.3" class="ss" font-size="21" text-anchor="middle">-75°</text>
<text x="228.5" y="1584.4" class="ss" font-size="21" text-anchor="middle">-60°</text>
<text x="292.5" y="1535.3" class="ss" font-size="21" text-anchor="middle">-45°</text>
<text x="341.6" y="1471.3" class="ss" font-size="21" text-anchor="middle">-30°</text>
<text x="372.5" y="1396.8" class="ss" font-size="21" text-anchor="middle">-15°</text>
<text x="383.0" y="1316.8" class="ss" font-size="21" text-anchor="middle">0°</text>
<text x="372.5" y="1236.8" class="ss" font-size="21" text-anchor="middle">15°</text>
<text x="341.6" y="1162.3" class="ss" font-size="21" text-anchor="middle">30°</text>
<text x="292.5" y="1098.3" class="ss" font-size="21" text-anchor="middle">45°</text>
<text x="228.5" y="1049.2" class="ss" font-size="21" text-anchor="middle">60°</text>
<text x="154.0" y="1018.3" class="ss" font-size="21" text-anchor="middle">75°</text>
<text x="74.0" y="1007.8" class="ss" font-size="21" text-anchor="middle">90°</text>
<text x="86" y="1219" class="ss" font-size="21" text-anchor="middle">1</text>
<text x="98" y="1131" class="ss" font-size="21" text-anchor="middle">2</text>
<text x="109" y="1043" class="ss" font-size="21" text-anchor="middle">3</text>
<path d="M133.9,1532.7 L140.1,1532.4 L146.5,1532.5 L153.2,1532.9 L160.0,1533.2 L166.9,1533.5 L173.9,1533.6 L180.8,1533.3 L187.7,1532.4 L194.4,1531.0 L200.7,1528.7 L206.7,1525.8 L212.3,1522.2 L217.5,1518.2 L222.5,1513.7 L227.2,1509.0 L231.7,1504.0 L236.0,1499.0 L240.3,1494.0 L244.5,1489.0 L248.8,1484.1 L253.1,1479.3 L257.4,1474.4 L261.5,1469.5 L265.6,1464.4 L269.6,1459.4 L273.5,1454.2 L277.3,1449.0 L281.0,1443.7 L284.6,1438.4 L288.1,1432.9 L291.5,1427.4 L294.8,1421.8 L298.1,1416.2 L301.3,1410.5 L304.3,1404.7 L307.2,1398.8 L310.0,1392.9 L312.6,1386.8 L314.9,1380.7 L317.1,1374.4 L319.0,1368.1 L320.7,1361.7 L322.2,1355.3 L323.6,1348.8 L324.7,1342.3 L325.7,1335.8 L326.4,1329.2 L327.0,1322.6 L327.3,1315.9 L327.4,1309.3 L327.3,1302.7 L326.9,1296.0 L326.4,1289.4 L325.6,1282.9 L324.7,1276.3 L323.5,1269.8 L322.2,1263.3 L320.6,1256.9 L318.9,1250.5 L317.1,1244.2 L315.0,1237.9 L312.7,1231.7 L310.2,1225.7 L307.5,1219.6 L304.7,1213.7 L301.8,1207.9 L298.7,1202.1 L295.5,1196.4 L292.2,1190.8 L288.8,1185.3 L285.4,1179.8 L281.8,1174.4 L278.1,1169.0 L274.3,1163.8 L270.3,1158.6 L266.3,1153.6 L262.2,1148.6 L258.0,1143.6 L253.8,1138.7 L249.4,1133.9 L245.1,1129.0 L240.9,1124.0 L236.6,1118.9 L232.3,1113.9 L227.8,1108.9 L223.0,1104.2 L218.0,1099.7 L212.8,1095.6 L207.1,1092.1 L201.1,1089.1 L194.8,1086.9 L188.1,1085.4 L181.2,1084.5 L174.2,1084.2 L167.2,1084.2 L160.3,1084.5 L153.5,1084.9 L146.8,1085.2 L140.3,1085.3 L134.1,1085.1" fill="none" stroke="#ec6a4c" stroke-width="3.5"/>
<path d="M136.6,1542.9 L143.0,1542.3 L149.6,1542.0 L156.3,1541.8 L163.2,1541.6 L170.1,1541.3 L177.0,1540.7 L184.0,1539.8 L190.8,1538.5 L197.4,1536.6 L203.8,1534.1 L209.8,1530.9 L215.5,1527.2 L220.9,1523.1 L226.0,1518.6 L230.9,1513.8 L235.6,1508.9 L240.2,1503.9 L244.7,1498.9 L249.2,1493.9 L253.8,1489.1 L258.5,1484.4 L263.2,1479.7 L267.9,1474.9 L272.6,1470.1 L277.2,1465.2 L281.7,1460.2 L286.1,1455.1 L290.3,1449.8 L294.3,1444.3 L298.1,1438.7 L301.5,1432.8 L304.8,1426.9 L307.9,1420.9 L310.8,1414.7 L313.4,1408.5 L315.9,1402.2 L318.2,1395.8 L320.3,1389.3 L322.2,1382.8 L323.9,1376.3 L325.4,1369.7 L326.6,1363.0 L327.6,1356.3 L328.4,1349.6 L329.0,1342.9 L329.5,1336.1 L329.8,1329.4 L329.9,1322.7 L330.0,1316.0 L330.1,1309.3 L330.0,1302.6 L329.9,1295.9 L329.7,1289.2 L329.4,1282.5 L329.0,1275.7 L328.4,1269.0 L327.6,1262.3 L326.6,1255.6 L325.4,1249.0 L323.9,1242.3 L322.2,1235.8 L320.4,1229.2 L318.4,1222.8 L316.2,1216.3 L313.8,1210.0 L311.2,1203.7 L308.4,1197.5 L305.4,1191.4 L302.2,1185.4 L298.8,1179.5 L295.2,1173.8 L291.2,1168.2 L287.1,1162.8 L282.8,1157.6 L278.3,1152.5 L273.8,1147.5 L269.1,1142.6 L264.4,1137.8 L259.7,1133.0 L255.1,1128.2 L250.4,1123.4 L245.9,1118.4 L241.4,1113.3 L236.7,1108.3 L232.0,1103.4 L227.1,1098.6 L221.9,1094.1 L216.5,1089.9 L210.7,1086.2 L204.7,1082.9 L198.3,1080.4 L191.7,1078.4 L184.8,1077.0 L177.9,1076.0 L170.9,1075.3 L164.0,1074.9 L157.1,1074.5 L150.4,1074.2 L143.8,1073.8 L137.3,1073.1" fill="none" stroke="#99c1da" stroke-width="3.5"/>
<circle cx="133.9" cy="1532.7" r="9.4" fill="#ec6a4c"/>
<circle cx="200.7" cy="1528.7" r="9.4" fill="#ec6a4c"/>
<circle cx="248.8" cy="1484.1" r="9.4" fill="#ec6a4c"/>
<circle cx="288.1" cy="1432.9" r="9.4" fill="#ec6a4c"/>
<circle cx="317.1" cy="1374.4" r="9.4" fill="#ec6a4c"/>
<circle cx="327.4" cy="1309.3" r="9.4" fill="#ec6a4c"/>
<circle cx="317.1" cy="1244.2" r="9.4" fill="#ec6a4c"/>
<circle cx="288.8" cy="1185.3" r="9.4" fill="#ec6a4c"/>
<circle cx="249.4" cy="1133.9" r="9.4" fill="#ec6a4c"/>
<circle cx="201.1" cy="1089.1" r="9.4" fill="#ec6a4c"/>
<circle cx="134.1" cy="1085.1" r="9.4" fill="#ec6a4c"/>
<rect x="127.1" y="1533.4" width="19" height="19" fill="#99c1da"/>
<rect x="194.3" y="1524.6" width="19" height="19" fill="#99c1da"/>
<rect x="244.3" y="1479.6" width="19" height="19" fill="#99c1da"/>
<rect x="288.6" y="1429.2" width="19" height="19" fill="#99c1da"/>
<rect x="314.4" y="1366.8" width="19" height="19" fill="#99c1da"/>
<rect x="320.6" y="1299.8" width="19" height="19" fill="#99c1da"/>
<rect x="314.4" y="1232.8" width="19" height="19" fill="#99c1da"/>
<rect x="289.3" y="1170.0" width="19" height="19" fill="#99c1da"/>
<rect x="245.6" y="1118.7" width="19" height="19" fill="#99c1da"/>
<rect x="195.2" y="1073.4" width="19" height="19" fill="#99c1da"/>
<rect x="127.8" y="1063.6" width="19" height="19" fill="#99c1da"/>
<rect x="96" y="949.3" width="234" height="33.4" fill="#f0f0f0"/>
<circle cx="109.4" cy="965.7" r="9.4" fill="#ec6a4c"/>
<rect x="228" y="956" width="19" height="19" fill="#99c1da"/>
<text x="130" y="975" class="sf" font-size="29.5">5 kHz</text>
<text x="257.5" y="975" class="sf" font-size="29.5">6 kHz</text>
<text transform="translate(55,1303) rotate(-90)" class="sf" font-size="28.5" text-anchor="middle">Amplification factor</text>
<rect x="570.2" y="958.9" width="356.29999999999995" height="280.4" fill="none" stroke="#000" stroke-width="3"/>
<line x1="555" y1="958.9" x2="570.2" y2="958.9" stroke="#000" stroke-width="3"/>
<text x="547" y="969.4" class="sf" font-size="29" text-anchor="end">15%</text>
<line x1="555" y1="1099.1" x2="570.2" y2="1099.1" stroke="#000" stroke-width="3"/>
<text x="547" y="1109.6" class="sf" font-size="29" text-anchor="end">7.5%</text>
<line x1="555" y1="1239.3" x2="570.2" y2="1239.3" stroke="#000" stroke-width="3"/>
<text x="547" y="1249.8" class="sf" font-size="29" text-anchor="end">0</text>
<text transform="translate(477,1100) rotate(-90)" class="sf" font-size="29" text-anchor="middle">Focal position error</text>
<path d="M598.5,1218.2 L628.2,1204.5 L658.0,1145.6 L687.8,1192.3 L717.6,1172.5 L747.4,1163.4 L777.1,1172.5 L806.9,1192.3 L836.7,1145.6 L866.5,1204.5 L896.2,1218.2" fill="none" stroke="#ec6a4c" stroke-width="3.5" stroke-linejoin="round"/>
<circle cx="598.5" cy="1218.2" r="8.2" fill="#ec6a4c"/>
<circle cx="628.2" cy="1204.5" r="8.2" fill="#ec6a4c"/>
<circle cx="658.0" cy="1145.6" r="8.2" fill="#ec6a4c"/>
<circle cx="687.8" cy="1192.3" r="8.2" fill="#ec6a4c"/>
<circle cx="717.6" cy="1172.5" r="8.2" fill="#ec6a4c"/>
<circle cx="747.4" cy="1163.4" r="8.2" fill="#ec6a4c"/>
<circle cx="777.1" cy="1172.5" r="8.2" fill="#ec6a4c"/>
<circle cx="806.9" cy="1192.3" r="8.2" fill="#ec6a4c"/>
<circle cx="836.7" cy="1145.6" r="8.2" fill="#ec6a4c"/>
<circle cx="866.5" cy="1204.5" r="8.2" fill="#ec6a4c"/>
<circle cx="896.2" cy="1218.2" r="8.2" fill="#ec6a4c"/>
<path d="M598.5,1210.6 L628.2,1234.4 L658.0,1191.3 L687.8,1153.2 L717.6,1041.6 L747.4,1013.7 L777.1,1041.6 L806.9,1153.2 L836.7,1191.3 L866.5,1234.4 L896.2,1210.6" fill="none" stroke="#99c1da" stroke-width="3.5" stroke-linejoin="round"/>
<rect x="591.3" y="1203.4" width="14.4" height="14.4" fill="#99c1da"/>
<rect x="621.0" y="1227.2" width="14.4" height="14.4" fill="#99c1da"/>
<rect x="650.8" y="1184.1" width="14.4" height="14.4" fill="#99c1da"/>
<rect x="680.6" y="1146.0" width="14.4" height="14.4" fill="#99c1da"/>
<rect x="710.4" y="1034.4" width="14.4" height="14.4" fill="#99c1da"/>
<rect x="740.1" y="1006.5" width="14.4" height="14.4" fill="#99c1da"/>
<rect x="769.9" y="1034.4" width="14.4" height="14.4" fill="#99c1da"/>
<rect x="799.7" y="1146.0" width="14.4" height="14.4" fill="#99c1da"/>
<rect x="829.5" y="1184.1" width="14.4" height="14.4" fill="#99c1da"/>
<rect x="859.2" y="1227.2" width="14.4" height="14.4" fill="#99c1da"/>
<rect x="889.0" y="1203.4" width="14.4" height="14.4" fill="#99c1da"/>
<rect x="570.2" y="1265.3" width="356.29999999999995" height="280.60000000000014" fill="none" stroke="#000" stroke-width="3"/>
<line x1="555" y1="1265.3" x2="570.2" y2="1265.3" stroke="#000" stroke-width="3"/>
<text x="547" y="1275.8" class="sf" font-size="29" text-anchor="end">1</text>
<line x1="560" y1="1300.4" x2="570.2" y2="1300.4" stroke="#000" stroke-width="3"/>
<line x1="555" y1="1335.4" x2="570.2" y2="1335.4" stroke="#000" stroke-width="3"/>
<text x="547" y="1345.9" class="sf" font-size="29" text-anchor="end">0.5</text>
<line x1="560" y1="1370.5" x2="570.2" y2="1370.5" stroke="#000" stroke-width="3"/>
<line x1="555" y1="1405.6" x2="570.2" y2="1405.6" stroke="#000" stroke-width="3"/>
<text x="547" y="1416.1" class="sf" font-size="29" text-anchor="end">0</text>
<line x1="560" y1="1440.7" x2="570.2" y2="1440.7" stroke="#000" stroke-width="3"/>
<line x1="555" y1="1475.8" x2="570.2" y2="1475.8" stroke="#000" stroke-width="3"/>
<text x="547" y="1486.2" class="sf" font-size="29" text-anchor="end">-0.5</text>
<line x1="560" y1="1510.8" x2="570.2" y2="1510.8" stroke="#000" stroke-width="3"/>
<line x1="555" y1="1545.9" x2="570.2" y2="1545.9" stroke="#000" stroke-width="3"/>
<text x="547" y="1556.4" class="sf" font-size="29" text-anchor="end">-1</text>
<line x1="568.7" y1="1545.9" x2="568.7" y2="1560.9" stroke="#000" stroke-width="3"/>
<text x="549.4" y="1588.5" class="sf" font-size="29">-90°</text>
<line x1="613.4" y1="1545.9" x2="613.4" y2="1555.9" stroke="#000" stroke-width="3"/>
<line x1="658.0" y1="1545.9" x2="658.0" y2="1560.9" stroke="#000" stroke-width="3"/>
<text x="638.7" y="1588.5" class="sf" font-size="29">-45°</text>
<line x1="702.7" y1="1545.9" x2="702.7" y2="1555.9" stroke="#000" stroke-width="3"/>
<line x1="747.4" y1="1545.9" x2="747.4" y2="1560.9" stroke="#000" stroke-width="3"/>
<text x="740.1" y="1588.5" class="sf" font-size="29">0°</text>
<line x1="792.0" y1="1545.9" x2="792.0" y2="1555.9" stroke="#000" stroke-width="3"/>
<line x1="836.7" y1="1545.9" x2="836.7" y2="1560.9" stroke="#000" stroke-width="3"/>
<text x="822.2" y="1588.5" class="sf" font-size="29">45°</text>
<line x1="881.3" y1="1545.9" x2="881.3" y2="1555.9" stroke="#000" stroke-width="3"/>
<line x1="926.0" y1="1545.9" x2="926.0" y2="1560.9" stroke="#000" stroke-width="3"/>
<text x="911.5" y="1588.5" class="sf" font-size="29">90°</text>
<text x="748" y="1623" class="sf" font-size="38" font-style="italic" text-anchor="middle">θ</text>
<text transform="translate(481.5,1405.6) rotate(-90)" class="sf" font-size="31" text-anchor="middle"><tspan font-style="italic">φ</tspan><tspan font-size="22" font-style="italic" dy="3" dx="1">c</tspan><tspan font-size="34" dy="-3" dx="2">[</tspan><tspan font-style="italic">π</tspan><tspan font-size="34">]</tspan></text>
<path d="M598.5,1512.2 L628.2,1300.4 L658.0,1349.5 L687.8,1416.8 L717.6,1458.9 L747.4,1449.1 L777.1,1458.9 L806.9,1416.8 L836.7,1349.5 L866.5,1300.4 L896.2,1512.2" fill="none" stroke="#ec6a4c" stroke-width="3.5" stroke-linejoin="round"/>
<circle cx="598.5" cy="1512.2" r="8.2" fill="#ec6a4c"/>
<circle cx="628.2" cy="1300.4" r="8.2" fill="#ec6a4c"/>
<circle cx="658.0" cy="1349.5" r="8.2" fill="#ec6a4c"/>
<circle cx="687.8" cy="1416.8" r="8.2" fill="#ec6a4c"/>
<circle cx="717.6" cy="1458.9" r="8.2" fill="#ec6a4c"/>
<circle cx="747.4" cy="1449.1" r="8.2" fill="#ec6a4c"/>
<circle cx="777.1" cy="1458.9" r="8.2" fill="#ec6a4c"/>
<circle cx="806.9" cy="1416.8" r="8.2" fill="#ec6a4c"/>
<circle cx="836.7" cy="1349.5" r="8.2" fill="#ec6a4c"/>
<circle cx="866.5" cy="1300.4" r="8.2" fill="#ec6a4c"/>
<circle cx="896.2" cy="1512.2" r="8.2" fill="#ec6a4c"/>
<path d="M598.5,1487.0 L628.2,1289.2 L658.0,1349.5 L687.8,1412.6 L717.6,1429.5 L747.4,1443.5 L777.1,1429.5 L806.9,1412.6 L836.7,1349.5 L866.5,1289.2 L896.2,1487.0" fill="none" stroke="#99c1da" stroke-width="3.5" stroke-linejoin="round"/>
<rect x="591.3" y="1479.8" width="14.4" height="14.4" fill="#99c1da"/>
<rect x="621.0" y="1282.0" width="14.4" height="14.4" fill="#99c1da"/>
<rect x="650.8" y="1342.3" width="14.4" height="14.4" fill="#99c1da"/>
<rect x="680.6" y="1405.4" width="14.4" height="14.4" fill="#99c1da"/>
<rect x="710.4" y="1422.3" width="14.4" height="14.4" fill="#99c1da"/>
<rect x="740.1" y="1436.3" width="14.4" height="14.4" fill="#99c1da"/>
<rect x="769.9" y="1422.3" width="14.4" height="14.4" fill="#99c1da"/>
<rect x="799.7" y="1405.4" width="14.4" height="14.4" fill="#99c1da"/>
<rect x="829.5" y="1342.3" width="14.4" height="14.4" fill="#99c1da"/>
<rect x="859.2" y="1282.0" width="14.4" height="14.4" fill="#99c1da"/>
<rect x="889.0" y="1479.8" width="14.4" height="14.4" fill="#99c1da"/>
<text x="-2" y="22.5" class="sf" font-size="36" font-weight="bold">a</text>
<text x="5" y="974" class="sf" font-size="34" font-weight="bold">b</text>
<text x="456" y="966.2" class="sf" font-size="36" font-weight="bold">c</text>
<text x="456" y="1277" class="sf" font-size="34" font-weight="bold">d</text>
<path d="M731.1,217.6 L669.7,249.8 L731.6,249.8" fill="none" stroke="#000" stroke-width="3"/>
<path d="M714.3000000000001,249.8 A44.6,44.6 0 0 0 709.2,229.1" fill="none" stroke="#000" stroke-width="2.6"/>
<text x="730" y="245.5" class="sf" font-size="36.5"><tspan font-style="italic">θ</tspan>=28.7°</text>
<path d="M232.6,684 L184.5,731.4 L249,731.4" fill="none" stroke="#000" stroke-width="3"/>
<path d="M233.0,731.4 A48.5,48.5 0 0 0 219.0,697.4" fill="none" stroke="#000" stroke-width="2.6"/>
<text x="241.5" y="726" class="sf" font-size="36.5"><tspan font-style="italic">θ</tspan>=46.5°</text>
<path d="M707.9,671.8 L670.4,730.8 L734.5,730.8" fill="none" stroke="#000" stroke-width="3"/>
<path d="M714.9,730.8 A44.5,44.5 0 0 0 694.3,693.2" fill="none" stroke="#000" stroke-width="2.6"/>
<text x="723.5" y="725.5" class="sf" font-size="36.5"><tspan font-style="italic">θ</tspan>=59.6°</text>
</svg></body></html>
